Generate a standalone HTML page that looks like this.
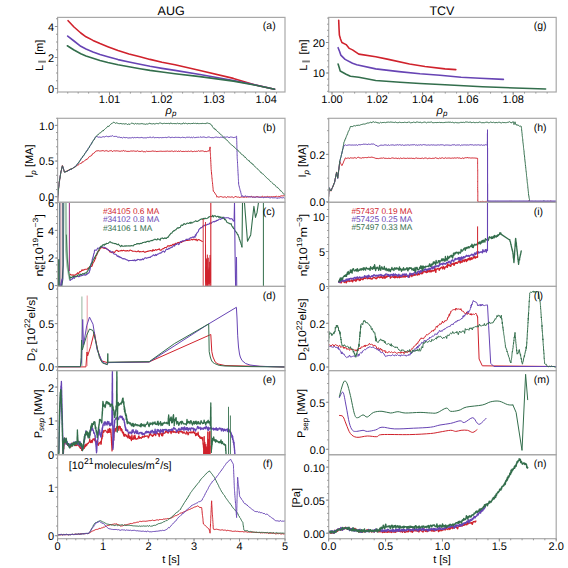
<!DOCTYPE html><html><head><meta charset="utf-8"><style>html,body{margin:0;padding:0;background:#fff;width:568px;height:568px;overflow:hidden}svg{display:block}</style></head><body><svg width="568" height="568" viewBox="0 0 568 568" text-rendering="geometricPrecision" font-family='"Liberation Sans", sans-serif'>
<rect width="568" height="568" fill="#fff"/>
<text x="171.10" y="14.80" font-size="12.50" text-anchor="middle" fill="#000" >AUG</text>
<text x="441.90" y="14.80" font-size="12.50" text-anchor="middle" fill="#000" >TCV</text>
<clipPath id="cl0"><rect x="57.60" y="17.40" width="227.40" height="74.60"/></clipPath>
<clipPath id="cr0"><rect x="328.70" y="17.40" width="227.50" height="74.60"/></clipPath>
<clipPath id="cl1"><rect x="57.60" y="118.30" width="227.40" height="84.00"/></clipPath>
<clipPath id="cr1"><rect x="328.70" y="118.30" width="227.50" height="84.00"/></clipPath>
<clipPath id="cl2"><rect x="57.60" y="202.30" width="227.40" height="84.10"/></clipPath>
<clipPath id="cr2"><rect x="328.70" y="202.30" width="227.50" height="84.10"/></clipPath>
<clipPath id="cl3"><rect x="57.60" y="286.40" width="227.40" height="84.20"/></clipPath>
<clipPath id="cr3"><rect x="328.70" y="286.40" width="227.50" height="84.20"/></clipPath>
<clipPath id="cl4"><rect x="57.60" y="370.60" width="227.40" height="84.10"/></clipPath>
<clipPath id="cr4"><rect x="328.70" y="370.60" width="227.50" height="84.10"/></clipPath>
<clipPath id="cl5"><rect x="57.60" y="454.70" width="227.40" height="84.00"/></clipPath>
<clipPath id="cr5"><rect x="328.70" y="454.70" width="227.50" height="84.00"/></clipPath>
<g clip-path="url(#cl0)">
<polyline points="68.1,20.7 74.0,27.0 80.8,33.0 86.0,36.8 93.0,40.4 100.0,43.6 107.8,46.7 118.0,50.5 129.0,54.0 140.0,56.8 150.0,59.4 162.0,62.2 175.0,64.7 200.0,70.5 233.4,78.4 254.5,84.7 274.6,89.2" fill="none" stroke="#d0222c" stroke-width="1.60" stroke-linejoin="round" stroke-linecap="round" opacity="1.00" />
<polyline points="67.7,36.1 74.0,41.0 80.8,46.3 86.0,49.0 93.0,52.0 100.0,54.6 107.8,56.8 118.0,59.6 129.0,62.0 140.0,64.3 150.0,66.3 162.0,68.4 175.0,70.4 200.0,74.5 233.4,80.5 254.5,84.8 274.6,89.2" fill="none" stroke="#6744b4" stroke-width="1.60" stroke-linejoin="round" stroke-linecap="round" opacity="1.00" />
<polyline points="67.3,45.8 74.0,50.0 80.8,53.7 86.0,56.0 93.0,58.3 100.0,60.5 107.8,62.5 118.0,64.8 129.0,66.8 140.0,68.7 150.0,70.4 162.0,72.0 175.0,73.7 200.0,76.6 233.4,81.1 254.5,85.0 274.6,89.2" fill="none" stroke="#336e4c" stroke-width="1.60" stroke-linejoin="round" stroke-linecap="round" opacity="1.00" />
</g>
<g clip-path="url(#cr0)">
<polyline points="338.7,20.3 339.0,28.0 339.4,35.1 340.5,39.0 341.9,42.5 346.1,44.6 349.3,48.4 352.5,49.9 358.8,54.1 375.7,56.8 388.4,59.4 409.5,64.0 425.0,66.5 445.0,68.9 455.8,69.6" fill="none" stroke="#d0222c" stroke-width="1.60" stroke-linejoin="round" stroke-linecap="round" opacity="1.00" />
<polyline points="338.1,47.7 339.6,51.5 340.8,55.1 345.1,59.4 352.5,63.2 356.7,64.7 375.7,68.9 399.0,71.6 420.0,73.8 440.0,75.2 461.1,77.3 480.0,78.2 503.4,79.4" fill="none" stroke="#6744b4" stroke-width="1.60" stroke-linejoin="round" stroke-linecap="round" opacity="1.00" />
<polyline points="338.1,64.0 339.2,67.5 340.2,71.0 346.1,74.2 350.4,76.3 358.8,77.3 375.7,80.5 400.0,82.2 420.0,83.5 445.0,84.7 482.3,86.8 515.0,88.0 545.6,89.0" fill="none" stroke="#336e4c" stroke-width="1.60" stroke-linejoin="round" stroke-linecap="round" opacity="1.00" />
</g>
<g clip-path="url(#cl1)">
<polyline points="57.6,202.0 57.6,201.5 57.7,200.7 57.7,199.4 57.7,198.7 57.7,197.8 57.8,197.3 57.8,196.3 57.9,195.7 58.0,194.2 58.0,194.3 58.1,193.1 58.2,192.4 58.3,191.4 58.4,190.6 58.5,190.0 58.5,189.3 58.6,188.2 58.7,187.4 58.8,186.8 58.9,185.6 59.0,184.6 59.0,184.3 59.1,183.2 59.2,182.1 59.3,181.6 59.5,180.9 59.6,179.9 59.7,179.0 59.9,178.5 60.0,177.9 60.1,176.8 60.2,175.9 60.4,175.4 60.5,174.6 60.6,173.6 60.8,173.0 60.9,172.3 61.1,171.2 61.3,170.2 61.5,169.7 61.6,168.9 61.8,168.3 62.0,167.0 62.2,166.3 62.4,165.5 62.7,166.1 62.9,167.3 63.2,168.2 63.5,168.7 63.7,170.0 64.0,170.6 64.2,171.4 64.5,172.1 65.3,171.9 66.2,171.0 67.0,171.2 67.9,170.7 68.9,169.6 69.8,169.6 70.9,169.1 72.0,169.0 72.7,168.2 73.4,167.9 74.0,167.5 74.7,166.8 75.4,166.7 76.1,166.1 76.8,165.8 77.5,165.1 78.2,165.0 78.9,164.5 79.6,163.8 80.3,163.6 81.0,163.3 81.8,163.0 82.5,161.7 83.2,161.9 83.9,161.3 84.6,160.7 85.3,160.0 86.0,160.2 86.7,159.1 87.3,159.0 88.0,158.6 88.6,157.3 89.2,157.1 89.9,156.2 90.5,156.1 91.1,155.8 91.8,155.4 92.4,153.9 93.0,153.6 93.7,153.3 94.3,153.0 94.9,152.1 95.6,151.3 96.2,151.0 97.0,150.9 97.9,150.8 98.7,150.7 99.5,151.0 100.4,151.0 101.2,150.9 102.0,150.8 102.9,150.6 103.7,150.8 104.5,151.2 105.3,150.9 106.2,150.5 107.0,151.2 107.8,151.0 108.7,151.4 109.5,150.9 110.3,150.8 111.2,150.5 112.0,151.2 112.8,151.6 113.6,150.7 114.4,150.8 115.2,151.1 116.0,150.7 116.8,150.9 117.6,150.9 118.4,151.0 119.2,151.3 120.0,151.0 120.8,151.3 121.6,150.9 122.4,151.1 123.2,150.5 124.0,150.7 124.8,151.3 125.6,150.9 126.4,151.3 127.2,151.3 128.0,151.5 128.8,151.3 129.6,151.4 130.4,151.1 131.2,151.0 132.0,151.0 132.8,151.1 133.6,150.9 134.4,151.1 135.2,151.2 136.0,151.3 136.8,151.2 137.6,150.8 138.4,151.3 139.2,151.3 140.0,151.6 140.8,151.4 141.6,151.1 142.4,151.1 143.2,151.8 144.1,151.5 144.9,151.8 145.7,151.8 146.5,151.1 147.3,151.4 148.1,151.4 148.9,151.4 149.7,151.4 150.5,151.4 151.4,151.3 152.2,150.9 153.0,151.3 153.8,151.1 154.6,151.3 155.4,151.2 156.2,151.5 157.0,151.5 157.8,151.4 158.6,151.4 159.5,151.3 160.3,151.2 161.1,151.3 161.9,151.2 162.7,151.4 163.5,151.3 164.3,151.4 165.1,151.0 165.9,151.5 166.8,151.1 167.6,151.1 168.4,151.3 169.2,151.2 170.0,151.4 170.8,151.2 171.6,151.0 172.4,151.1 173.3,151.6 174.1,151.3 174.9,151.0 175.7,151.3 176.5,150.9 177.3,151.7 178.1,150.9 179.0,151.4 179.8,151.4 180.6,150.9 181.4,151.4 182.2,151.5 183.0,151.4 183.8,151.4 184.7,151.5 185.5,151.3 186.3,151.4 187.1,151.3 187.9,151.5 188.7,151.1 189.6,151.5 190.4,151.2 191.2,151.0 192.0,151.4 192.8,151.7 193.6,151.5 194.4,151.2 195.3,151.5 196.1,151.2 196.9,151.3 197.7,151.3 198.5,150.7 199.3,151.3 200.1,151.0 201.0,151.1 201.8,150.9 202.6,150.9 203.4,151.1 204.2,151.5 205.0,151.7 205.8,151.3 206.7,151.6 207.5,151.2 208.3,150.8 209.1,151.3 209.3,150.6 209.5,149.5 209.7,148.9 209.9,148.1 210.1,146.9 210.1,147.5 210.2,148.7 210.2,149.5 210.3,150.3 210.3,151.4 210.3,152.4 210.4,152.7 210.4,153.8 210.5,154.7 210.5,155.4 210.5,156.3 210.6,156.8 210.6,157.9 210.6,159.0 210.7,159.5 210.7,160.0 210.8,161.1 210.8,162.1 210.8,162.7 210.9,163.2 210.9,164.6 211.0,164.7 211.0,166.0 211.0,166.6 211.1,167.2 211.1,168.6 211.2,169.2 211.2,169.6 211.3,170.9 211.4,171.4 211.4,171.9 211.5,173.0 211.6,174.0 211.7,174.9 211.8,175.6 211.8,176.4 211.9,177.3 212.0,178.0 212.1,179.1 212.2,179.7 212.2,180.5 212.3,181.4 212.4,181.8 212.5,182.7 212.6,184.1 212.7,184.6 212.7,185.2 212.8,186.2 212.9,186.8 213.0,187.8 213.1,188.4 213.1,189.4 213.2,189.8 213.3,191.3 213.8,191.5 214.2,191.9 214.7,192.9 215.2,193.6 215.6,194.4 216.1,194.7 216.6,195.8 217.0,197.2 217.5,196.7 218.3,197.1 219.1,196.9 219.9,197.0 220.7,196.5 221.5,196.7 222.3,197.1 223.1,197.0 223.9,197.4 224.7,196.8 225.5,197.0 226.3,197.7 227.1,196.8 227.9,196.8 228.8,197.0 229.6,197.0 230.4,197.2 231.2,197.0 232.0,196.8 232.8,197.1 233.6,197.7 234.4,197.3 235.2,196.3 236.0,197.0 236.8,196.8 237.6,197.2 238.4,197.0 239.2,197.5 240.0,197.2 240.8,197.2 241.6,197.0 242.4,197.0 243.2,197.1 244.1,197.3 244.9,197.1 245.7,196.9 246.5,197.3 247.3,197.0 248.1,196.9 248.9,196.7 249.7,196.8 250.5,196.8 251.4,196.2 252.2,197.2 253.0,197.1 253.8,196.9 254.6,197.2 255.4,197.0 256.2,197.0 257.0,196.3 257.8,196.8 258.6,197.0 259.5,197.3 260.3,197.3 261.1,197.2 261.9,196.6 262.7,196.3 263.5,197.0 264.3,196.8 265.1,197.1 265.9,196.8 266.8,196.9 267.6,196.4 268.4,196.9 269.2,196.7 270.0,196.9 270.8,196.9 271.7,196.7 272.5,196.8 273.3,196.6 274.2,196.8 275.0,196.7 275.8,196.4 276.7,196.3 277.5,196.9 278.3,196.4 279.2,196.6 280.0,196.4 280.8,196.0 281.7,195.8 282.5,195.9 283.3,195.8 284.2,195.8 285.0,195.2" fill="none" stroke="#d0222c" stroke-width="1.00" stroke-linejoin="round" stroke-linecap="round" opacity="1.00" />
<polyline points="57.6,202.0 57.6,201.4 57.7,200.6 57.7,199.7 57.7,199.1 57.7,197.6 57.8,197.0 57.8,196.0 57.9,195.5 58.0,194.9 58.0,193.9 58.1,193.2 58.2,191.8 58.3,191.5 58.4,190.4 58.5,190.3 58.5,189.3 58.6,188.5 58.7,187.4 58.8,186.8 58.9,186.0 59.0,184.9 59.0,184.1 59.1,183.4 59.2,182.4 59.3,181.6 59.5,180.9 59.6,180.0 59.7,179.5 59.9,178.1 60.0,177.9 60.1,176.7 60.2,175.9 60.4,174.9 60.5,174.4 60.6,173.6 60.8,172.9 60.9,171.9 61.1,171.2 61.3,170.9 61.5,169.7 61.6,168.7 61.8,168.3 62.0,167.2 62.2,166.6 62.4,165.9 62.7,166.4 62.9,166.8 63.2,168.0 63.5,169.0 63.7,169.5 64.0,170.5 64.2,171.5 64.5,171.9 65.3,172.0 66.2,171.7 67.0,171.3 67.9,170.8 68.9,170.3 69.8,170.1 70.9,169.2 72.0,168.8 72.7,168.5 73.4,167.7 74.0,167.1 74.7,166.8 75.4,166.6 76.1,166.2 76.6,165.0 77.1,164.3 77.5,164.0 78.0,163.3 78.5,162.7 79.0,162.2 79.5,161.6 80.0,160.7 80.4,160.1 80.9,159.0 81.4,158.3 81.9,158.0 82.4,157.4 82.8,156.7 83.3,156.0 83.8,155.4 84.3,154.7 84.8,153.4 85.3,153.0 85.7,152.6 86.2,151.9 86.7,150.7 87.1,150.7 87.6,149.6 88.0,149.0 88.4,148.4 88.9,147.9 89.3,146.7 89.7,146.6 90.2,145.7 90.6,144.8 91.0,144.2 91.5,143.1 91.9,142.8 92.3,142.3 92.7,141.4 93.2,140.8 93.6,140.2 94.0,139.5 94.5,139.1 94.9,138.1 95.3,137.4 95.8,136.9 96.2,136.6 97.2,136.6 98.3,137.3 99.1,136.7 99.9,137.4 100.8,137.2 101.6,137.3 102.4,136.9 103.2,136.6 104.1,137.0 104.9,136.9 105.7,136.4 106.5,136.2 107.3,136.6 108.2,136.4 109.0,137.1 109.8,136.2 110.6,136.2 111.5,136.2 112.3,135.7 113.1,135.9 113.9,136.7 114.7,136.4 115.5,136.4 116.3,136.3 117.1,137.0 117.8,137.1 118.6,137.2 119.4,137.1 120.2,137.5 121.0,137.6 121.8,137.5 122.6,138.0 123.4,137.3 124.2,137.5 125.0,137.7 125.8,137.7 126.6,137.5 127.4,137.8 128.2,138.0 129.0,137.9 129.9,137.8 130.7,137.9 131.5,137.8 132.3,137.4 133.1,137.7 133.9,138.0 134.7,137.4 135.5,137.7 136.3,137.6 137.1,137.5 137.9,137.4 138.7,137.7 139.5,137.7 140.3,137.7 141.1,137.3 141.9,137.6 142.8,137.7 143.6,137.9 144.4,137.8 145.2,137.8 146.0,137.9 146.8,137.8 147.6,137.4 148.4,137.6 149.2,137.4 150.0,137.0 150.8,137.2 151.6,138.1 152.4,137.3 153.2,137.0 154.0,137.4 154.8,137.9 155.7,137.5 156.5,137.6 157.3,137.5 158.1,137.5 158.9,137.8 159.7,137.7 160.5,137.5 161.3,137.7 162.1,137.8 162.9,137.4 163.7,137.6 164.5,137.5 165.3,137.3 166.1,137.8 166.9,137.4 167.7,137.3 168.6,137.0 169.4,137.1 170.2,137.8 171.0,137.1 171.8,137.5 172.6,137.3 173.4,137.5 174.2,137.6 175.0,137.2 175.8,137.3 176.6,137.4 177.4,137.4 178.2,137.4 179.0,137.3 179.8,137.5 180.6,137.7 181.5,137.5 182.3,137.2 183.1,137.5 183.9,137.4 184.7,137.5 185.5,137.8 186.3,137.3 187.1,137.4 187.9,137.1 188.7,137.3 189.5,137.2 190.3,137.7 191.1,137.4 191.9,137.2 192.7,137.8 193.6,137.0 194.4,137.6 195.2,137.6 196.0,137.5 196.8,137.3 197.6,137.3 198.4,137.2 199.2,137.5 200.0,136.7 200.8,137.2 201.6,137.3 202.4,137.2 203.2,136.9 204.0,137.2 204.8,137.1 205.7,137.5 206.5,137.6 207.3,137.3 208.1,136.8 208.9,137.2 209.7,137.1 210.5,137.5 211.3,137.7 212.1,137.4 212.9,137.8 213.7,137.7 214.5,137.4 215.3,137.1 216.1,137.3 216.9,136.9 217.8,137.5 218.6,137.3 219.4,137.6 220.2,137.4 221.0,136.8 221.8,137.4 222.6,137.5 223.4,137.7 224.2,137.0 225.0,137.0 225.8,137.3 226.6,137.0 227.4,136.9 228.2,137.0 229.0,137.9 229.9,137.1 230.7,137.0 231.5,137.1 232.3,137.2 233.1,137.6 233.9,137.5 234.7,137.4 235.5,137.2 236.6,136.2 236.6,136.8 236.6,137.4 236.7,139.1 236.7,139.3 236.7,140.5 236.7,140.9 236.8,141.8 236.8,142.6 236.8,143.1 236.8,144.3 236.9,145.2 236.9,146.1 236.9,146.8 236.9,147.8 236.9,148.4 237.0,149.2 237.0,149.5 237.0,150.7 237.0,152.0 237.1,152.5 237.1,153.4 237.1,154.0 237.1,154.7 237.2,156.2 237.2,156.6 237.2,157.7 237.2,158.3 237.3,158.9 237.3,159.2 237.4,160.6 237.4,161.0 237.5,161.6 237.5,163.3 237.6,163.9 237.6,164.7 237.6,165.4 237.7,166.2 237.7,167.1 237.8,167.8 237.8,168.6 237.9,169.6 237.9,169.6 237.9,171.2 238.0,171.7 238.0,172.8 238.1,173.7 238.1,174.0 238.2,175.2 238.2,176.0 238.3,176.5 238.3,177.3 238.3,178.3 238.4,178.5 238.4,179.8 238.5,180.7 238.5,181.4 238.6,181.9 238.6,183.0 238.7,184.3 238.7,185.0 238.9,185.4 239.1,186.0 239.3,187.0 239.5,187.8 239.7,188.4 239.9,189.3 240.1,190.3 240.4,191.1 240.6,191.1 240.8,192.7 241.0,193.2 241.2,194.3 241.4,194.7 241.6,195.6 241.8,196.7 242.6,195.6 243.5,196.8 244.3,196.5 245.1,196.0 245.9,195.9 246.8,196.7 247.6,196.4 248.4,196.9 249.2,196.8 250.1,196.7 250.9,197.0 251.7,196.9 252.6,197.1 253.4,197.1 254.2,197.1 255.0,197.2 255.9,197.3 256.7,196.8 257.5,197.1 258.3,197.2 259.2,197.2 260.0,196.9 260.8,197.2 261.6,197.4 262.4,197.4 263.2,197.8 264.0,197.3 264.9,197.3 265.7,197.3 266.5,197.4 267.3,197.4 268.1,197.1 268.9,197.6 269.7,197.8 270.5,197.9 271.3,197.3 272.1,197.6 273.0,198.1 273.8,197.7 274.6,197.8 275.4,197.7 276.2,198.0 277.0,198.0 277.8,198.4 278.6,197.9 279.4,198.0 280.2,197.6 281.1,197.8 281.9,197.7 282.7,197.9 283.5,197.6 284.3,198.3 285.1,197.7" fill="none" stroke="#6744b4" stroke-width="1.00" stroke-linejoin="round" stroke-linecap="round" opacity="1.00" />
<polyline points="57.6,202.5 57.6,200.4 57.7,200.6 57.7,199.6 57.7,199.1 57.7,198.0 57.8,197.6 57.8,196.3 57.9,195.4 58.0,194.8 58.0,194.0 58.1,193.0 58.2,192.2 58.3,191.6 58.4,190.8 58.5,189.7 58.5,189.0 58.6,187.8 58.7,187.9 58.8,186.6 58.9,186.2 59.0,185.1 59.0,184.7 59.1,183.8 59.2,182.7 59.3,182.2 59.5,180.7 59.6,180.5 59.7,179.0 59.9,178.6 60.0,178.0 60.1,176.9 60.2,176.0 60.4,175.1 60.5,174.4 60.6,173.9 60.8,173.0 60.9,171.9 61.1,170.9 61.3,170.6 61.5,169.3 61.6,168.7 61.8,167.9 62.0,167.5 62.2,166.5 62.4,165.8 62.7,166.6 62.9,167.1 63.2,168.2 63.5,169.2 63.7,169.6 64.0,170.6 64.2,171.2 64.5,172.3 65.3,171.8 66.2,171.6 67.0,171.1 67.9,170.9 68.9,169.9 69.8,169.4 70.9,169.0 72.0,169.0 72.7,168.2 73.4,167.7 74.0,167.6 74.7,167.3 75.4,166.7 76.1,165.4 76.6,165.2 77.1,164.5 77.5,163.8 78.0,163.3 78.5,163.1 79.0,161.9 79.5,161.1 80.0,160.8 80.4,160.0 80.9,159.3 81.4,158.4 81.9,157.9 82.4,157.3 82.8,156.1 83.3,155.5 83.8,155.5 84.3,154.7 84.8,153.7 85.3,152.9 85.7,152.4 86.2,151.5 86.7,151.0 87.1,150.8 87.6,149.8 88.0,149.3 88.4,148.3 88.9,147.8 89.3,147.4 89.7,146.0 90.2,145.6 90.6,144.9 91.0,144.4 91.5,144.0 91.9,143.1 92.3,141.9 92.7,141.5 93.2,140.6 93.6,140.0 94.0,140.0 94.5,138.6 94.9,138.2 95.3,137.3 95.8,137.0 96.2,136.2 96.8,135.6 97.5,135.1 98.1,134.9 98.7,133.8 99.3,133.4 100.0,132.8 100.6,132.9 101.2,132.0 101.8,131.3 102.5,130.9 103.1,131.1 103.7,130.0 104.3,129.7 105.0,129.1 105.6,128.5 106.2,127.8 106.8,127.4 107.5,126.9 108.1,125.9 108.7,126.6 109.3,125.7 110.0,125.0 110.6,124.4 111.2,123.7 111.8,123.7 112.5,122.9 113.1,122.5 113.9,122.2 114.7,122.7 115.5,123.3 116.3,122.8 117.1,123.2 117.8,123.2 118.6,123.6 119.4,123.7 120.2,123.5 121.0,123.5 121.8,123.8 122.6,123.9 123.4,123.7 124.2,124.0 125.0,124.0 125.8,123.7 126.6,123.8 127.4,124.6 128.2,124.1 129.0,123.9 129.9,124.5 130.7,123.7 131.5,123.2 132.3,123.3 133.1,123.4 133.9,123.9 134.7,124.1 135.5,123.3 136.3,124.1 137.1,123.5 137.9,123.8 138.7,123.9 139.5,123.9 140.3,123.8 141.1,123.8 141.9,123.5 142.8,123.8 143.6,124.0 144.4,124.0 145.2,124.4 146.0,124.0 146.8,123.9 147.6,124.1 148.4,123.8 149.2,123.4 150.0,123.1 150.8,124.0 151.6,123.8 152.4,123.9 153.2,123.6 154.0,123.7 154.8,124.1 155.7,123.7 156.5,123.4 157.3,123.5 158.1,124.0 158.9,123.4 159.7,123.0 160.5,123.0 161.3,123.3 162.1,123.8 162.9,123.6 163.7,123.4 164.5,123.3 165.3,123.5 166.1,123.5 166.9,123.4 167.7,123.5 168.6,123.4 169.4,124.0 170.2,122.9 171.0,123.6 171.8,123.3 172.6,123.7 173.4,123.5 174.2,123.6 175.0,123.6 175.8,123.6 176.6,123.7 177.4,123.2 178.3,123.7 179.1,123.4 179.9,123.6 180.7,123.9 181.5,123.8 182.3,124.0 183.2,122.9 184.0,123.3 184.8,123.7 185.6,123.2 186.4,123.5 187.2,123.9 188.1,123.7 188.9,123.3 189.7,123.6 190.5,123.7 191.3,123.5 192.1,123.5 193.0,123.5 193.8,123.1 194.6,123.5 195.4,123.3 196.2,123.6 197.0,123.6 197.9,123.3 198.7,123.7 199.5,123.6 200.3,123.5 201.1,123.7 201.9,123.4 202.8,123.4 203.6,123.5 204.4,123.5 205.2,123.8 206.0,122.9 206.8,123.4 207.7,123.0 208.5,123.4 209.3,123.6 210.1,123.5 210.7,124.5 211.2,125.1 211.8,125.1 212.3,126.3 212.9,127.5 213.5,128.1 214.1,128.3 214.7,128.4 215.2,129.9 215.8,129.4 216.4,130.5 217.0,131.0 217.6,131.6 218.2,131.8 218.8,132.5 219.4,133.5 219.9,133.6 220.5,134.0 221.1,134.8 221.7,135.4 222.3,135.9 222.9,136.3 223.5,137.2 224.1,137.6 224.6,137.9 225.2,138.8 225.8,139.3 226.4,139.8 227.0,139.9 227.6,140.7 228.2,141.6 228.8,142.2 229.3,142.7 229.9,143.2 230.5,143.9 231.1,144.5 231.7,145.2 232.3,145.4 232.9,145.7 233.5,146.6 234.0,146.5 234.6,147.6 235.2,148.0 235.8,148.6 236.4,149.3 237.0,149.8 237.6,149.9 238.2,150.8 238.8,151.2 239.3,152.0 239.9,152.6 240.5,152.8 241.1,153.8 241.7,154.5 242.3,154.6 242.9,155.4 243.5,155.4 244.0,156.2 244.6,157.2 245.2,157.0 245.8,157.9 246.4,158.4 247.0,159.4 247.6,160.0 248.2,160.1 248.7,160.8 249.3,160.7 249.9,162.1 250.5,162.5 251.1,163.3 251.7,162.9 252.3,164.2 252.9,164.6 253.4,164.5 254.0,165.6 254.6,166.3 255.2,167.0 255.8,167.4 256.4,167.8 257.0,168.6 257.6,169.0 258.2,169.4 258.7,169.9 259.3,170.7 259.9,171.3 260.5,172.3 261.1,172.2 261.7,173.3 262.3,173.5 262.9,174.3 263.4,174.3 264.0,174.9 264.6,175.6 265.2,176.4 265.8,176.8 266.4,177.5 267.0,178.0 267.6,178.7 268.1,179.0 268.7,179.4 269.3,180.2 269.9,180.7 270.5,181.6 271.1,181.7 271.7,182.3 272.3,182.8 272.8,183.7 273.4,184.2 274.0,184.6 274.6,184.7 275.2,185.2 275.8,186.2 276.4,186.9 277.0,187.6 277.5,187.3 278.1,188.3 278.7,188.5 279.3,189.2 279.9,189.9 280.5,190.9 281.2,191.1 281.9,191.7 282.5,192.4 283.1,193.4 283.8,194.3 284.5,193.9 285.1,194.8" fill="none" stroke="#336e4c" stroke-width="1.00" stroke-linejoin="round" stroke-linecap="round" opacity="1.00" />
</g>
<g clip-path="url(#cr1)">
<polyline points="328.2,201.7 328.3,201.2 328.3,199.5 328.4,199.6 328.4,198.4 328.5,197.4 328.6,196.6 328.6,195.7 328.7,195.1 328.7,194.6 328.8,193.7 328.8,192.9 328.9,191.5 329.0,190.7 329.0,190.7 329.1,189.8 329.1,189.3 329.2,188.2 329.6,188.4 330.0,189.8 330.5,190.5 330.9,191.2 331.2,190.1 331.6,189.6 331.9,188.7 332.2,188.2 332.5,187.3 332.9,186.9 333.2,185.5 333.5,185.0 333.8,184.3 334.2,183.2 334.5,182.3 334.7,182.0 334.8,181.1 335.0,180.1 335.1,179.4 335.3,178.4 335.5,177.8 335.6,176.7 335.8,176.1 336.0,175.5 336.1,174.4 336.3,173.8 336.4,172.6 336.6,171.9 336.7,172.5 336.9,173.6 337.0,174.4 337.1,175.2 337.3,175.9 337.4,177.1 337.6,178.0 337.7,178.1 337.8,177.9 337.9,176.4 338.0,175.8 338.1,175.1 338.2,174.4 338.3,173.3 338.4,172.6 338.5,172.0 338.6,171.0 338.7,170.2 338.8,169.7 338.9,169.0 339.0,167.9 339.1,167.1 339.2,166.3 339.3,165.4 339.4,164.6 339.5,163.7 339.6,163.3 339.7,162.3 339.8,161.5 340.2,162.4 340.6,163.3 341.1,164.4 341.5,164.8 341.9,165.6 342.2,165.0 342.5,164.0 342.9,163.8 343.2,163.0 343.5,162.2 343.8,161.2 344.1,160.7 344.5,160.0 344.8,159.2 345.1,158.2 345.9,157.9 346.7,158.5 347.5,158.1 348.4,158.0 349.2,158.4 350.0,158.2 350.8,157.7 351.6,158.0 352.4,158.0 353.2,158.3 354.1,157.5 354.9,157.9 355.7,157.9 356.5,158.3 357.3,157.6 358.1,157.1 358.9,157.5 359.8,157.9 360.6,158.0 361.4,158.2 362.2,157.8 363.0,157.5 363.8,157.9 364.6,157.6 365.5,157.5 366.3,157.6 367.1,157.8 367.9,157.3 368.7,157.2 369.5,157.4 370.3,157.4 371.2,157.2 372.0,157.1 372.8,157.4 373.6,157.6 374.4,157.8 375.3,158.2 376.1,158.6 377.0,158.2 377.8,158.6 378.6,158.6 379.4,158.4 380.2,158.2 381.0,158.3 381.8,158.0 382.6,158.2 383.4,157.8 384.2,158.1 385.0,158.6 385.8,158.2 386.6,158.4 387.4,158.5 388.2,158.2 389.0,158.4 389.8,158.4 390.6,158.5 391.4,158.1 392.2,157.9 393.0,158.0 393.8,158.2 394.6,158.4 395.4,158.2 396.2,158.2 397.0,158.3 397.8,158.6 398.6,158.2 399.4,158.7 400.2,158.0 401.0,158.2 401.8,158.5 402.6,158.4 403.4,158.1 404.2,158.3 405.0,158.1 405.8,158.5 406.6,158.4 407.4,158.1 408.2,158.4 409.0,158.2 409.8,158.3 410.6,158.3 411.4,158.2 412.2,158.4 413.0,158.4 413.8,158.4 414.6,158.6 415.4,158.2 416.2,157.9 417.0,158.2 417.8,158.4 418.6,158.3 419.4,158.4 420.2,158.5 421.0,158.3 421.8,158.3 422.6,158.1 423.4,158.6 424.2,158.2 425.0,158.0 425.8,158.0 426.6,158.2 427.4,158.7 428.2,158.5 429.0,157.9 429.8,158.3 430.6,158.4 431.4,158.5 432.2,158.4 433.0,158.1 433.8,158.4 434.6,158.2 435.4,157.7 436.2,158.1 437.0,158.1 437.8,158.5 438.6,158.6 439.4,158.0 440.2,158.3 441.0,158.3 441.8,157.9 442.6,157.8 443.4,158.3 444.2,158.3 445.0,158.2 445.8,157.6 446.6,158.3 447.5,158.1 448.3,158.0 449.1,158.2 449.9,157.9 450.7,158.3 451.6,158.2 452.4,158.0 453.2,158.2 454.0,158.1 454.8,157.8 455.7,158.1 456.5,158.0 457.3,157.7 458.1,157.9 458.9,158.2 459.8,157.9 460.6,158.4 461.4,158.5 462.2,157.9 463.0,158.1 463.9,158.5 464.7,157.9 465.5,157.7 466.3,157.8 467.1,157.6 468.0,157.6 468.8,158.0 469.6,157.8 470.4,158.0 471.2,158.1 472.0,157.8 472.8,158.0 473.6,158.0 474.4,158.0 475.2,158.0 476.0,158.3 476.8,158.2 477.6,158.4 477.6,159.4 477.6,160.2 477.6,160.4 477.6,161.3 477.6,162.2 477.6,163.1 477.6,164.1 477.6,164.5 477.6,165.4 477.6,166.4 477.6,167.4 477.6,168.3 477.6,168.5 477.7,169.5 477.7,170.1 477.7,171.3 477.7,172.0 477.7,172.6 477.7,173.4 477.7,174.4 477.7,175.4 477.7,175.7 477.7,176.7 477.7,177.6 477.7,178.4 477.7,179.2 477.7,179.7 477.7,180.6 477.7,181.0 477.7,182.4 477.7,183.4 477.7,183.4 477.7,184.6 477.7,185.8 477.7,186.3 477.7,186.7 477.7,188.3 477.7,188.4 477.7,189.9 477.7,190.2 477.8,191.0 477.8,192.0 477.8,192.8 477.8,193.7 477.8,194.5 477.8,195.1 477.8,196.3 477.8,197.0 477.8,197.7 477.8,198.4 477.8,199.2 477.8,200.0 477.8,201.0 477.8,201.7 478.6,201.6 479.4,201.9 480.2,201.5 481.0,201.7 481.8,201.8 482.6,201.3 483.4,201.5 484.2,202.0 485.1,201.4 485.9,201.9 486.7,201.3 487.5,201.7 488.3,201.3 489.1,201.4 489.9,201.5 490.7,201.5 491.5,201.9 492.3,201.8 493.1,201.8 493.9,201.6 494.7,202.0 495.5,201.9 496.3,201.7 497.1,201.3 498.0,201.8 498.8,201.8 499.6,201.6 500.4,201.8 501.2,201.8 502.0,201.5 502.8,201.7 503.6,201.7 504.4,201.7 505.2,201.5 506.0,201.5 506.8,201.6 507.6,202.0 508.4,202.2 509.2,201.5 510.0,201.3 510.9,201.5 511.7,201.4 512.5,201.5 513.3,201.7 514.1,201.4 514.9,201.8 515.7,201.8 516.5,202.0 517.3,202.1 518.1,201.8 518.9,202.2 519.7,201.5 520.5,201.7 521.3,201.6 522.1,201.7 522.9,201.9 523.8,201.5 524.6,202.0 525.4,201.9 526.2,201.7 527.0,201.7 527.8,201.4 528.6,201.0 529.4,201.6 530.2,201.7 531.0,201.7 531.8,201.3 532.6,201.5 533.4,202.0 534.2,201.8 535.0,201.8 535.8,201.5 536.7,201.8 537.5,201.9 538.3,201.8 539.1,201.5 539.9,201.7 540.7,201.4 541.5,201.5 542.3,201.8 543.1,201.5 543.9,201.5 544.7,202.0 545.5,201.6 546.3,201.8 547.1,201.5 547.9,201.3 548.7,201.6 549.6,201.5 550.4,201.1 551.2,201.3 552.0,201.5 552.8,202.0 553.6,201.5 554.4,201.6 555.2,201.8 556.0,201.7" fill="none" stroke="#d0222c" stroke-width="1.00" stroke-linejoin="round" stroke-linecap="round" opacity="1.00" />
<polyline points="328.2,201.3 328.3,200.5 328.3,199.7 328.4,199.0 328.4,198.7 328.5,197.2 328.6,197.0 328.6,196.3 328.7,195.1 328.7,194.2 328.8,193.7 328.8,193.0 328.9,192.5 329.0,191.3 329.0,190.7 329.1,189.4 329.1,188.5 329.2,187.5 329.6,188.4 330.0,189.4 330.5,190.3 330.9,190.8 331.2,190.5 331.6,189.5 331.9,188.6 332.2,187.8 332.5,187.7 332.9,186.5 333.2,185.5 333.5,184.7 333.8,184.6 334.2,183.2 334.5,182.9 334.7,182.1 334.8,180.4 335.0,180.5 335.1,179.3 335.3,178.3 335.5,177.6 335.6,177.0 335.8,176.2 336.0,175.4 336.1,174.3 336.3,174.0 336.4,173.2 336.6,172.5 336.7,173.1 336.9,174.1 337.0,174.9 337.1,175.4 337.3,176.2 337.4,176.9 337.6,177.7 337.7,178.6 337.8,177.2 337.9,176.7 338.0,176.1 338.1,174.7 338.2,174.0 338.3,174.0 338.4,172.5 338.5,171.8 338.6,171.3 338.7,170.2 338.8,169.3 338.9,168.6 339.0,167.8 339.1,167.0 339.2,166.4 339.3,165.9 339.4,164.8 339.5,164.3 339.6,163.3 339.7,162.5 339.8,161.6 340.0,160.6 340.2,159.9 340.4,159.0 340.6,157.8 340.9,157.4 341.1,156.5 341.3,155.6 341.5,154.6 341.7,153.2 341.9,153.4 342.1,152.2 342.3,150.9 342.5,150.8 342.7,149.7 342.9,149.3 343.2,148.3 343.4,147.8 343.6,146.8 343.8,146.0 344.0,145.2 344.8,145.5 345.6,144.8 346.4,145.4 347.2,145.3 348.0,144.9 348.8,145.0 349.6,144.9 350.4,145.0 351.2,145.2 352.0,144.8 352.8,145.1 353.6,145.1 354.4,145.0 355.2,145.2 356.0,144.8 356.8,144.9 357.6,145.4 358.4,144.7 359.2,144.7 360.0,144.7 360.8,144.8 361.6,144.5 362.4,144.5 363.2,144.1 364.0,144.3 364.8,144.2 365.6,144.2 366.4,144.3 367.2,144.6 368.0,144.3 368.8,144.0 369.6,144.4 370.4,144.4 371.2,143.9 372.0,144.3 372.8,144.0 373.6,144.0 374.4,144.4 375.3,145.2 376.1,145.3 377.0,145.8 377.8,146.3 378.6,146.2 379.4,145.9 380.2,145.1 381.0,145.3 381.8,145.1 382.6,145.3 383.4,145.3 384.2,144.9 385.0,145.0 385.8,144.9 386.6,145.1 387.4,145.4 388.2,145.0 389.0,144.8 389.8,145.6 390.6,144.8 391.4,145.0 392.2,145.0 393.0,144.7 393.8,145.2 394.6,145.3 395.4,145.0 396.2,145.0 397.0,145.0 397.8,144.6 398.6,145.1 399.4,144.7 400.2,144.8 401.0,145.1 401.8,145.2 402.6,144.8 403.4,145.3 404.2,145.4 405.0,145.0 405.8,145.0 406.6,145.1 407.4,144.9 408.2,144.8 409.0,145.2 409.8,145.2 410.6,144.9 411.4,144.9 412.2,144.8 413.0,144.8 413.8,144.8 414.6,144.6 415.4,145.2 416.2,144.9 417.0,145.0 417.8,145.4 418.6,144.9 419.4,145.1 420.2,144.7 421.0,144.8 421.8,145.2 422.6,144.9 423.4,144.6 424.2,144.6 425.0,145.1 425.8,144.8 426.6,145.2 427.4,145.1 428.2,144.9 429.0,145.0 429.8,145.2 430.6,145.0 431.4,144.8 432.2,145.1 433.0,144.9 433.8,144.9 434.6,145.1 435.4,145.1 436.2,145.2 437.0,145.0 437.8,144.9 438.6,144.9 439.4,145.1 440.2,144.8 441.0,144.9 441.8,144.8 442.6,144.8 443.4,145.0 444.2,145.6 445.0,144.9 445.8,145.1 446.6,145.0 447.4,145.0 448.3,145.0 449.1,145.5 449.9,144.9 450.7,145.4 451.5,145.2 452.3,144.8 453.1,144.8 453.9,144.9 454.8,144.7 455.6,145.3 456.4,145.1 457.2,145.1 458.0,144.7 458.8,145.1 459.6,144.9 460.5,145.6 461.3,145.0 462.1,145.1 462.9,145.1 463.7,144.9 464.5,144.9 465.3,144.9 466.1,145.2 467.0,144.8 467.8,145.0 468.6,145.1 469.4,144.9 470.2,144.7 471.0,144.7 471.8,144.9 472.7,144.8 473.5,145.2 474.3,145.0 475.1,145.0 475.9,144.8 476.7,145.1 477.5,144.9 478.4,144.8 479.2,144.8 480.0,145.6 480.8,144.9 481.6,144.8 482.4,145.3 483.2,145.2 484.0,144.9 484.9,145.3 485.7,144.6 486.5,144.9 487.3,144.6 487.3,144.5 487.3,143.4 487.3,143.2 487.3,141.9 487.4,141.1 487.4,139.9 487.4,139.1 487.4,138.5 487.4,138.0 487.4,136.7 487.4,135.6 487.4,135.6 487.4,134.8 487.4,133.6 487.5,133.1 487.5,132.5 487.5,131.7 487.5,130.2 487.5,129.8 487.5,130.4 487.5,131.6 487.5,132.2 487.5,132.7 487.5,133.8 487.5,134.7 487.5,135.0 487.5,135.8 487.5,136.8 487.5,137.7 487.5,138.4 487.5,138.9 487.5,139.8 487.5,141.0 487.5,141.9 487.5,142.4 487.5,143.4 487.5,144.6 487.5,144.9 487.5,145.7 487.5,146.4 487.5,147.5 487.6,148.2 487.6,149.0 487.6,149.7 487.6,150.7 487.6,151.5 487.6,152.1 487.6,153.3 487.6,153.4 487.6,154.8 487.6,155.4 487.6,156.4 487.6,157.5 487.6,157.8 487.6,158.5 487.6,159.4 487.6,160.5 487.6,161.4 487.6,161.8 487.6,162.8 487.6,163.8 487.6,164.3 487.6,164.6 487.6,165.6 487.6,166.5 487.6,167.5 487.6,168.1 487.6,169.3 487.6,169.7 487.6,171.0 487.6,171.2 487.6,172.5 487.6,173.0 487.6,174.2 487.6,175.1 487.6,175.8 487.6,176.5 487.6,176.8 487.6,177.6 487.6,177.8 487.6,179.8 487.6,180.5 487.6,181.3 487.6,181.5 487.6,183.3 487.6,183.2 487.7,184.4 487.7,184.6 487.7,185.7 487.7,186.9 487.7,187.7 487.7,187.9 487.7,189.0 487.7,190.1 487.7,190.2 487.7,191.6 487.7,191.8 487.7,193.2 487.7,193.7 487.7,194.9 487.7,195.3 487.7,196.1 487.7,196.9 487.7,197.6 487.7,198.5 487.7,199.2 487.7,200.1 487.7,201.2 487.7,201.7 488.5,202.1 489.3,202.0 490.1,202.0 490.9,201.5 491.7,201.9 492.5,202.2 493.3,202.0 494.1,202.1 494.9,202.2 495.7,201.4 496.5,201.9 497.3,201.9 498.1,201.8 498.9,201.5 499.8,201.8 500.6,201.8 501.4,202.3 502.2,202.1 503.0,201.7 503.8,201.5 504.6,201.6 505.4,201.8 506.2,201.6 507.0,202.3 507.8,201.5 508.6,201.8 509.4,201.8 510.2,201.9 511.0,201.6 511.8,201.7 512.6,201.8 513.4,201.9 514.2,201.7 515.0,201.7 515.8,201.9 516.6,202.3 517.4,201.5 518.2,202.0 519.0,202.2 519.8,201.5 520.6,202.2 521.4,202.2 522.3,201.8 523.1,202.1 523.9,202.2 524.7,201.8 525.5,201.9 526.3,201.6 527.1,201.6 527.9,201.8 528.7,201.8 529.5,202.2 530.3,201.8 531.1,201.5 531.9,202.0 532.7,202.0 533.5,201.9 534.3,201.8 535.1,201.6 535.9,201.7 536.7,202.2 537.5,202.0 538.3,201.8 539.1,201.9 539.9,201.7 540.7,201.6 541.5,201.7 542.3,201.8 543.1,201.4 543.9,201.5 544.8,201.4 545.6,201.7 546.4,202.0 547.2,201.5 548.0,201.5 548.8,201.4 549.6,201.7 550.4,201.5 551.2,201.6 552.0,201.5 552.8,202.4 553.6,201.8 554.4,201.6 555.2,201.7 556.0,202.0" fill="none" stroke="#6744b4" stroke-width="1.00" stroke-linejoin="round" stroke-linecap="round" opacity="1.00" />
<polyline points="328.2,201.7 328.3,200.8 328.3,200.0 328.4,198.6 328.4,198.5 328.5,197.0 328.6,197.0 328.6,196.1 328.7,195.4 328.7,194.6 328.8,193.6 328.8,192.6 328.9,191.9 329.0,191.5 329.0,190.2 329.1,189.5 329.1,188.5 329.2,187.8 329.6,188.6 330.0,189.6 330.5,190.2 330.9,191.0 331.2,190.2 331.6,189.6 331.9,188.4 332.2,188.0 332.5,187.6 332.9,186.3 333.2,185.7 333.5,185.6 333.8,183.9 334.2,183.0 334.5,182.5 334.7,182.2 334.8,181.5 335.0,179.8 335.1,179.5 335.3,178.5 335.5,177.6 335.6,176.4 335.8,176.3 336.0,175.0 336.1,174.5 336.3,173.7 336.4,173.3 336.6,172.3 336.7,172.5 336.9,173.5 337.0,174.7 337.1,174.9 337.3,175.9 337.4,176.9 337.6,177.2 337.7,178.1 337.8,177.2 337.9,176.9 338.0,175.8 338.1,175.4 338.2,174.4 338.3,173.7 338.4,172.7 338.5,172.1 338.6,171.1 338.7,170.1 338.8,169.8 338.9,169.0 339.0,168.5 339.1,167.1 339.2,166.2 339.3,165.2 339.4,163.8 339.5,163.6 339.6,163.2 339.7,162.1 339.8,160.9 340.0,160.8 340.2,159.7 340.4,158.9 340.6,158.0 340.9,157.2 341.1,156.5 341.3,155.1 341.5,154.6 341.7,153.7 341.9,153.3 342.1,151.9 342.2,151.8 342.4,150.7 342.5,150.2 342.7,148.8 342.9,148.4 343.0,147.4 343.2,146.2 343.4,145.7 343.5,144.8 343.7,143.9 343.8,143.1 344.0,142.1 344.3,141.6 344.6,141.1 344.9,140.0 345.2,139.1 345.5,139.0 345.8,137.9 346.1,137.2 346.4,136.4 346.7,135.6 347.0,135.1 347.4,134.0 347.7,133.4 348.0,132.3 348.3,131.5 348.6,131.0 348.9,130.9 349.2,129.7 349.5,129.4 349.8,128.2 350.1,127.5 350.4,126.5 351.2,126.4 352.1,126.7 352.9,126.4 353.8,125.8 354.6,125.7 355.4,126.0 356.3,125.4 357.1,125.6 358.0,125.0 358.8,125.3 359.6,125.3 360.4,124.9 361.3,124.6 362.1,124.4 362.9,124.2 363.7,124.0 364.6,124.1 365.4,123.9 366.2,123.6 367.0,123.0 367.8,123.0 368.7,123.0 369.5,122.7 370.3,122.2 371.1,122.5 372.0,122.8 372.8,121.7 373.6,121.8 374.5,122.4 375.4,122.1 376.2,122.3 377.1,122.6 378.0,122.9 378.9,122.9 379.7,123.1 380.5,122.3 381.4,122.8 382.2,122.6 383.0,122.4 383.8,122.5 384.6,122.4 385.4,122.7 386.2,122.3 387.0,122.4 387.8,122.1 388.6,122.1 389.4,122.3 390.2,122.0 391.1,122.2 391.9,122.1 392.7,122.3 393.5,122.4 394.3,122.6 395.1,121.9 395.9,122.3 396.7,122.6 397.5,122.7 398.3,122.8 399.1,122.0 399.9,122.3 400.7,122.5 401.5,122.6 402.3,122.5 403.1,122.5 403.9,122.5 404.7,122.2 405.5,122.4 406.4,122.6 407.2,122.3 408.0,122.7 408.8,121.7 409.6,122.3 410.4,122.8 411.2,122.6 412.0,122.8 412.8,122.4 413.6,122.1 414.4,122.3 415.2,122.8 416.0,121.9 416.8,122.2 417.6,122.0 418.4,122.3 419.2,122.3 420.0,122.5 420.8,122.2 421.6,122.8 422.5,122.6 423.3,122.3 424.1,122.2 424.9,122.0 425.7,122.4 426.5,122.9 427.3,122.4 428.1,122.1 428.9,122.4 429.7,122.3 430.5,122.2 431.3,121.9 432.1,122.4 432.9,122.8 433.7,122.7 434.5,122.6 435.3,122.5 436.1,122.5 436.9,122.7 437.8,122.4 438.6,122.5 439.4,122.3 440.2,122.7 441.0,122.2 441.8,122.6 442.6,122.6 443.4,122.6 444.2,122.6 445.0,122.3 445.8,122.3 446.6,122.3 447.4,122.3 448.2,122.1 449.0,122.3 449.9,122.2 450.7,122.2 451.5,122.5 452.3,122.2 453.1,122.5 453.9,122.8 454.7,122.8 455.5,122.4 456.3,122.7 457.1,122.5 457.9,123.0 458.7,122.8 459.6,122.7 460.4,122.4 461.2,122.3 462.0,122.5 462.8,122.4 463.6,122.3 464.4,122.6 465.2,122.1 466.0,121.9 466.8,122.1 467.6,122.1 468.5,122.4 469.3,122.2 470.1,122.4 470.9,121.9 471.7,122.8 472.5,122.5 473.3,122.2 474.1,122.5 474.9,122.7 475.7,122.6 476.5,122.4 477.4,122.6 478.2,122.6 479.0,122.1 479.8,122.0 480.6,122.3 481.4,122.7 482.2,122.8 483.0,122.4 483.8,122.8 484.6,122.7 485.4,122.4 486.2,122.2 487.1,122.2 487.9,122.4 488.7,122.8 489.5,122.6 490.3,122.1 491.1,122.1 491.9,122.6 492.7,122.5 493.5,122.2 494.3,122.6 495.1,122.7 496.0,122.6 496.8,122.4 497.6,122.7 498.4,122.3 499.2,122.3 500.0,122.2 500.8,122.9 501.6,122.9 502.4,122.4 503.2,122.6 504.0,122.5 504.8,122.6 505.7,122.7 506.5,122.6 507.3,122.4 508.1,122.3 508.9,122.1 509.7,121.7 510.9,122.7 512.0,122.8 512.5,122.3 513.0,121.5 513.3,122.2 513.7,123.4 514.0,124.6 514.3,123.7 514.7,122.6 515.0,121.8 515.3,123.1 515.7,123.9 516.0,124.9 517.0,124.9 518.0,125.2 518.8,125.4 519.6,126.4 520.5,126.1 521.3,126.4 521.4,127.8 521.5,128.2 521.6,128.8 521.6,129.9 521.7,130.0 521.8,131.5 521.9,132.2 522.0,133.1 522.1,133.6 522.2,134.9 522.2,135.5 522.3,136.2 522.4,137.1 522.5,137.6 522.6,138.6 522.7,139.0 522.8,139.9 522.8,141.1 522.9,141.8 523.0,142.8 523.1,143.2 523.2,144.1 523.3,144.8 523.4,145.8 523.5,146.8 523.5,147.6 523.6,148.3 523.7,148.8 523.8,149.8 523.9,150.3 524.0,150.9 524.1,152.2 524.1,153.0 524.2,153.9 524.3,154.8 524.4,155.0 524.5,155.9 524.6,157.0 524.7,157.8 524.7,158.7 524.8,159.0 524.9,160.1 525.0,161.1 525.1,162.2 525.2,162.2 525.3,163.7 525.3,164.1 525.4,164.6 525.5,166.1 525.6,166.3 525.7,167.0 525.8,168.3 525.9,169.2 525.9,169.7 526.0,170.4 526.1,171.0 526.2,172.2 526.3,172.3 526.4,173.4 526.5,174.8 526.5,175.5 526.6,176.4 526.7,177.0 526.8,177.4 526.9,178.6 527.0,178.9 527.1,180.3 527.2,181.3 527.2,181.5 527.3,182.8 527.4,183.3 527.5,184.1 527.6,184.4 527.7,185.7 527.8,186.7 527.8,186.9 527.9,188.0 528.0,188.7 528.1,189.3 528.2,190.8 528.3,191.3 528.4,192.1 528.4,193.1 528.5,193.5 528.6,195.3 528.7,195.2 528.9,195.9 529.0,197.2 529.2,198.1 529.3,198.7 529.5,199.6 529.6,200.9 529.8,201.7 530.6,201.7 531.4,201.8 532.3,201.4 533.1,201.9 533.9,201.6 534.7,201.8 535.5,201.4 536.3,201.8 537.2,201.7 538.0,202.2 538.8,201.6 539.6,202.0 540.4,201.8 541.3,202.0 542.1,201.7 542.9,201.7 543.7,201.0 544.5,201.3 545.4,201.9 546.2,201.7 547.0,201.8 547.8,201.5 548.6,201.8 549.5,201.5 550.3,201.6 551.1,201.9 551.9,201.9 552.7,201.5 553.5,201.6 554.4,201.7 555.2,201.6 556.0,201.6" fill="none" stroke="#336e4c" stroke-width="1.00" stroke-linejoin="round" stroke-linecap="round" opacity="1.00" />
<line x1="487.5" y1="129.8" x2="487.5" y2="201.8" stroke="#6744b4" stroke-width="1.0"/>
<line x1="487.5" y1="201.3" x2="556" y2="201.3" stroke="#6744b4" stroke-width="1.8"/>
</g>
<g clip-path="url(#cl2)">
<rect x="57.6" y="259.2" width="2.0" height="27.2" fill="#336e4c"/>
<line x1="59.9" y1="202" x2="59.9" y2="286.4" stroke="#34506a" stroke-width="1.2"/>
<line x1="61.0" y1="202" x2="61.0" y2="286.4" stroke="#e3aab4" stroke-width="1.0"/>
<polyline points="63.0,202.0 63.1,265.0 62.6,279.0 61.6,286.4" fill="none" stroke="#3e5a6a" stroke-width="1.60" stroke-linejoin="round" stroke-linecap="round" opacity="1.00" />
<polyline points="60.4,286.4 61.2,283.0 62.2,279.0" fill="none" stroke="#6744b4" stroke-width="1.20" stroke-linejoin="round" stroke-linecap="round" opacity="1.00" />
<polyline points="65.6,202.0 66.3,250.0 67.6,266.0 69.0,274.0 70.0,279.0" fill="none" stroke="#a9c9b4" stroke-width="2.60" stroke-linejoin="round" stroke-linecap="round" opacity="1.00" />
<polyline points="66.4,235.0 67.2,258.0 68.5,271.0 70.0,279.6" fill="none" stroke="#3f7a55" stroke-width="1.00" stroke-linejoin="round" stroke-linecap="round" opacity="1.00" />
<line x1="69.4" y1="202" x2="69.4" y2="271" stroke="#a03c8c" stroke-width="1.1"/>
<polyline points="70.1,274.3 71.1,274.8 72.0,275.2 73.0,274.7 74.0,275.6 74.7,275.0 75.5,274.8 76.2,274.1 76.9,274.1 77.6,272.7 78.4,273.5 79.1,272.8 79.8,271.5 80.5,271.7 81.3,271.1 82.0,269.7 82.8,270.5 83.6,269.8 84.4,269.7 85.1,269.3 85.9,269.2 86.7,269.2 87.5,268.9 88.3,267.7 89.1,267.9 89.9,266.9 90.7,266.5 91.5,266.4 91.9,266.2 92.3,265.3 92.7,263.9 93.0,263.1 93.4,262.2 93.8,261.9 94.2,261.4 94.6,260.2 94.9,259.7 95.2,258.8 95.6,258.5 95.9,256.1 96.2,255.3 96.5,255.4 96.8,255.0 97.2,253.7 97.5,253.3 97.8,251.8 98.3,251.0 98.7,250.6 99.2,250.6 99.6,249.9 100.1,248.6 100.5,248.3 101.0,247.2 101.8,247.7 102.6,247.4 103.4,248.1 104.2,248.0 104.9,248.5 105.7,248.4 106.5,248.5 107.3,249.2 107.9,249.6 108.6,250.4 109.2,250.8 109.9,251.9 110.5,251.9 111.3,252.5 112.1,252.6 112.9,251.7 113.7,252.4 114.5,252.4 115.2,251.5 116.0,250.6 116.8,250.3 117.6,250.8 118.4,251.5 119.2,251.0 120.1,251.0 120.9,250.6 121.7,250.4 122.5,250.9 123.4,250.2 124.2,250.6 125.0,250.9 125.9,250.7 126.7,250.9 127.5,250.5 128.3,251.0 129.2,250.9 130.0,250.0 130.8,250.3 131.7,250.5 132.5,251.3 133.4,251.2 134.2,251.3 135.1,251.3 135.9,251.6 136.8,251.8 137.6,251.2 138.5,250.9 139.3,252.0 140.2,251.6 141.0,251.8 141.9,251.8 142.7,251.5 143.5,251.2 144.3,252.2 145.1,252.1 145.9,251.9 146.7,251.5 147.4,251.4 148.2,251.0 149.0,251.1 149.8,250.7 150.6,250.5 151.4,250.8 152.2,251.3 153.0,249.6 153.8,250.6 154.6,250.5 155.4,249.5 156.2,250.1 156.9,249.9 157.7,249.5 158.5,249.4 159.3,248.8 160.1,250.1 160.9,250.3 161.7,249.8 162.5,248.7 163.2,248.6 164.0,248.4 164.7,247.5 165.5,247.5 166.2,247.5 167.0,246.8 167.7,245.9 168.5,245.8 169.2,246.2 170.0,245.6 170.7,245.4 171.5,245.8 172.2,244.9 173.0,244.3 173.7,244.3 174.5,245.0 175.2,243.2 176.0,244.2 176.7,243.7 177.5,242.7 178.3,242.4 179.1,243.0 179.9,242.3 180.7,241.7 181.5,242.5 182.3,241.6 183.1,241.4 183.8,241.1 184.6,240.7 185.4,240.7 186.2,240.2 187.0,240.4 187.8,240.4 188.6,240.2 189.4,240.1 190.2,240.0 191.1,239.7 191.9,239.2 192.8,240.0 193.7,239.0 194.5,239.5 195.4,240.0 196.2,239.2 197.1,240.8 198.0,239.7 198.8,239.6 199.7,240.1 200.6,240.4 201.5,241.1 202.4,241.4" fill="none" stroke="#d0222c" stroke-width="1.10" stroke-linejoin="round" stroke-linecap="round" opacity="1.00" />
<polyline points="70.0,280.4 70.7,280.0 71.4,279.2 72.1,279.1 72.8,278.2 73.5,277.2 74.2,278.4 74.9,277.5 75.6,276.0 76.4,276.3 77.2,276.3 78.0,276.5 78.8,276.8 79.6,276.2 80.4,275.7 81.2,275.9 81.9,275.4 82.7,275.4 83.5,274.9 84.3,274.5 85.1,275.4 85.9,274.5 86.7,274.6 87.5,273.7 88.2,273.2 89.0,272.7 89.2,272.4 89.4,271.9 89.6,270.8 89.8,269.5 90.0,270.2 90.2,268.5 90.4,267.8 90.6,266.3 90.8,265.7 91.0,265.2 91.2,263.4 91.4,263.0 91.6,262.8 91.8,262.9 92.0,261.2 92.2,259.7 92.4,258.9 92.6,259.1 92.8,257.5 93.0,256.9 93.2,257.1 93.4,255.5 93.6,254.5 93.8,253.5 94.0,253.7 94.2,252.9 94.4,251.2 94.6,250.1 95.4,250.1 96.2,250.3 97.0,249.3 97.8,248.1 98.6,248.3 99.4,248.0 100.2,247.2 101.0,246.8 101.8,247.0 102.6,247.1 103.4,247.3 104.2,247.3 104.9,247.7 105.7,247.7 106.5,249.0 107.3,249.3 108.0,249.6 108.6,250.2 109.3,250.5 109.9,250.6 110.6,251.5 111.2,251.7 111.9,252.3 112.6,251.9 113.2,253.0 113.9,253.9 114.5,254.1 115.2,254.3 115.9,254.3 116.6,255.1 117.4,256.4 118.1,255.8 118.8,256.9 119.5,256.6 120.2,257.6 120.9,257.3 121.7,258.0 122.4,258.5 123.1,258.9 123.9,258.5 124.7,259.0 125.5,259.1 126.3,259.7 127.1,259.9 127.9,260.3 128.7,261.0 129.5,260.5 130.3,260.5 131.1,260.5 131.9,260.5 132.8,260.2 133.6,260.6 134.4,259.8 135.2,261.0 136.0,260.1 136.8,260.4 137.7,259.3 138.5,259.5 139.3,259.6 140.1,260.2 140.9,259.4 141.7,259.9 142.5,258.8 143.4,259.7 144.2,258.5 145.0,257.9 145.8,257.7 146.6,258.4 147.3,257.9 148.1,257.8 148.8,257.4 149.6,257.3 150.3,257.5 151.1,256.4 151.9,256.3 152.6,255.7 153.4,254.8 154.1,255.2 154.9,255.7 155.6,254.4 156.4,255.5 157.2,254.4 157.9,254.0 158.7,253.9 159.4,253.2 160.2,252.9 160.9,253.2 161.7,252.0 162.4,251.9 163.1,251.0 163.8,251.2 164.5,252.2 165.3,251.0 166.0,249.6 166.7,248.9 167.4,249.5 168.1,249.2 168.8,248.2 169.5,248.7 170.2,247.9 170.9,247.7 171.6,247.3 172.4,247.1 173.1,246.0 173.8,245.5 174.5,246.1 175.2,245.0 175.9,244.1 176.6,244.5 177.3,243.7 178.0,243.7 178.7,244.6 179.5,243.6 180.2,242.2 180.9,241.5 181.6,241.6 182.3,240.8 183.1,241.1 183.9,240.8 184.7,240.7 185.5,240.1 186.3,239.2 187.1,239.4 187.9,239.2 188.7,239.0 189.4,239.1 190.2,237.8 191.0,237.9 191.8,237.5 192.6,237.0 193.4,237.4 194.2,236.6 195.0,237.4 195.4,234.7 195.9,235.8 196.3,234.2 196.7,233.1 197.1,233.0 197.6,232.2 198.0,231.9 198.4,231.3 198.8,229.6 199.3,229.3 199.7,228.7 200.4,228.2 201.1,227.5 201.8,227.8 202.4,226.9 203.1,225.7 203.8,226.0 204.5,225.3 205.2,225.0 206.0,225.2 206.7,224.8 207.5,224.4 208.2,224.2 209.0,224.1 209.7,223.1 210.5,223.1 211.2,223.4 212.0,222.2 212.7,222.0 213.5,221.6 214.3,222.0 215.1,221.0 215.9,221.4 216.7,220.4 217.5,220.4 218.2,220.1 219.0,219.4 219.8,218.9 220.6,219.4 221.4,218.5 222.2,218.6 223.0,218.3 223.8,217.1 224.7,218.3 225.6,217.9 226.5,217.8 227.4,217.8 228.3,217.8 229.2,218.3 230.1,219.1 230.9,218.6 231.7,218.7 232.5,219.5 233.3,221.1 234.1,220.7" fill="none" stroke="#6744b4" stroke-width="1.10" stroke-linejoin="round" stroke-linecap="round" opacity="1.00" />
<polyline points="70.0,277.9 70.8,277.2 71.6,277.5 72.4,277.0 73.2,276.1 74.0,277.0 74.8,276.3 75.6,276.4 76.4,276.7 77.2,275.8 78.0,274.9 78.7,274.9 79.5,275.4 80.3,274.1 81.1,274.6 81.9,274.4 82.7,273.5 83.5,273.9 84.3,273.8 85.1,273.0 85.9,272.9 86.7,273.1 87.1,271.6 87.4,271.0 87.8,271.1 88.2,270.0 88.5,268.6 88.9,268.5 89.3,268.7 89.7,266.4 90.0,266.7 90.4,265.9 90.8,264.8 91.1,264.4 91.5,263.1 91.9,263.4 92.3,262.7 92.7,260.8 93.1,260.4 93.5,259.8 93.9,258.8 94.3,258.5 94.7,257.1 95.1,257.1 95.5,256.0 95.9,255.4 96.2,254.9 96.6,254.4 97.0,252.8 97.4,252.9 97.8,252.2 98.2,251.0 98.6,251.0 99.0,249.3 99.4,248.7 99.8,248.3 100.2,247.1 100.6,247.4 101.0,246.1 101.8,246.4 102.6,244.9 103.4,244.6 104.2,245.3 105.0,243.9 105.8,244.5 106.5,243.3 107.3,243.5 108.1,243.5 108.9,242.6 109.7,241.8 110.5,241.8 111.3,242.8 112.1,242.7 112.9,243.2 113.7,243.2 114.5,243.6 115.3,243.6 116.0,243.5 116.8,244.5 117.6,244.7 118.4,244.0 119.2,245.1 120.0,245.9 120.8,246.6 121.6,245.4 122.4,246.1 123.3,246.3 124.1,246.3 125.0,245.7 125.8,246.2 126.6,245.8 127.5,246.0 128.3,245.8 129.2,246.1 130.0,245.8 130.8,245.9 131.6,245.6 132.4,245.8 133.2,246.0 133.9,245.0 134.7,244.5 135.5,244.5 136.3,244.2 137.1,243.5 137.9,244.0 138.7,243.6 139.5,244.0 140.3,243.3 141.1,243.6 141.9,243.3 142.6,242.6 143.4,242.5 144.2,242.2 145.0,242.0 145.8,242.4 146.6,241.6 147.4,241.5 148.2,241.1 149.0,241.9 149.8,241.0 150.6,240.9 151.4,240.4 152.1,240.7 152.9,240.1 153.7,240.0 154.5,239.2 155.3,239.2 156.1,239.8 156.9,239.9 157.7,238.7 158.5,239.3 159.3,239.2 160.1,240.3 160.9,238.3 161.7,238.3 162.4,237.9 163.2,238.6 164.0,238.5 164.8,237.8 165.6,238.4 166.4,238.5 167.2,237.2 168.0,237.4 168.5,236.5 169.1,235.6 169.6,235.0 170.1,234.5 170.7,233.4 171.2,233.3 171.9,233.1 172.6,231.7 173.3,231.3 173.9,230.6 174.6,230.6 175.3,229.8 176.0,229.7 176.7,228.7 177.5,227.8 178.2,228.3 178.9,227.5 179.7,227.7 180.4,227.1 181.1,225.2 181.8,225.0 182.6,225.5 183.3,224.7 184.0,223.6 184.8,224.0 185.5,224.4 186.3,223.9 187.1,223.0 187.9,223.3 188.7,223.5 189.4,222.7 190.2,223.4 191.0,222.1 191.8,223.1 192.6,222.7 193.4,222.0 194.2,221.7 194.9,221.4 195.7,220.8 196.5,221.4 197.3,221.4 198.1,221.0 198.9,220.5 199.6,220.1 200.4,219.4 201.2,219.3 201.9,218.7 202.7,219.3 203.5,218.4 204.2,219.0 205.0,218.0 205.8,218.7 206.6,218.5 207.3,218.3 208.1,217.8 208.9,216.9 209.6,216.7 210.4,216.2 211.2,216.5 211.9,216.8 212.7,215.3 213.5,217.0 214.3,215.8 215.1,215.7 215.9,216.5 216.7,216.9 217.4,216.4 218.2,216.3 219.0,217.7 219.8,216.5 220.6,217.6 221.4,217.3 222.2,217.2 222.8,218.0 223.5,218.0 224.1,218.5 224.7,219.7 225.4,219.6 226.0,220.3 226.6,221.8 227.3,222.5 227.9,222.7 228.5,223.1 229.2,223.2 229.8,223.8 230.4,224.0 231.1,223.6 231.7,225.5 232.1,226.2 232.6,227.2 233.0,226.9 233.5,228.6 233.9,228.5 234.4,228.9 234.8,230.0 235.3,231.2 235.8,231.5 236.2,232.4 236.7,232.5 237.1,233.8 237.6,234.7 238.0,234.5 238.3,235.9 238.5,235.9 238.8,237.4 239.1,237.4 239.3,239.0 239.6,239.7 239.9,239.9 240.1,241.4 240.4,241.6 240.7,242.9 240.9,243.2 241.2,244.7 241.5,245.0 241.7,246.6 242.0,247.0" fill="none" stroke="#336e4c" stroke-width="1.10" stroke-linejoin="round" stroke-linecap="round" opacity="1.00" />
<line x1="203.2" y1="219" x2="203.2" y2="286.4" stroke="#d0222c" stroke-width="0.9"/>
<line x1="205.5" y1="222" x2="205.5" y2="286.4" stroke="#d0222c" stroke-width="0.9"/>
<line x1="210.8" y1="202" x2="210.8" y2="286.4" stroke="#d0222c" stroke-width="1.1"/>
<polyline points="205.5,245.0 205.8,281.6 206.0,266.9 206.2,283.3 206.5,258.6 206.7,286.1 206.9,260.1 207.1,283.9 207.4,254.7 207.6,286.1 207.8,270.0 208.0,282.5 208.3,257.8 208.5,283.8 208.7,269.6 208.9,281.0 209.2,267.5 209.4,284.0 209.6,261.9 209.8,282.3 210.1,255.0 210.3,283.1 210.5,258.3" fill="none" stroke="#d0222c" stroke-width="0.70" stroke-linejoin="round" stroke-linecap="round" opacity="1.00" />
<rect x="206.0" y="272" width="4.5" height="14.4" fill="#d0222c" opacity="0.75"/>
<polyline points="242.0,246.8 242.5,202.0 244.4,202.0 247.5,241.2 250.7,234.9 253.9,206.3 255.5,217.4 257.0,212.7 258.6,202.0" fill="none" stroke="#336e4c" stroke-width="1.10" stroke-linejoin="round" stroke-linecap="round" opacity="1.00" />
<line x1="263.4" y1="202" x2="263.4" y2="286.4" stroke="#336e4c" stroke-width="1"/>
<polyline points="234.1,220.6 234.5,203.0 235.0,250.0 235.6,286.4" fill="none" stroke="#6744b4" stroke-width="1.10" stroke-linejoin="round" stroke-linecap="round" opacity="1.00" />
<polyline points="236.0,286.4 236.5,257.0 236.8,286.4" fill="none" stroke="#6744b4" stroke-width="0.90" stroke-linejoin="round" stroke-linecap="round" opacity="1.00" />
</g>
<g clip-path="url(#cr2)">
<polyline points="338.7,281.4 339.2,282.5 339.7,282.2 340.2,282.6 340.7,281.0 341.2,282.9 341.7,282.0 342.2,280.9 342.7,280.7 343.2,280.7 343.7,281.1 344.2,282.5 344.7,282.2 345.2,281.0 345.7,280.9 346.2,282.8 346.7,281.9 347.2,280.5 347.7,281.0 348.2,280.7 348.7,281.0 349.2,281.6 349.7,280.6 350.2,281.0 350.7,281.1 351.2,281.2 351.7,280.0 352.2,280.2 352.7,281.9 353.3,280.1 353.8,280.2 354.3,280.5 354.8,279.6 355.3,279.7 355.8,281.2 356.3,280.9 356.8,278.9 357.3,279.7 357.8,278.6 358.3,278.3 358.8,279.5 359.3,280.6 359.8,279.2 360.3,280.4 360.8,278.3 361.3,279.2 361.8,279.1 362.3,279.0 362.8,279.7 363.3,279.2 363.8,278.3 364.3,277.6 364.8,278.1 365.3,278.5 365.8,278.0 366.3,277.1 366.8,276.9 367.3,278.8 367.8,278.4 368.3,277.7 368.8,278.5 369.3,278.5 369.8,277.9 370.3,277.7 370.8,278.9 371.3,278.7 371.8,279.1 372.3,278.8 372.8,278.1 373.3,277.5 373.8,277.6 374.3,277.4 374.8,277.9 375.3,278.0 375.8,278.7 376.3,278.8 376.8,277.7 377.3,278.0 377.9,276.7 378.4,277.1 378.9,276.8 379.4,277.7 379.9,277.1 380.4,276.9 380.9,277.5 381.4,276.0 381.9,277.4 382.4,277.8 382.9,278.4 383.4,276.5 383.9,277.0 384.4,275.7 384.9,278.4 385.4,277.1 385.9,277.4 386.4,276.0 386.9,277.0 387.4,276.7 387.9,276.2 388.4,276.2 388.9,276.3 389.4,276.4 389.9,275.6 390.4,278.1 390.9,277.0 391.4,277.0 391.9,277.0 392.4,276.7 392.9,276.8 393.4,277.2 393.9,276.6 394.4,277.8 394.9,276.5 395.4,277.6 395.9,275.9 396.4,276.9 396.9,277.2 397.4,277.6 397.9,277.6 398.4,275.8 398.9,276.0 399.5,277.7 400.0,276.2 400.5,275.3 401.0,277.3 401.5,276.9 402.0,275.4 402.5,275.9 403.0,277.3 403.5,276.0 404.0,275.8 404.5,275.9 405.0,277.3 405.5,274.9 406.0,276.4 406.5,276.2 407.0,276.4 407.5,276.6 408.0,276.0 408.5,276.4 409.0,276.3 409.5,277.1 410.0,274.1 410.5,275.6 411.0,275.7 411.4,274.4 411.9,276.5 412.4,275.7 412.9,273.8 413.4,274.8 413.9,275.5 414.4,274.9 414.8,274.1 415.3,275.1 415.8,274.7 416.3,273.6 416.8,274.1 417.3,275.1 417.8,274.9 418.3,273.1 418.7,273.3 419.2,274.7 419.7,274.0 420.2,273.4 420.7,273.0 421.2,273.3 421.7,273.8 422.1,271.1 422.6,273.5 423.1,272.0 423.6,271.5 424.1,271.9 424.6,271.5 425.1,271.4 425.5,272.1 426.0,271.6 426.5,272.6 427.0,270.5 427.5,272.2 428.0,270.5 428.5,271.5 429.0,271.0 429.4,271.8 429.9,270.0 430.4,270.9 430.9,272.0 431.4,271.6 431.9,270.3 432.4,271.0 432.8,271.1 433.3,270.6 433.8,271.0 434.3,270.7 434.8,268.0 435.3,270.2 435.8,272.4 436.2,269.1 436.7,269.1 437.2,269.2 437.7,268.4 438.2,268.7 438.7,268.8 439.2,270.3 439.7,268.4 440.1,268.9 440.6,268.2 441.1,267.5 441.6,267.6 442.1,267.1 442.6,268.9 443.1,267.5 443.5,266.5 444.0,267.5 444.5,269.0 445.0,267.4 445.5,267.0 445.9,267.1 446.4,266.4 446.9,265.7 447.4,267.4 447.8,263.6 448.3,265.6 448.8,265.1 449.3,265.5 449.7,264.9 450.2,266.2 450.7,266.4 451.2,265.1 451.6,263.8 452.1,264.0 452.6,264.2 453.1,263.6 453.5,263.1 454.0,265.3 454.5,264.5 454.9,262.8 455.4,262.7 455.9,263.3 456.4,262.5 456.8,263.3 457.3,263.3 457.8,262.6 458.3,261.6 458.7,261.9 459.2,260.7 459.7,261.5 460.2,263.1 460.6,261.0 461.1,261.9 461.6,262.1 462.1,262.3 462.6,259.9 463.0,260.6 463.5,260.2 464.0,261.6 464.5,261.3 465.0,259.5 465.5,259.7 466.0,260.3 466.4,261.6 466.9,259.5 467.4,260.6 467.9,258.9 468.4,258.4 468.9,259.9 469.4,258.5 469.8,257.8 470.3,259.9 470.8,259.3 471.3,257.6 471.8,259.2 472.3,258.7 472.7,258.7 473.2,257.3 473.7,257.7 474.2,256.2 474.7,256.1 475.2,258.3 475.7,257.1 476.1,257.5 476.6,257.1 477.1,256.7 477.6,256.6" fill="none" stroke="#d0222c" stroke-width="1.35" stroke-linejoin="round" stroke-linecap="round" opacity="1.00" />
<polyline points="338.7,282.2 339.2,281.0 339.7,282.3 340.2,282.3 340.7,279.9 341.2,280.3 341.7,281.3 342.1,280.8 342.6,280.9 343.1,280.1 343.6,281.3 344.1,281.1 344.6,280.4 345.1,281.1 345.6,280.5 346.1,279.3 346.6,280.1 347.1,278.9 347.6,280.3 348.1,279.4 348.6,279.1 349.1,278.6 349.5,280.0 350.0,278.8 350.5,278.4 351.0,278.3 351.5,278.9 352.0,278.6 352.5,278.5 353.0,278.5 353.5,279.8 354.0,277.7 354.5,277.6 355.0,277.3 355.5,278.4 356.0,278.7 356.5,277.7 357.1,277.0 357.6,277.0 358.1,278.1 358.6,278.1 359.1,277.9 359.6,276.9 360.1,277.5 360.6,277.4 361.1,277.4 361.6,277.9 362.1,277.3 362.6,277.6 363.1,277.1 363.6,277.2 364.1,277.4 364.6,275.7 365.1,276.5 365.7,276.4 366.2,276.2 366.7,276.4 367.2,277.8 367.7,275.8 368.2,277.2 368.7,275.1 369.2,276.1 369.7,276.4 370.2,276.7 370.7,276.8 371.2,276.8 371.7,275.8 372.2,275.6 372.7,276.6 373.2,275.8 373.8,274.8 374.3,274.9 374.8,275.0 375.3,276.1 375.8,275.7 376.3,276.1 376.8,275.2 377.3,275.6 377.8,275.9 378.3,275.1 378.8,275.8 379.3,274.9 379.8,275.1 380.3,275.1 380.8,274.4 381.3,275.7 381.8,275.0 382.3,275.4 382.8,275.7 383.3,275.7 383.8,275.9 384.3,275.2 384.8,275.0 385.3,275.2 385.9,273.9 386.4,274.1 386.9,274.2 387.4,274.5 387.9,275.6 388.4,274.5 388.9,275.0 389.4,276.3 389.9,275.0 390.4,275.8 390.9,274.5 391.4,275.1 391.9,274.5 392.4,274.9 392.9,275.9 393.4,273.8 393.9,275.5 394.4,275.4 394.9,274.7 395.4,274.0 395.9,275.2 396.4,274.7 396.9,275.3 397.4,275.2 397.9,276.4 398.4,274.9 398.9,274.3 399.4,275.3 399.9,275.3 400.4,276.2 400.9,275.8 401.4,275.4 402.0,276.3 402.5,274.1 403.0,274.6 403.5,274.3 404.0,274.8 404.5,274.0 405.0,275.6 405.5,274.9 406.0,273.9 406.5,274.2 407.0,275.3 407.5,275.7 408.0,276.6 408.5,277.3 409.0,275.3 409.5,274.2 410.0,273.1 410.5,274.9 410.9,273.9 411.4,274.0 411.9,273.7 412.4,273.9 412.9,274.8 413.3,273.9 413.8,273.5 414.3,272.6 414.8,271.9 415.3,272.7 415.7,272.9 416.2,274.2 416.7,272.8 417.2,273.3 417.7,271.9 418.1,271.2 418.6,271.2 419.1,271.3 419.6,273.4 420.1,270.9 420.5,272.1 421.0,270.5 421.5,271.8 422.0,271.2 422.5,270.6 422.9,270.6 423.4,269.9 423.9,270.7 424.4,269.8 424.9,269.0 425.3,268.8 425.8,269.8 426.3,270.8 426.8,269.5 427.2,269.1 427.7,269.3 428.2,269.9 428.7,268.9 429.2,268.2 429.6,269.3 430.1,268.6 430.6,269.3 431.1,268.1 431.6,266.8 432.0,266.5 432.5,268.8 433.0,268.7 433.5,267.0 434.0,266.7 434.4,268.0 434.9,265.8 435.4,265.8 435.9,266.9 436.4,265.9 436.8,266.1 437.3,265.8 437.8,266.0 438.3,266.7 438.8,265.5 439.2,265.8 439.7,263.5 440.2,264.9 440.7,264.1 441.2,263.7 441.6,263.8 442.1,264.1 442.6,264.9 443.1,263.0 443.6,263.9 444.0,263.3 444.5,263.3 445.0,264.2 445.5,263.7 446.0,264.1 446.5,262.8 447.0,262.2 447.4,262.4 447.9,262.6 448.4,262.4 448.9,261.2 449.4,262.0 449.9,262.0 450.4,263.6 450.9,263.0 451.3,260.6 451.8,260.9 452.3,259.8 452.8,260.4 453.3,260.9 453.8,261.5 454.3,259.8 454.8,259.7 455.2,258.3 455.7,259.7 456.2,258.9 456.7,259.1 457.2,258.7 457.7,259.1 458.2,257.7 458.7,257.7 459.1,260.4 459.6,257.6 460.1,257.5 460.6,259.7 461.1,260.4 461.6,257.0 462.1,257.5 462.5,257.9 463.0,258.9 463.5,256.6 464.0,257.0 464.5,257.7 465.0,257.2 465.4,256.4 465.9,256.5 466.4,255.3 466.9,256.1 467.4,255.9 467.9,256.2 468.3,255.4 468.8,256.1 469.3,256.3 469.8,255.5 470.3,255.5 470.8,255.1 471.2,254.9 471.7,254.2 472.2,254.9 472.7,254.4 473.2,256.0 473.7,255.4 474.1,254.3 474.6,253.2 475.1,252.8 475.6,254.5 476.1,253.6 476.6,253.6 477.0,251.7 477.5,253.7 478.0,253.2 478.5,251.8 479.0,252.2 479.5,252.7 480.0,252.4 480.5,252.0 481.0,252.0 481.5,251.8 482.0,252.0 482.4,252.9 482.9,249.6 483.4,251.3 483.9,251.5 484.4,251.5 484.9,250.9 485.4,249.6 485.9,251.2 486.4,252.2 486.9,249.5" fill="none" stroke="#6744b4" stroke-width="1.35" stroke-linejoin="round" stroke-linecap="round" opacity="1.00" />
<polyline points="338.7,281.6 339.1,281.7 339.5,280.0 339.9,279.3 340.3,277.8 340.6,280.7 341.0,279.3 341.4,279.2 341.8,277.8 342.2,279.7 342.6,279.0 343.0,277.5 343.4,276.7 343.8,276.6 344.2,275.8 344.5,276.4 344.9,275.3 345.3,276.3 345.7,274.9 346.1,274.6 346.5,276.4 347.0,273.6 347.4,272.4 347.8,274.3 348.2,271.3 348.7,273.6 349.1,274.1 349.5,272.8 349.9,272.5 350.4,269.9 350.8,272.5 351.2,272.1 351.6,270.1 352.1,273.2 352.5,269.5 353.0,268.9 353.5,268.7 354.0,270.6 354.5,270.9 355.0,270.9 355.5,270.0 356.0,269.4 356.5,271.1 357.0,269.1 357.5,268.7 358.0,271.5 358.5,270.1 359.0,270.3 359.5,270.4 360.0,269.0 360.5,269.0 361.0,270.2 361.5,268.7 362.0,269.7 362.5,269.2 363.1,267.9 363.6,270.2 364.1,267.6 364.6,269.2 365.1,269.0 365.6,270.2 366.1,267.5 366.6,268.1 367.1,268.5 367.6,268.7 368.1,269.4 368.6,268.7 369.1,268.3 369.6,269.3 370.1,270.4 370.6,266.6 371.1,268.0 371.6,268.7 372.1,267.9 372.6,269.3 373.1,267.3 373.6,266.5 374.1,268.6 374.6,264.7 375.1,267.3 375.6,270.5 376.2,268.0 376.7,268.4 377.2,267.1 377.7,268.2 378.2,268.1 378.7,270.4 379.2,267.3 379.7,265.4 380.2,269.0 380.7,270.3 381.3,267.9 381.8,266.8 382.3,267.7 382.8,269.4 383.3,268.4 383.8,269.1 384.3,266.5 384.8,268.6 385.3,270.1 385.8,269.0 386.4,268.3 386.9,270.6 387.4,270.6 387.9,269.1 388.4,268.9 388.9,271.1 389.4,269.1 389.9,269.5 390.4,271.6 390.9,269.8 391.4,269.1 391.9,267.4 392.4,269.6 392.9,269.5 393.4,268.9 393.9,270.5 394.4,268.1 394.9,267.8 395.4,268.6 395.9,269.4 396.5,267.8 397.0,268.1 397.5,268.4 398.0,269.3 398.5,268.5 399.0,270.4 399.5,266.8 400.0,269.7 400.5,268.6 401.0,269.7 401.5,271.4 402.0,269.1 402.5,269.4 403.0,270.1 403.5,267.7 404.0,269.8 404.5,270.0 405.0,268.9 405.5,269.8 406.0,269.2 406.5,268.2 407.0,267.6 407.5,270.1 408.0,270.9 408.5,268.1 409.0,269.4 409.5,267.6 410.0,268.4 410.5,268.4 411.0,267.6 411.5,268.8 412.0,270.0 412.6,269.5 413.1,268.3 413.6,270.4 414.1,269.0 414.6,270.8 415.1,267.3 415.6,272.1 416.1,268.5 416.6,267.4 417.1,267.5 417.6,269.7 418.1,269.7 418.6,269.6 419.1,269.3 419.6,267.4 420.1,268.5 420.6,265.9 421.0,267.3 421.5,268.8 422.0,265.8 422.4,270.3 422.9,268.9 423.4,266.1 423.9,268.0 424.3,267.6 424.8,266.7 425.3,267.3 425.7,266.2 426.2,266.3 426.7,266.7 427.1,266.5 427.6,266.2 428.1,266.0 428.6,266.5 429.0,266.1 429.5,263.8 430.0,264.1 430.4,266.3 430.9,266.3 431.4,265.0 431.8,263.9 432.3,264.9 432.8,264.6 433.3,262.0 433.7,263.6 434.2,261.8 434.7,262.6 435.1,263.0 435.6,264.7 436.1,260.3 436.5,262.0 437.0,263.0 437.5,262.8 438.0,262.8 438.4,260.6 438.9,261.4 439.4,260.8 439.8,262.6 440.3,260.8 440.8,260.8 441.2,260.8 441.7,259.0 442.2,260.8 442.7,258.9 443.1,260.1 443.6,258.9 444.1,260.9 444.5,259.4 445.0,261.3 445.4,256.5 445.9,260.2 446.3,259.4 446.8,258.6 447.2,260.4 447.7,256.2 448.1,257.8 448.6,258.7 449.0,257.7 449.5,256.4 449.9,257.3 450.4,255.9 450.8,255.8 451.3,255.2 451.7,256.8 452.2,255.8 452.6,258.0 453.1,255.9 453.5,253.1 453.9,255.4 454.4,253.0 454.8,253.7 455.3,253.9 455.7,252.3 456.2,252.7 456.6,252.3 457.1,253.0 457.5,252.5 458.0,252.2 458.4,254.0 458.9,252.5 459.3,252.1 459.8,252.6 460.2,253.2 460.7,252.5 461.1,249.5 461.6,251.1 462.0,251.1 462.5,251.1 463.0,249.7 463.4,249.8 463.9,248.5 464.4,248.9 464.9,247.8 465.3,250.3 465.8,248.1 466.3,247.4 466.7,248.6 467.2,248.1 467.7,247.1 468.1,248.0 468.6,246.7 469.1,247.8 469.6,247.0 470.0,247.0 470.5,246.2 471.0,245.6 471.4,246.5 471.9,244.2 472.4,247.3 472.8,245.1 473.3,247.6 473.8,245.9 474.2,244.8 474.7,244.1 475.2,245.1 475.7,244.8 476.1,244.6 476.6,244.8 477.1,243.8 477.5,244.8 478.0,242.5 478.5,242.9 478.9,243.6 479.4,241.9 479.9,242.6 480.3,244.0 480.8,242.2 481.2,241.4 481.7,243.0 482.2,240.3 482.6,241.0 483.1,242.3 483.6,240.1 484.0,241.0 484.5,240.5 484.9,242.1 485.4,238.6 485.9,239.4 486.3,239.4 486.8,240.0 487.2,240.0 487.7,239.6 488.2,240.5 488.6,239.5 489.1,237.2 489.6,236.8 490.0,237.6 490.5,237.4 490.9,237.3 491.4,238.7 491.9,236.7 492.3,238.4 492.8,238.3 493.3,236.9 493.7,236.1 494.2,237.9 494.7,235.4 495.2,236.6 495.6,236.2 496.1,237.2 496.6,236.0 497.1,235.4 497.5,236.4 498.0,234.6 498.5,235.5 498.9,234.8 499.4,234.5 499.9,232.7 500.4,234.2 500.8,232.9 501.3,234.4 509.7,240.0 509.8,239.7 509.9,240.3 510.0,241.2 510.2,241.6 510.3,241.9 510.4,241.8 510.5,241.9 510.6,243.2 510.7,243.2 510.8,244.5 511.0,244.6 511.1,244.5 511.2,245.6 511.3,246.4 511.4,246.5 511.5,246.5 511.6,247.6 511.8,248.1 511.9,248.9 512.0,249.3 512.1,248.8 512.2,249.6 512.3,250.7 512.4,249.8 512.6,251.8 512.7,251.3 512.8,252.1 512.9,253.7 513.0,253.3 513.0,253.6 513.1,254.5 513.1,254.7 513.2,254.9 513.2,255.9 513.3,257.6 513.4,257.4 513.4,257.6 513.5,258.0 513.5,258.8 513.6,259.2 513.7,258.8 513.7,260.1 513.8,260.3 513.8,261.8 513.9,261.2 513.9,262.6 514.0,261.6 514.0,262.0 514.1,260.9 514.1,260.3 514.1,260.7 514.2,259.2 514.2,259.2 514.2,258.3 514.3,258.5 514.3,257.9 514.3,255.9 514.4,257.2 514.4,255.9 514.4,256.9 514.5,255.7 514.5,255.3 514.5,252.8 514.6,254.7 514.6,253.2 514.6,251.9 514.7,252.4 514.7,252.4 514.7,250.2 514.8,251.3 514.8,250.0 514.8,249.3 514.9,248.9 514.9,248.2 514.9,248.3 515.0,247.8 515.0,247.7 515.0,247.4 515.1,245.9 515.1,246.2 515.1,244.4 515.2,245.0 515.2,243.4 515.2,243.3 515.3,243.4 515.3,242.1 515.3,242.3 515.4,240.7 515.4,240.6 515.4,240.9 515.5,240.9 515.5,238.9 515.5,239.9 515.6,238.7 515.6,239.3 515.7,238.3 515.7,238.7 515.8,239.7 515.8,239.4 515.9,240.6 516.0,241.0 516.0,242.3 516.1,242.2 516.1,241.8 516.2,242.2 516.2,242.9 516.3,242.8 516.4,243.2 516.4,246.2 516.5,245.0 516.5,246.7 516.6,246.0 516.7,246.7 516.7,246.5 516.8,248.7 516.8,248.2 516.9,249.9 517.0,249.0 517.0,250.7 517.1,251.3 517.1,250.1 517.2,251.7 517.2,251.3 517.3,251.8 517.4,253.0 517.4,253.9 517.5,254.7 517.5,254.2 517.6,255.5 517.7,255.8 517.7,255.9 517.8,255.9 517.8,257.0 517.9,259.5 518.0,257.4 518.0,258.3 518.1,258.4 518.1,260.2 518.2,261.0 518.2,261.2 518.3,262.1 518.4,261.4 518.4,262.9 518.5,261.9 518.5,263.8 518.6,264.3 518.7,262.5 518.8,262.9 518.9,261.2 519.0,260.5 519.1,260.0 519.2,259.7 519.4,259.2 519.5,259.3 519.6,259.9 519.7,258.2 519.8,257.3 519.9,257.7 520.0,256.6 520.1,256.3 520.2,256.0 520.3,255.5 520.4,254.3 520.5,254.1 520.7,254.3 520.8,253.0 520.9,252.6 521.0,252.4 521.1,252.0 521.2,251.0 521.3,251.0" fill="none" stroke="#336e4c" stroke-width="1.30" stroke-linejoin="round" stroke-linecap="round" opacity="1.00" />
<line x1="477.6" y1="226.4" x2="477.6" y2="258" stroke="#d0222c" stroke-width="1"/>
<line x1="487.5" y1="202" x2="487.5" y2="251" stroke="#6744b4" stroke-width="1.1"/>
</g>
<g clip-path="url(#cl3)">
<line x1="81.9" y1="296.5" x2="81.9" y2="366" stroke="#9dbba6" stroke-width="1.1"/>
<line x1="87.2" y1="295.4" x2="87.2" y2="366" stroke="#eba4aa" stroke-width="1.1"/>
<polyline points="57.6,366.9 85.9,366.9 87.0,352.0 87.6,356.0 90.7,346.4 94.3,332.1 97.5,349.6 101.0,360.7 107.0,362.5 149.2,361.9 210.8,334.5 211.8,351.7 213.0,357.0 215.3,362.2 218.0,364.0 225.0,365.5 285.2,367.0" fill="none" stroke="#d0222c" stroke-width="1.00" stroke-linejoin="round" stroke-linecap="round" opacity="1.00" />
<polyline points="57.6,366.7 80.4,366.7 81.5,362.0 82.7,319.5 83.5,345.0 86.7,325.8 89.5,317.1 93.0,324.2 97.0,349.6 102.5,362.2 107.3,364.6 108.1,362.6 149.2,362.0 208.7,323.9 236.4,307.3 237.0,318.0 237.7,335.8 238.5,347.0 239.5,354.0 240.3,357.0 242.0,360.5 245.6,363.5 250.0,365.0 260.0,366.3 285.2,367.0" fill="none" stroke="#6744b4" stroke-width="1.00" stroke-linejoin="round" stroke-linecap="round" opacity="1.00" />
<polyline points="57.6,366.7 80.4,366.7 81.1,357.5 81.6,340.0 82.3,350.0 86.7,335.3 89.5,329.0 93.0,330.5 96.2,343.2 99.4,357.5 102.5,363.0 107.3,364.6 107.8,353.5 108.1,362.2 149.2,361.7 174.3,343.7 208.7,323.9 209.2,351.7 210.3,357.0 211.3,360.0 212.6,362.2 214.5,363.5 219.2,365.4 225.0,366.0 250.0,366.6 285.2,367.0" fill="none" stroke="#336e4c" stroke-width="1.00" stroke-linejoin="round" stroke-linecap="round" opacity="1.00" />
</g>
<g clip-path="url(#cr3)">
<polyline points="328.8,345.0 329.5,344.9 330.3,345.3 331.0,346.1 331.8,345.1 332.5,344.6 333.2,344.8 334.0,346.4 334.7,345.1 335.5,344.6 336.2,345.1 337.0,345.5 337.7,345.5 338.4,346.7 339.1,345.7 339.8,345.2 340.5,347.3 341.2,346.8 341.9,347.1 342.6,346.8 343.3,346.8 344.0,348.6 344.7,347.1 345.4,347.9 346.1,347.8 346.8,349.5 347.5,349.0 348.2,348.5 348.9,349.5 349.6,350.4 350.3,348.8 351.0,348.9 351.8,349.9 352.5,349.9 353.2,349.2 353.9,349.7 354.6,350.2 355.3,350.8 356.0,349.6 356.7,351.0 357.3,350.5 358.0,351.0 358.6,347.9 359.2,348.7 359.9,348.3 360.5,349.0 361.1,347.0 361.7,346.9 362.4,347.0 363.0,346.8 363.7,346.5 364.4,345.2 365.1,346.9 365.8,345.0 366.6,345.5 367.3,345.6 368.0,344.6 368.7,344.9 369.4,343.4 370.1,344.5 370.8,344.4 371.5,344.1 372.2,344.8 372.9,344.8 373.6,346.3 374.3,345.4 375.0,345.2 375.7,346.3 376.3,346.6 376.9,348.8 377.5,348.7 378.1,348.0 378.7,347.8 379.3,350.1 379.9,349.2 380.6,348.3 381.2,350.1 381.8,349.1 382.4,351.3 383.0,351.2 383.6,350.6 384.2,351.3 384.9,350.3 385.6,352.9 386.3,351.9 387.0,352.4 387.7,352.9 388.4,351.8 389.1,351.8 389.8,351.9 390.5,352.5 391.2,351.8 391.9,352.2 392.6,352.7 393.3,352.6 394.0,352.2 394.7,352.0 395.4,352.3 396.1,353.0 396.8,353.4 397.5,353.2 398.2,352.3 398.9,352.8 399.6,352.6 400.3,353.3 401.0,351.7 401.7,353.0 402.5,352.4 403.2,352.0 403.9,353.7 404.6,353.2 405.3,351.0 406.0,352.0 406.7,352.4 407.4,352.6 408.1,351.0 408.8,352.0 409.5,351.8 410.0,350.7 410.5,351.2 410.9,349.8 411.4,349.5 411.9,348.4 412.4,348.8 412.9,348.3 413.4,347.2 413.8,346.4 414.3,346.4 414.8,346.0 415.3,345.4 415.8,344.6 416.2,344.9 416.7,343.5 417.2,343.2 417.7,343.7 418.2,341.6 418.7,341.6 419.1,341.3 419.6,340.0 420.1,339.1 420.7,339.0 421.3,337.8 421.9,338.8 422.4,338.3 423.0,338.4 423.6,338.8 424.2,337.3 424.8,336.9 425.4,336.7 425.9,335.6 426.5,334.5 427.1,334.6 427.7,334.8 428.3,334.3 428.9,333.9 429.4,333.1 430.0,333.1 430.6,332.5 431.1,332.1 431.6,330.9 432.2,330.7 432.7,330.8 433.2,331.3 433.7,329.9 434.3,329.8 434.8,330.1 435.3,328.6 435.8,327.8 436.3,326.2 436.9,326.8 437.4,327.3 437.9,325.4 438.4,325.4 439.0,325.0 439.5,324.8 440.0,323.5 440.6,324.4 441.3,323.9 441.9,322.6 442.5,321.0 443.1,323.0 443.8,322.4 444.4,322.0 445.0,320.4 445.7,320.8 446.3,320.8 446.6,320.5 447.0,319.6 447.3,319.6 447.6,317.6 448.0,316.9 448.3,317.0 448.6,317.2 449.0,314.9 449.3,314.1 449.6,315.5 449.9,313.3 450.3,313.2 450.6,313.4 450.9,311.1 451.3,311.2 451.6,310.8 452.3,310.2 453.1,309.9 453.8,309.5 454.6,309.5 455.3,310.3 456.0,308.0 456.8,309.6 457.5,309.1 458.3,309.0 459.0,308.8 459.6,309.1 460.3,309.9 460.9,308.6 461.6,310.8 462.2,311.1 462.8,311.1 463.5,311.4 464.1,312.4 464.8,313.5 465.4,313.6 466.1,313.7 466.8,311.9 467.5,314.4 468.2,313.6 468.9,313.4 469.6,314.2 470.3,315.0 471.0,313.4 471.7,315.2 472.4,314.2 473.1,314.4 473.8,314.0 474.5,314.5 475.2,313.8 475.9,313.1 476.2,313.7 476.6,314.5 476.9,315.9 477.3,315.7 477.6,317.3 477.6,316.8 479.1,359.0 482.3,365.8 556.0,366.5" fill="none" stroke="#d0222c" stroke-width="1.00" stroke-linejoin="round" stroke-linecap="round" opacity="1.00" />
<polyline points="328.8,345.9 329.5,346.6 330.3,346.5 331.0,346.6 331.8,346.9 332.5,347.2 333.2,347.0 334.0,347.1 334.7,346.4 335.5,347.5 336.2,347.0 337.0,347.9 337.7,348.2 338.2,347.0 338.6,349.4 339.1,348.8 339.6,349.1 340.0,350.2 340.5,351.1 341.0,352.1 341.4,353.8 341.9,351.8 342.4,353.0 342.9,354.0 343.5,354.0 344.0,353.8 344.5,355.3 345.1,355.9 345.6,356.7 346.1,356.8 346.8,357.7 347.5,357.0 348.2,357.3 348.9,356.1 349.6,355.1 350.3,357.0 351.0,356.7 351.8,356.8 352.5,356.4 353.2,356.1 353.9,356.1 354.6,356.7 355.3,355.6 356.0,355.8 356.7,355.9 357.3,355.7 357.9,356.4 358.4,354.3 359.0,355.7 359.6,353.8 360.2,353.3 360.7,352.6 361.3,353.0 361.9,353.0 362.5,351.1 363.0,351.1 363.6,350.6 364.2,350.0 364.8,349.3 365.4,349.7 365.9,349.5 366.5,348.8 367.1,347.8 367.7,347.9 368.2,347.9 368.8,347.1 369.4,347.0 370.1,346.5 370.8,347.4 371.5,347.5 372.2,347.0 372.9,347.5 373.6,347.4 374.3,348.1 375.0,348.2 375.7,348.6 376.3,348.9 376.9,349.0 377.5,350.1 378.1,349.5 378.6,350.6 379.2,349.6 379.8,350.8 380.4,352.2 381.0,352.1 381.6,352.8 382.2,352.5 382.8,352.5 383.4,353.2 383.9,354.3 384.5,354.4 385.1,356.1 385.7,356.6 386.3,356.4 387.0,355.4 387.7,355.9 388.4,355.5 389.1,355.4 389.8,355.5 390.5,355.7 391.2,355.5 391.9,355.6 392.6,354.5 393.3,355.2 394.0,355.9 394.7,355.8 395.4,354.7 396.1,355.6 396.8,355.4 397.5,354.6 398.3,355.4 399.0,355.6 399.7,355.2 400.4,356.3 401.1,354.8 401.8,355.3 402.5,355.4 403.2,355.4 403.9,354.8 404.6,355.3 405.3,355.2 406.0,356.3 406.7,355.7 407.4,354.9 408.1,355.7 408.8,354.3 409.5,355.0 410.0,355.3 410.5,352.7 411.0,353.9 411.5,353.1 412.0,351.9 412.5,352.3 413.0,350.6 413.5,351.3 414.0,350.3 414.5,350.4 415.1,348.6 415.6,349.1 416.1,348.8 416.6,347.2 417.1,348.3 417.6,346.1 418.1,347.6 418.6,347.0 419.1,344.8 419.6,345.8 420.1,344.5 420.7,344.1 421.3,343.7 421.9,342.1 422.5,342.7 423.1,342.2 423.7,342.3 424.3,340.3 424.9,341.2 425.5,341.4 426.1,340.0 426.7,340.4 427.3,340.0 427.9,339.1 428.5,339.1 429.1,339.0 429.7,337.2 430.4,338.1 431.0,337.2 431.6,337.0 432.2,336.3 432.8,335.9 433.4,336.3 434.0,335.7 434.6,334.9 435.2,333.7 435.8,334.5 436.4,334.2 437.0,334.7 437.6,332.7 438.2,332.9 438.8,332.2 439.4,330.4 440.0,331.2 440.6,331.5 441.2,330.5 441.9,331.5 442.5,330.4 443.1,329.5 443.7,330.0 444.4,328.8 445.0,329.3 445.6,328.4 446.2,328.2 446.9,327.2 447.5,327.2 448.1,327.0 448.7,326.5 449.4,326.4 450.0,326.7 450.6,325.2 451.2,324.5 451.8,325.0 452.5,323.9 453.1,324.7 453.7,323.2 454.3,322.6 454.9,322.9 455.5,321.6 456.2,321.7 456.8,322.0 457.4,320.1 458.0,320.9 458.6,320.1 459.2,320.0 459.9,320.2 460.5,319.5 461.1,319.3 461.6,318.1 462.1,318.7 462.6,317.7 463.1,315.8 463.6,317.2 464.1,315.2 464.6,316.2 465.1,314.4 465.6,314.7 466.1,314.6 466.6,313.3 467.1,313.2 467.6,312.8 468.1,310.9 468.6,312.6 469.1,310.9 469.6,310.8 469.9,309.9 470.1,309.7 470.4,308.5 470.6,307.1 470.9,307.6 471.1,305.1 471.4,306.3 471.6,304.0 471.9,305.0 472.1,304.1 472.4,303.1 472.6,302.1 472.9,301.7 473.1,300.5 473.4,300.7 473.9,301.1 474.4,302.0 474.9,301.4 475.4,302.1 476.0,302.7 476.5,302.4 477.0,303.3 477.5,304.9 478.0,306.0 478.7,304.9 479.5,304.7 480.2,306.1 480.9,304.1 481.7,305.8 482.4,304.2 483.1,305.5 483.8,305.2 484.6,305.6 485.3,305.3 486.0,305.0 486.8,305.1 487.5,304.9 487.5,305.2 488.6,325.3 490.7,363.3 493.9,366.5 556.0,366.5" fill="none" stroke="#6744b4" stroke-width="1.00" stroke-linejoin="round" stroke-linecap="round" opacity="1.00" />
<polyline points="328.2,354.9 328.2,353.4 328.2,354.2 328.3,351.9 328.3,351.0 328.3,351.7 328.3,351.8 328.3,351.0 328.4,350.4 328.4,348.8 328.4,347.5 328.4,347.6 328.4,346.9 328.5,345.7 328.5,344.3 328.5,344.1 328.5,343.8 328.5,341.8 328.6,341.8 328.6,340.3 328.6,342.3 328.6,340.7 328.6,339.2 328.7,339.5 328.7,338.1 328.7,336.7 328.7,336.5 328.7,335.7 328.8,338.4 328.8,333.5 328.8,331.2 329.6,334.6 330.4,332.9 331.1,333.0 331.9,335.7 332.7,333.8 333.5,333.6 333.7,334.1 333.9,332.3 334.2,333.4 334.4,331.4 334.6,331.5 334.8,332.1 335.1,331.9 335.3,327.3 335.5,328.2 335.7,327.6 335.9,328.1 336.2,326.3 336.4,325.1 336.6,326.7 337.0,327.2 337.3,326.7 337.6,325.3 338.0,327.8 338.4,327.3 338.7,331.1 339.0,330.3 339.4,330.8 339.5,332.0 339.6,332.5 339.8,331.5 339.9,333.8 340.0,334.3 340.1,332.3 340.3,336.4 340.4,336.4 340.5,336.6 340.6,337.9 340.8,337.3 340.9,339.8 341.0,339.1 341.1,339.0 341.3,342.8 341.4,342.3 341.5,342.3 341.6,343.2 341.8,344.1 341.9,345.7 342.6,345.3 343.3,346.3 344.0,344.8 344.7,345.0 345.4,346.3 346.1,346.8 346.8,346.6 347.5,346.1 348.2,346.8 348.9,348.2 349.7,348.3 350.4,346.7 351.1,348.8 351.8,348.7 352.5,348.9 352.8,350.1 353.0,350.2 353.3,352.3 353.5,350.9 353.8,351.2 354.1,353.0 354.3,353.9 354.6,353.2 354.8,355.4 355.1,355.9 355.3,355.3 355.6,356.7 355.8,357.3 356.0,356.5 356.2,353.9 356.5,354.9 356.7,353.5 356.9,354.7 357.1,351.9 357.3,351.9 357.5,349.2 357.7,351.0 357.9,349.2 358.2,348.0 358.4,347.4 358.6,347.0 358.8,345.9 358.9,346.3 358.9,344.6 359.0,344.0 359.1,346.3 359.1,342.8 359.2,342.6 359.3,341.8 359.4,340.7 359.4,340.2 359.5,338.2 359.6,339.3 359.6,338.2 359.7,337.4 359.8,335.5 359.9,336.7 359.9,333.9 360.0,334.4 360.1,333.1 360.1,331.7 360.2,333.7 360.3,332.9 360.3,332.1 360.4,330.2 360.5,328.7 360.5,329.0 360.6,328.0 360.7,325.8 360.8,327.8 360.8,326.8 360.9,324.7 361.4,323.7 361.8,324.0 362.3,323.6 362.7,324.8 363.2,322.6 363.6,320.7 364.1,321.6 364.7,320.4 365.2,321.0 365.8,322.9 366.4,322.7 367.0,322.1 367.5,323.3 368.1,323.9 368.7,323.9 369.3,324.9 369.8,325.9 370.4,326.1 370.8,326.1 371.1,328.2 371.5,329.6 371.8,329.6 372.2,328.4 372.5,329.3 372.9,330.7 373.3,331.4 373.6,331.0 374.0,332.9 374.3,333.1 374.7,332.6 374.9,332.8 375.1,335.1 375.2,335.2 375.4,338.3 375.6,336.4 375.8,337.4 375.9,341.2 376.1,338.3 376.3,341.0 376.4,341.0 376.6,341.2 376.8,341.2 377.4,341.9 378.0,342.7 378.6,341.6 379.2,340.4 379.8,340.8 380.4,339.1 381.0,339.2 381.6,340.5 382.1,339.9 382.7,341.0 383.3,340.8 383.8,340.1 384.4,342.7 385.0,341.2 385.6,343.5 386.1,343.7 386.7,344.4 387.3,344.2 387.8,343.8 388.4,343.5 389.1,344.1 389.8,344.3 390.5,346.0 391.2,343.7 391.9,346.4 392.6,345.5 393.3,346.3 394.0,347.0 394.7,347.0 395.3,347.8 395.9,346.7 396.5,347.4 397.2,347.0 397.8,348.5 398.4,349.0 399.0,350.0 399.7,350.3 400.4,351.0 401.1,351.2 401.8,349.6 402.5,350.1 403.2,350.1 403.9,350.3 404.6,351.7 405.3,352.3 406.0,351.7 406.7,351.7 407.4,350.5 408.1,351.0 408.8,351.5 409.5,349.6 410.2,352.0 410.9,351.4 411.6,353.2 412.3,351.3 413.0,349.8 413.7,351.4 414.4,351.1 415.2,351.4 415.9,350.0 416.6,351.0 417.3,349.3 418.0,351.2 418.7,350.6 419.4,348.6 420.1,351.3 420.4,350.9 420.7,350.4 421.1,349.3 421.4,347.5 421.7,346.7 422.0,347.2 422.4,347.1 422.7,348.0 423.0,345.1 423.3,342.6 423.7,343.2 424.0,343.6 424.3,342.8 425.0,343.0 425.7,341.2 426.4,341.5 427.1,342.4 427.8,342.0 428.5,341.8 429.2,340.8 429.9,340.8 430.6,341.6 431.3,341.6 431.9,339.3 432.6,340.3 433.2,340.3 433.9,339.8 434.5,339.5 435.2,338.8 435.8,337.9 436.5,339.2 437.1,336.7 437.8,337.8 438.4,336.2 439.1,336.3 439.8,336.9 440.6,336.2 441.3,337.3 442.1,338.2 442.8,338.6 443.5,337.2 444.3,338.0 445.0,337.4 445.6,336.5 446.1,336.5 446.7,338.5 447.2,335.3 447.8,335.2 448.4,335.0 448.9,335.8 449.5,334.6 450.0,333.6 450.6,333.1 451.3,333.7 452.0,333.6 452.7,331.6 453.4,333.2 454.1,333.1 454.8,333.2 455.5,332.4 456.2,333.0 456.9,331.4 457.6,332.5 458.3,334.7 459.0,332.4 459.7,331.0 460.4,332.3 461.1,332.5 461.8,332.1 462.5,330.9 463.2,331.1 463.9,331.0 464.6,333.4 465.3,328.6 466.0,329.8 466.8,329.6 467.5,329.4 468.2,329.5 468.9,330.3 469.6,327.9 470.3,328.7 471.0,327.7 471.7,329.0 472.4,329.9 473.1,327.1 473.8,327.6 474.5,327.2 475.2,326.5 475.9,326.8 476.6,326.9 477.4,325.6 478.1,327.2 478.8,325.5 479.5,324.2 480.2,326.0 480.9,325.5 481.6,326.1 482.3,325.3 483.0,325.4 483.7,325.4 484.4,323.5 485.1,325.8 485.8,325.1 486.5,325.1 487.2,323.1 487.9,323.7 488.6,323.6 489.3,321.9 490.0,323.5 490.7,323.2 491.4,323.0 492.1,322.5 492.8,323.1 493.3,322.0 493.7,321.2 494.2,321.1 494.7,319.6 495.1,318.8 495.6,319.3 496.1,317.9 496.5,317.7 497.0,315.5 497.7,316.8 498.4,314.9 499.1,315.7 499.9,315.9 500.6,318.1 501.3,315.5 501.3,315.2 501.4,316.3 501.5,317.7 501.6,318.7 501.7,318.2 501.8,319.8 501.9,319.6 502.0,320.6 502.1,321.8 502.2,321.8 502.3,323.9 502.4,322.1 502.4,323.9 502.5,324.4 502.6,325.4 502.7,326.2 502.8,326.1 502.9,328.1 503.0,327.6 503.1,329.2 503.2,330.1 503.3,329.8 503.4,331.6 503.5,331.9 503.6,332.3 503.7,333.6 503.8,334.6 503.9,335.2 504.0,335.4 504.1,335.8 504.2,336.3 504.3,337.7 504.4,338.1 504.4,338.5 504.5,339.1 504.6,339.6 504.7,340.4 504.8,341.7 504.9,341.8 505.0,342.3 505.1,343.2 505.2,343.8 505.3,344.5 505.4,346.1 505.5,347.3 505.7,347.1 505.9,347.9 506.1,348.3 506.3,349.4 506.6,349.2 506.8,350.5 507.0,351.9 507.2,351.3 507.4,352.3 507.6,353.0 507.8,353.4 508.0,354.9 508.3,355.0 508.5,356.6 508.7,356.5 508.9,356.9 509.1,357.5 509.3,358.0 509.5,359.6 509.7,359.8 510.0,361.4 510.2,361.3 510.4,362.2 510.6,362.9 510.8,362.6 510.9,363.0 511.0,362.0 511.1,360.8 511.2,360.4 511.3,360.0 511.4,359.3 511.5,358.7 511.6,358.0 511.7,357.7 511.8,356.3 511.9,355.5 511.9,354.8 512.0,354.4 512.1,353.3 512.2,352.2 512.3,351.6 512.4,352.1 512.5,350.9 512.6,350.7 512.7,349.6 512.8,348.7 512.9,348.8 513.0,347.9 513.1,347.7 513.2,345.3 513.3,344.9 513.4,344.7 513.5,342.8 513.6,343.3 513.7,341.9 513.8,341.4 513.9,340.4 514.0,340.8 514.0,339.8 514.1,338.2 514.2,337.3 514.3,338.0 514.4,337.3 514.5,336.0 514.6,336.4 514.7,334.9 514.8,334.1 514.9,333.7 515.0,332.4 515.1,332.9 515.1,334.6 515.2,334.7 515.3,335.4 515.3,336.8 515.4,337.1 515.5,337.1 515.5,338.7 515.6,339.0 515.7,339.8 515.7,340.4 515.8,341.9 515.9,342.0 515.9,343.6 516.0,343.8 516.1,344.1 516.2,345.6 516.2,346.3 516.3,346.3 516.4,346.7 516.4,347.9 516.5,348.4 516.6,348.5 516.6,351.1 516.7,350.0 516.8,351.8 516.8,352.1 516.9,352.7 517.0,353.4 517.0,354.1 517.1,354.0 517.4,353.4 517.6,354.1 517.9,352.8 518.2,353.0 518.4,351.7 518.7,350.8 518.9,350.2 519.2,349.5 519.4,349.7 519.5,351.0 519.7,352.1 519.8,352.8 520.0,352.8 520.1,354.3 520.3,354.6 520.4,355.3 520.6,354.4 520.7,356.3 520.9,357.1 521.0,357.6 521.2,359.1 521.3,358.4 521.5,360.1 521.6,360.8 521.8,362.1 521.9,361.8 522.1,362.9 522.2,363.2 522.4,364.2 522.6,363.7 522.7,362.7 522.9,362.2 523.0,361.6 523.2,361.5 523.4,359.5 523.5,359.8 523.7,358.1 523.9,357.7 524.0,356.9 524.2,357.1 524.3,355.6 524.5,356.4 524.7,354.7 524.8,354.4 525.0,353.1 525.1,353.1 525.3,351.3 525.5,351.4 525.6,350.5 525.8,350.9 526.0,348.6 526.1,346.8 526.3,348.6 526.4,347.0 526.6,346.0 526.6,346.0 526.7,345.1 526.7,343.9 526.8,342.7 526.8,343.2 526.8,341.9 526.9,340.6 526.9,340.4 527.0,340.0 527.0,338.9 527.1,338.4 527.1,338.7 527.1,337.2 527.2,337.2 527.2,336.2 527.3,334.4 527.3,334.6 527.3,333.7 527.4,332.0 527.4,332.0 527.5,331.1 527.5,332.0 527.6,329.7 527.6,329.8 527.6,329.2 527.7,328.0 527.7,327.4 527.8,326.3 527.8,326.2 527.8,326.4 527.9,325.0 527.9,324.5 528.0,322.6 528.0,323.0 528.1,321.6 528.1,321.0 528.1,320.4 528.2,320.7 528.2,318.2 528.3,319.4 528.3,317.0 528.3,317.0 528.4,315.2 528.4,314.6 528.5,315.7 528.5,314.0 528.6,313.1 528.6,313.9 528.6,311.6 528.7,311.4 528.7,311.2 528.8,310.2 528.8,309.5 528.8,308.6 528.9,307.9 528.9,306.7 529.0,307.2 529.0,305.7 529.1,305.2 529.1,304.8 529.1,303.6 529.2,302.2 529.2,301.2 529.3,301.8 529.3,301.3 529.3,300.0 529.4,299.4 529.4,298.6 529.5,298.3 529.5,298.2 529.6,296.7 529.6,296.7 529.6,295.2 529.7,294.7 529.7,293.3 529.8,293.0 529.8,292.8 530.5,292.2 531.2,292.3 531.9,292.5 532.6,291.4 533.3,291.1 534.0,292.6 534.7,291.3 535.4,292.4 536.1,291.1 536.8,291.9 537.5,291.2 538.2,292.0 538.3,292.5 538.4,292.9 538.6,293.6 538.7,293.9 538.8,294.8 538.9,295.2 539.1,296.3 539.2,297.2 539.3,297.4 539.4,298.4 539.5,299.1 539.7,299.9 539.8,300.3 539.9,301.4 540.0,301.5 540.2,302.3 540.3,303.3 540.4,304.5 540.4,305.3 540.5,305.5 540.5,305.9 540.6,307.0 540.6,307.7 540.7,309.4 540.8,309.4 540.8,310.4 540.9,310.5 540.9,311.2 540.9,311.8 541.0,313.0 541.0,313.3 541.1,313.9 541.1,315.0 541.2,315.6 541.2,316.3 541.3,318.0 541.4,316.9 541.4,318.3 541.5,318.6 541.5,319.9 541.5,320.4 541.6,320.5 541.6,321.5 541.7,322.3 541.8,322.5 541.8,323.6 541.9,323.9 541.9,324.3 542.0,326.6 542.0,325.4 542.0,328.3 542.1,328.0 542.1,328.3 542.2,329.9 542.2,331.1 542.3,330.8 542.4,331.8 542.4,332.1 542.5,333.5 542.5,333.6 542.5,334.1 542.6,334.9 542.6,335.9 542.7,335.8 542.8,337.1 542.8,338.5 542.9,339.9 542.9,338.7 543.0,340.0 543.0,340.6 543.0,340.5 543.1,342.1 543.1,342.5 543.2,343.6 543.2,343.9 543.3,345.7 543.4,345.8 543.4,345.8 543.5,346.9 543.5,347.9 543.5,348.8 543.6,350.2 543.6,349.7 543.7,349.9 543.8,351.9 543.8,352.5 543.9,353.3 543.9,352.9 544.0,354.2 544.0,355.1 544.1,355.5 544.1,356.0 544.1,357.7 544.2,358.3 544.2,357.9 544.3,359.4 544.4,360.4 544.4,360.3 544.5,360.7 544.5,361.7 544.6,362.9 544.6,363.5 545.1,363.7 545.7,364.5 546.2,364.2 546.7,365.5 547.3,366.4 547.8,366.3 548.5,366.7 549.3,366.3 550.0,366.1 550.8,366.7 551.5,366.0 552.3,366.4 553.0,367.0 553.8,366.1 554.5,367.1 555.3,367.4 556.0,366.8" fill="none" stroke="#336e4c" stroke-width="1.00" stroke-linejoin="round" stroke-linecap="round" opacity="1.00" />
</g>
<g clip-path="url(#cl4)">
<polyline points="62.9,453.3 63.0,452.2 63.0,454.3 63.1,451.1 63.1,449.8 63.2,452.3 63.3,452.0 63.3,449.3 63.4,449.3 63.5,452.8 63.5,447.7 63.6,447.9 63.6,449.4 63.7,448.3 63.8,448.9 63.8,447.4 63.9,445.4 63.9,445.6 64.0,444.3 64.1,445.4 64.1,444.5 64.2,441.9 64.3,443.5 64.3,441.4 64.4,442.0 64.4,440.9 64.5,441.2 64.8,438.1 65.2,442.2 65.5,440.3 65.9,443.8 66.2,441.3 66.6,442.5 66.9,442.6 67.2,444.1 67.6,445.4 67.9,444.8 68.3,444.9 68.6,445.5 69.0,445.5 69.3,446.1 69.8,444.9 70.2,445.4 70.7,447.2 71.2,446.5 71.7,443.0 72.1,444.5 72.6,444.8 73.1,443.8 73.5,443.4 74.0,444.0 74.5,445.4 75.0,445.6 75.5,444.5 76.0,445.6 76.5,444.7 77.0,445.4 77.4,444.8 77.9,443.4 78.4,444.6 78.9,446.0 79.4,447.1 79.9,446.3 80.4,448.5 80.7,447.6 81.1,447.0 81.4,446.8 81.7,450.5 82.0,447.9 82.4,447.3 82.7,449.5 83.0,447.9 83.4,448.9 83.7,445.9 84.0,448.5 84.4,448.1 84.7,446.1 85.0,444.9 85.4,445.8 85.7,446.7 86.0,444.1 86.4,444.2 86.7,445.4 87.1,444.5 87.6,443.3 88.0,443.6 88.5,443.1 88.9,442.1 89.3,442.2 89.8,438.9 90.2,441.9 90.7,442.6 91.1,442.0 91.5,440.4 92.0,442.7 92.4,442.0 92.8,439.1 93.3,439.8 93.7,439.0 94.2,438.3 94.6,440.3 94.9,440.7 95.2,439.1 95.4,440.1 95.7,441.2 96.0,440.8 96.3,442.8 96.6,442.5 96.9,442.9 97.2,441.1 97.4,444.8 97.7,441.1 98.0,444.1 98.5,445.3 99.0,443.9 99.5,442.7 100.0,442.9 100.5,441.7 101.0,444.5 101.1,443.0 101.2,440.9 101.3,443.7 101.4,440.4 101.5,441.0 101.6,437.8 101.6,439.4 101.7,439.8 101.8,438.7 101.9,437.1 102.0,438.8 102.1,435.8 102.2,438.2 102.3,435.8 102.4,435.5 102.5,435.5 102.6,435.1 102.7,436.5 102.7,433.8 102.8,431.2 102.9,433.0 103.0,430.9 103.1,431.0 103.2,430.6 103.3,430.7 103.8,432.3 104.2,431.1 104.7,430.6 105.2,430.3 105.7,430.6 106.1,431.2 106.6,432.2 107.1,432.2 107.6,432.8 108.0,429.1 108.5,432.4 109.0,432.1 109.5,428.4 110.0,432.3 110.4,430.8 110.9,428.9 110.9,431.5 111.0,430.1 111.0,431.9 111.0,433.3 111.0,434.4 111.1,434.8 111.1,433.9 111.1,432.0 111.2,434.3 111.2,436.0 111.2,437.1 111.2,436.8 111.3,435.9 111.3,437.2 111.3,436.8 111.4,438.6 111.4,437.0 111.4,439.6 111.4,441.1 111.5,439.3 111.5,442.6 111.5,438.7 111.5,443.0 111.6,441.2 111.6,442.8 111.6,444.1 111.7,445.0 111.7,442.6 111.7,445.5 111.7,443.6 111.8,446.4 111.8,446.4 111.8,447.6 111.9,446.5 111.9,447.8 111.9,447.3 111.9,449.3 112.0,450.7 112.0,450.9 112.1,449.5 112.1,450.6 112.2,449.4 112.3,449.7 112.3,448.2 112.4,446.9 112.5,447.3 112.5,447.6 112.6,445.5 112.6,445.6 112.7,443.8 112.8,445.5 112.8,442.9 112.9,440.9 113.0,443.7 113.0,440.5 113.1,443.3 113.2,440.4 113.2,439.1 113.3,438.9 113.3,440.4 113.4,438.5 113.5,439.4 113.5,436.8 113.6,438.7 113.7,437.3 113.7,436.7 113.8,440.1 113.9,434.0 113.9,436.1 114.0,432.7 114.1,433.6 114.1,432.2 114.2,432.3 114.2,432.6 114.3,430.5 114.4,432.2 114.4,429.9 114.5,431.5 114.6,429.2 114.6,429.3 114.7,429.0 115.1,428.4 115.6,429.6 116.0,431.7 116.4,427.7 116.8,426.7 117.3,427.2 117.7,427.3 118.3,426.4 118.8,430.3 119.4,426.1 120.0,428.0 120.3,426.5 120.7,429.5 121.0,430.8 121.3,428.7 121.6,430.0 122.0,429.4 122.3,432.5 122.5,431.9 122.6,431.7 122.8,431.9 123.0,433.7 123.1,432.5 123.3,433.8 123.5,432.3 123.6,434.6 123.8,435.8 124.3,434.0 124.8,436.5 125.3,434.4 125.8,434.7 126.3,435.1 126.8,436.7 127.3,436.2 127.9,438.0 128.4,433.1 128.9,436.2 129.4,438.5 129.9,436.1 130.4,438.9 130.9,437.0 131.4,440.7 131.9,434.9 132.4,439.1 132.9,439.4 133.4,439.1 133.9,435.8 134.4,439.0 134.9,435.0 135.4,438.0 136.0,439.4 136.5,439.1 137.0,438.6 137.5,438.8 138.0,438.9 138.5,436.4 139.0,435.9 139.5,438.3 140.0,438.1 140.5,437.5 141.0,437.7 141.4,438.3 141.9,437.3 142.4,436.2 142.9,437.4 143.4,436.9 143.9,436.3 144.4,437.0 144.8,435.4 145.3,436.5 145.8,436.5 146.3,436.3 146.8,435.8 147.3,435.9 147.8,436.4 148.3,438.0 148.8,437.1 149.3,434.7 149.8,435.5 150.3,432.3 150.8,434.6 151.3,434.9 151.8,435.8 152.2,435.3 152.7,436.5 153.2,435.0 153.7,435.4 154.2,433.2 154.7,434.3 155.2,433.7 155.7,435.6 156.2,432.9 156.7,432.5 157.2,432.8 157.7,434.0 158.2,433.4 158.7,434.7 159.2,436.6 159.7,433.5 160.2,432.3 160.7,433.7 161.2,434.4 161.7,435.7 162.2,432.8 162.7,435.9 163.2,433.6 163.7,432.8 164.1,433.4 164.6,433.1 165.1,433.0 165.6,431.1 166.1,432.0 166.6,430.7 167.1,432.4 167.6,431.8 168.1,433.3 168.6,432.2 169.1,431.0 169.6,431.4 170.1,431.9 170.6,431.5 171.1,433.7 171.7,431.0 172.2,430.9 172.7,432.1 173.2,430.8 173.7,432.4 174.2,431.7 174.7,432.2 175.2,431.9 175.8,432.6 176.3,431.6 176.8,432.6 177.3,431.3 177.8,431.0 178.3,432.4 178.8,433.4 179.3,431.3 179.9,431.3 180.4,431.1 180.9,432.1 181.4,431.1 181.9,432.2 182.4,431.7 182.9,433.4 183.4,432.8 184.0,431.7 184.5,432.6 185.0,433.3 185.5,433.8 186.0,434.1 186.5,431.5 187.0,433.0 187.5,432.6 188.0,434.9 188.5,434.4 189.0,432.1 189.5,432.5 190.0,432.5 190.5,431.9 191.0,433.2 191.5,432.3 192.1,431.8 192.6,432.8 193.1,432.8 193.6,431.1 194.1,432.2 194.6,433.4 195.1,432.7 195.6,435.6 196.1,435.4 196.6,433.3 197.1,435.2 197.6,434.5 198.1,432.0 198.4,434.3 198.7,436.5 199.1,435.7 199.4,435.9 199.7,437.7 200.0,437.9 200.3,438.3 200.7,436.8 201.0,438.2 201.3,438.4 201.6,438.4 201.9,437.4 202.3,439.2 202.6,440.4 202.9,437.6 203.0,443.9 203.0,442.8 203.1,443.7 203.2,444.9 203.2,443.8 203.3,443.0 203.4,447.0 203.4,444.4 203.5,448.0" fill="none" stroke="#d0222c" stroke-width="1.20" stroke-linejoin="round" stroke-linecap="round" opacity="1.00" />
<polyline points="57.6,453.4 58.0,452.4 58.4,453.2 58.8,452.8 58.8,451.7 58.8,451.9 58.8,451.5 58.8,448.8 58.9,449.3 58.9,450.0 58.9,448.5 58.9,448.8 58.9,450.4 58.9,447.0 58.9,447.7 58.9,447.8 58.9,446.3 58.9,446.1 59.0,446.3 59.0,444.3 59.0,448.4 59.0,444.6 59.0,444.6 59.0,443.7 59.0,440.9 59.0,442.9 59.0,441.1 59.1,442.3 59.1,441.3 59.1,440.8 59.1,438.7 59.1,438.5 59.1,438.3 59.1,438.4 59.1,437.9 59.1,438.7 59.1,436.3 59.2,436.6 59.2,437.5 59.2,434.8 59.2,437.2 59.2,434.0 59.2,434.3 59.2,432.5 59.2,433.5 59.2,433.2 59.3,432.2 59.3,429.0 59.3,430.8 59.3,429.2 59.3,429.2 59.3,426.6 59.3,427.8 59.3,428.7 59.3,427.6 59.4,427.4 59.4,428.1 59.4,427.9 59.4,426.6 59.4,426.3 59.4,425.9 59.4,422.6 59.4,420.9 59.4,421.8 59.4,423.4 59.5,423.3 59.5,419.7 59.5,422.4 59.5,422.5 59.5,419.0 59.5,419.0 59.5,418.7 59.6,419.2 59.6,417.8 59.6,417.1 59.6,415.9 59.6,414.4 59.7,416.7 59.7,414.8 59.7,414.1 59.7,413.6 59.7,412.7 59.8,413.6 59.8,412.4 59.8,411.3 59.8,413.2 59.8,412.7 59.9,412.0 59.9,409.7 59.9,410.1 59.9,411.3 59.9,409.1 60.0,408.8 60.0,409.0 60.0,408.9 60.0,405.8 60.0,407.1 60.1,405.6 60.1,406.4 60.1,405.4 60.1,404.8 60.1,403.8 60.2,403.5 60.2,403.1 60.2,402.7 60.2,401.4 60.2,401.9 60.3,402.8 60.3,399.5 60.3,399.9 60.3,398.7 60.3,400.3 60.4,399.2 60.4,398.5 60.4,397.0 60.4,397.1 60.4,397.2 60.5,394.6 60.5,394.0 60.5,395.6 60.5,394.1 60.6,394.2 60.6,393.3 60.6,392.1 60.7,391.3 60.7,392.9 60.7,391.6 60.8,391.0 60.8,391.1 60.8,390.6 60.9,390.3 60.9,388.0 60.9,386.2 61.0,389.2 61.0,386.4 61.0,387.4 61.1,386.3 61.1,386.1 61.1,388.0 61.2,384.9 61.2,386.3 61.2,385.2 61.3,385.3 61.3,384.4 61.3,383.3 61.4,382.2 61.4,381.4 61.4,382.5 61.4,382.4 61.4,385.3 61.4,382.0 61.5,384.1 61.5,385.1 61.5,383.9 61.5,386.2 61.5,386.5 61.5,385.1 61.5,385.3 61.5,388.2 61.6,388.0 61.6,387.1 61.6,387.7 61.6,388.7 61.6,391.0 61.6,389.5 61.6,391.3 61.6,392.4 61.7,390.5 61.7,393.9 61.7,395.3 61.7,392.8 61.7,392.2 61.7,395.4 61.7,396.1 61.7,395.7 61.8,396.0 61.8,397.2 61.8,394.9 61.8,397.5 61.8,397.0 61.8,399.6 61.8,397.8 61.8,399.0 61.9,400.1 61.9,398.2 61.9,400.1 61.9,401.8 61.9,404.1 61.9,403.8 61.9,404.4 61.9,405.2 62.0,405.2 62.0,404.6 62.0,403.9 62.0,403.9 62.0,407.4 62.0,405.0 62.0,405.6 62.0,408.2 62.0,407.5 62.1,409.1 62.1,408.3 62.1,409.8 62.1,409.0 62.1,411.2 62.1,410.8 62.1,412.9 62.1,411.7 62.2,411.1 62.2,412.2 62.2,414.6 62.2,414.3 62.2,414.6 62.2,415.2 62.2,416.3 62.2,415.1 62.3,417.0 62.3,418.9 62.3,415.2 62.3,417.5 62.3,417.3 62.3,419.3 62.3,419.9 62.3,420.0 62.4,420.5 62.4,419.7 62.4,421.5 62.4,424.0 62.4,423.4 62.4,424.5 62.4,423.1 62.4,425.0 62.5,422.9 62.5,425.0 62.5,425.9 62.5,424.3 62.5,427.6 62.5,426.0 62.5,430.3 62.5,428.8 62.6,428.3 62.6,428.9 62.6,429.7 62.6,429.1 62.6,432.0 62.6,430.3 62.6,429.8 62.6,431.1 62.7,432.9 62.7,432.0 62.7,432.0 62.7,433.9 62.7,434.8 62.7,434.6 62.8,435.8 62.8,437.1 62.8,437.5 62.8,438.4 62.8,437.1 62.8,439.3 62.8,438.9 62.9,437.2 62.9,439.7 62.9,442.4 62.9,441.2 62.9,439.6 62.9,439.6 63.0,441.9 63.0,445.0 63.0,443.4 63.0,445.9 63.0,443.8 63.0,443.9 63.1,443.9 63.1,443.3 63.1,446.0 63.1,445.7 63.1,448.0 63.1,448.7 63.1,447.0 63.2,447.6 63.2,448.0 63.2,449.7 63.2,450.5 63.2,448.7 63.2,451.5 63.3,449.6 63.3,451.6 63.3,452.6 63.3,453.9 63.3,451.8 63.4,452.6 63.4,450.8 63.4,450.7 63.5,447.5 63.5,448.5 63.5,450.5 63.5,449.0 63.6,449.2 63.6,448.2 63.6,447.8 63.7,444.5 63.7,447.1 63.7,445.6 63.8,443.5 63.8,444.6 63.8,446.1 63.9,444.1 63.9,442.6 63.9,444.5 63.9,439.6 64.0,442.0 64.0,440.3 64.0,441.7 64.1,440.5 64.1,438.9 64.4,441.5 64.8,439.8 65.1,441.1 65.5,441.6 65.8,438.6 66.2,444.1 66.5,443.9 66.9,441.8 67.2,441.7 67.6,443.5 67.9,445.0 68.3,444.4 68.6,443.7 69.0,446.3 69.3,444.6 69.8,446.5 70.2,443.8 70.7,445.7 71.2,443.9 71.7,443.8 72.1,443.7 72.6,444.9 73.1,444.0 73.5,443.3 74.0,441.8 74.5,444.7 75.1,443.5 75.6,441.9 76.1,442.1 76.7,441.7 77.2,442.2 77.7,444.6 78.1,444.2 78.6,442.9 79.0,442.1 79.5,445.6 79.9,441.4 80.4,443.2 80.6,445.2 80.9,444.4 81.1,445.3 81.3,446.8 81.6,446.8 81.8,447.8 82.0,446.2 82.2,448.2 82.5,449.7 82.7,448.8 82.8,448.3 82.9,448.6 83.0,448.4 83.0,446.7 83.1,447.0 83.2,447.6 83.3,444.9 83.4,446.8 83.5,444.7 83.6,446.1 83.6,442.4 83.7,444.8 83.8,441.9 83.9,443.0 84.0,441.9 84.1,439.3 84.2,442.0 84.2,439.5 84.3,438.8 84.4,441.3 84.5,438.5 84.6,437.3 84.7,436.0 84.8,439.1 84.8,435.3 84.9,435.8 85.0,434.5 85.1,435.6 85.3,434.5 85.6,433.2 85.8,431.0 86.0,433.0 86.2,431.5 86.5,434.2 86.7,432.3 86.9,432.7 87.1,433.3 87.2,433.3 87.4,434.0 87.6,434.2 87.8,434.2 87.9,435.9 88.1,436.3 88.3,436.1 88.5,436.7 88.6,434.6 88.8,436.8 89.0,436.7 89.1,437.8 89.2,436.8 89.4,434.6 89.5,434.2 89.6,433.9 89.7,435.3 89.8,434.5 90.0,434.9 90.1,435.0 90.2,430.3 90.3,430.2 90.4,430.9 90.5,432.1 90.7,429.9 90.8,428.8 90.9,430.4 91.0,428.6 91.1,429.2 91.3,428.1 91.4,429.3 91.5,426.5 91.7,428.1 91.9,428.7 92.1,430.1 92.3,428.4 92.5,427.9 92.7,428.6 92.9,430.2 93.1,429.9 93.4,430.3 93.6,432.0 93.8,433.0 94.0,432.9 94.2,433.5 94.4,432.8 94.6,433.1 94.8,434.7 95.0,435.4 95.0,436.5 95.1,436.6 95.1,436.4 95.2,436.4 95.2,435.5 95.3,438.7 95.3,438.7 95.4,442.0 95.4,439.6 95.5,439.2 95.5,442.2 95.5,441.7 95.6,440.0 95.6,441.1 95.7,441.7 95.7,441.4 95.8,444.5 95.8,443.5 95.9,443.5 95.9,444.1 96.0,446.4 96.0,443.5 96.0,446.0 96.1,445.7 96.1,445.1 96.2,448.8 96.2,447.8 96.3,447.9 96.3,450.6 96.4,451.0 96.4,449.4 96.5,452.8 96.5,450.1 96.6,451.0 96.6,450.0 96.7,452.0 96.7,450.1 96.8,450.8 96.8,447.8 96.9,448.4 96.9,446.9 97.0,445.9 97.0,445.5 97.1,444.7 97.1,444.0 97.2,444.3 97.2,442.5 97.3,443.2 97.3,443.3 97.4,441.4 97.4,442.7 97.5,444.1 97.5,441.5 97.6,442.0 97.6,440.7 97.7,440.0 97.7,440.4 97.8,439.0 97.8,439.5 97.9,438.6 97.9,435.8 98.0,437.2 98.0,439.2 98.1,435.8 98.1,434.6 98.2,435.7 98.2,434.8 98.3,433.9 98.3,432.8 98.4,432.8 98.4,435.3 98.5,431.2 98.5,433.6 98.6,429.7 98.6,429.5 98.7,430.1 98.7,430.9 98.8,428.0 98.9,429.5 99.1,429.2 99.2,430.3 99.3,429.6 99.5,431.0 99.6,430.1 99.8,433.0 99.9,434.9 100.0,432.3 100.2,434.7 100.3,434.0 100.5,434.7 100.6,435.9 100.7,436.7 100.9,435.8 101.0,435.4 101.1,437.2 101.2,436.9 101.3,434.3 101.3,434.7 101.4,434.0 101.5,434.5 101.6,432.4 101.7,433.1 101.8,431.8 101.9,430.5 101.9,432.1 102.0,431.9 102.1,428.4 102.2,431.1 102.3,430.7 102.4,429.6 102.4,427.3 102.5,428.3 102.6,427.9 102.7,427.2 102.8,425.6 102.9,425.7 103.0,424.5 103.0,425.0 103.1,425.3 103.2,425.7 103.3,424.0 103.8,423.9 104.4,421.8 104.9,425.5 105.5,422.0 106.0,422.9 106.6,424.4 107.1,425.0 107.5,421.3 108.0,422.1 108.4,423.9 108.9,421.6 109.3,424.5 109.8,425.9 110.2,423.4 110.7,425.7 111.3,422.8 111.8,424.9 111.8,422.7 111.8,424.3 111.8,422.2 111.8,421.3 111.8,418.8 111.8,421.3 111.8,419.8 111.8,421.2 111.9,422.3 111.9,419.4 111.9,416.4 111.9,419.1 111.9,418.0 111.9,415.5 111.9,416.6 111.9,419.0 111.9,416.3 111.9,414.2 111.9,413.2 111.9,413.2 111.9,413.4 111.9,413.3 111.9,412.5 111.9,412.2 111.9,412.6 111.9,410.3 112.0,411.4 112.0,410.6 112.0,410.7 112.0,410.8 112.0,406.6 112.0,408.5 112.0,405.4 112.0,406.1 112.0,407.6 112.0,406.5 112.0,406.1 112.0,405.2 112.0,405.3 112.0,404.7 112.0,402.5 112.0,402.4 112.0,400.7 112.0,403.6 112.1,401.1 112.1,402.0 112.1,399.1 112.1,399.2 112.1,401.1 112.1,400.4 112.1,398.7 112.1,396.1 112.1,398.6 112.1,396.9 112.1,398.2 112.1,395.9 112.1,395.0 112.1,391.8 112.1,395.5 112.1,395.8 112.1,391.4 112.2,394.1 112.2,392.7 112.2,390.5 112.2,392.3 112.2,388.9 112.2,390.7 112.2,388.3 112.2,388.7 112.2,390.8 112.2,385.6 112.2,386.7 112.2,387.4 112.2,387.0 112.2,385.7 112.2,386.8 112.2,384.1 112.2,383.0 112.2,384.1 112.3,382.0 112.3,382.5 112.3,382.1 112.3,381.2 112.3,381.9 112.3,382.5 112.3,381.4 112.3,381.4 112.3,379.8 112.3,380.1 112.3,378.7 112.3,380.0 112.3,378.2 112.3,376.5 112.3,376.4 112.3,377.7 112.3,376.2 112.3,373.9 112.4,375.6 112.4,373.2 112.4,372.5 112.4,373.5 112.4,372.5 112.4,372.1 112.4,373.2 112.4,371.8 112.4,371.4 112.4,370.6 112.4,371.9 112.4,370.4 112.4,372.7 112.4,373.9 112.4,372.8 112.4,373.8 112.4,375.3 112.4,375.6 112.4,375.8 112.4,375.0 112.4,377.2 112.4,376.6 112.4,376.1 112.4,377.6 112.5,378.5 112.5,379.5 112.5,380.5 112.5,380.0 112.5,380.7 112.5,380.1 112.5,381.9 112.5,382.6 112.5,382.5 112.5,381.7 112.5,384.7 112.5,384.5 112.5,385.5 112.5,383.5 112.5,386.8 112.5,387.4 112.5,385.7 112.5,385.8 112.5,387.8 112.5,389.0 112.5,389.9 112.5,387.9 112.5,390.1 112.5,389.3 112.5,391.3 112.5,391.4 112.5,392.7 112.5,392.3 112.5,392.8 112.5,391.3 112.5,394.3 112.5,393.3 112.6,397.1 112.6,393.2 112.6,396.5 112.6,397.0 112.6,395.6 112.6,395.8 112.6,398.5 112.6,398.4 112.6,398.2 112.6,398.4 112.6,399.7 112.6,401.2 112.6,398.3 112.6,401.0 112.6,403.3 112.6,402.9 112.6,402.7 112.6,404.3 112.6,402.6 112.6,404.4 112.6,406.5 112.6,406.9 112.6,406.9 112.6,405.7 112.6,406.4 112.6,406.9 112.6,408.3 112.6,409.6 112.6,408.9 112.6,408.3 112.6,409.1 112.7,409.8 112.7,411.2 112.7,409.9 112.7,413.1 112.7,413.4 112.7,414.9 112.7,412.5 112.7,412.7 112.7,413.0 112.7,414.9 112.7,415.9 112.7,414.7 112.7,415.8 112.7,418.1 112.7,417.5 112.7,417.2 112.7,418.8 112.7,418.9 112.7,418.7 112.7,419.4 112.7,422.1 112.7,420.9 112.7,420.8 112.7,420.8 112.7,423.6 112.7,422.6 112.7,425.1 112.7,425.0 112.7,423.4 112.7,426.8 112.7,424.8 112.7,425.9 112.8,425.7 112.8,427.3 112.8,426.9 112.8,426.5 112.8,427.5 112.8,429.1 112.8,427.7 112.8,429.5 112.8,431.0 112.8,430.8 112.8,432.1 112.8,430.3 112.8,431.6 112.8,433.4 112.8,432.9 112.8,436.0 112.8,432.4 112.8,434.4 112.8,435.3 112.8,436.3 112.8,438.8 112.8,435.9 112.8,439.6 112.8,439.1 112.8,435.6 112.8,435.8 112.8,438.9 112.8,438.3 112.8,441.2 112.8,442.8 112.8,441.0 112.8,444.1 112.9,442.0 112.9,445.0 112.9,442.4 112.9,443.6 112.9,443.5 112.9,443.7 112.9,445.8 112.9,444.8 112.9,444.5 112.9,446.1 112.9,447.4 112.9,447.7 112.9,448.0 112.9,448.0 112.9,448.4 112.9,448.8 112.9,446.5 113.0,449.2 113.0,449.3 113.0,448.5 113.1,447.8 113.1,446.1 113.1,443.3 113.1,444.0 113.2,447.4 113.2,444.7 113.2,442.2 113.3,442.9 113.3,445.1 113.3,445.3 113.4,443.4 113.4,442.4 113.4,440.7 113.4,439.9 113.5,440.5 113.5,438.9 113.5,439.1 113.6,439.8 113.6,440.2 113.6,438.9 113.7,440.6 113.7,436.2 113.7,437.0 113.7,435.3 113.8,435.9 113.8,435.9 113.8,433.3 113.9,437.5 113.9,431.7 113.9,433.7 114.0,434.1 114.0,432.1 114.0,431.3 114.0,429.9 114.1,431.8 114.1,429.7 114.1,428.5 114.2,429.5 114.2,429.2 114.2,429.0 114.2,425.8 114.3,425.3 114.3,426.8 114.3,425.6 114.4,427.1 114.4,424.5 114.4,424.2 114.5,423.7 114.5,423.7 114.5,422.4 114.5,421.5 114.6,421.7 114.6,421.8 114.6,420.5 114.7,422.9 114.7,420.0 115.1,419.8 115.5,419.4 115.8,418.2 116.2,419.2 116.6,418.2 117.0,417.1 117.3,417.4 117.7,418.9 118.2,418.1 118.7,419.5 119.2,416.9 119.7,416.5 120.3,415.9 120.8,417.6 121.3,417.7 121.8,416.1 122.3,416.9 122.6,419.6 122.9,418.7 123.2,418.2 123.5,419.7 123.8,419.0 123.9,420.8 124.0,420.0 124.1,419.8 124.3,422.7 124.4,421.6 124.5,422.1 124.6,422.3 124.7,424.3 124.8,426.0 124.9,424.1 125.1,426.1 125.2,427.4 125.3,426.7 125.4,426.8 125.5,428.3 125.6,430.3 125.8,428.4 125.9,427.8 126.0,429.2 126.1,429.7 126.6,430.5 127.1,431.1 127.6,429.9 128.1,431.9 128.6,433.0 129.1,433.4 129.6,432.1 130.1,432.1 130.6,432.2 131.1,433.7 131.6,433.4 132.1,430.1 132.6,432.7 133.1,429.7 133.6,431.6 134.1,431.8 134.6,433.5 135.0,431.8 135.5,432.3 136.0,430.0 136.5,433.4 137.0,433.5 137.5,430.9 138.0,433.2 138.5,433.9 139.0,434.1 139.5,432.6 140.0,432.9 140.5,432.5 141.0,432.4 141.5,434.0 142.0,432.3 142.5,434.4 143.0,434.7 143.5,433.5 144.0,433.8 144.5,434.3 145.0,433.0 145.6,431.8 146.1,433.1 146.6,431.2 147.1,432.1 147.6,432.6 148.1,431.3 148.6,432.7 149.1,432.0 149.6,433.0 150.1,433.1 150.6,431.1 151.1,432.8 151.6,431.1 152.1,430.3 152.6,430.8 153.1,433.1 153.6,431.6 154.1,431.9 154.6,433.2 155.1,429.2 155.6,433.2 156.1,431.6 156.7,433.6 157.2,429.5 157.7,431.1 158.2,431.0 158.7,429.7 159.2,431.4 159.7,430.9 160.2,433.2 160.7,429.4 161.2,430.6 161.7,431.8 162.2,430.6 162.7,429.4 163.2,432.8 163.7,429.7 164.2,430.0 164.8,429.5 165.3,429.3 165.8,430.2 166.3,429.5 166.8,429.9 167.3,431.1 167.8,430.7 168.3,429.7 168.8,431.7 169.3,430.0 169.9,429.6 170.4,429.7 170.9,430.5 171.4,429.6 171.9,429.0 172.4,430.7 172.9,429.5 173.4,428.1 173.9,427.5 174.4,429.1 175.0,428.5 175.5,429.1 176.0,429.5 176.5,431.9 177.0,430.8 177.5,430.2 178.0,430.5 178.5,428.9 179.0,428.3 179.5,430.0 180.0,430.4 180.5,429.9 181.0,428.9 181.5,427.5 182.0,429.7 182.5,428.7 183.0,427.5 183.5,428.9 184.0,430.5 184.5,426.8 185.0,427.8 185.6,429.7 186.1,429.8 186.6,427.7 187.1,429.4 187.6,427.6 188.1,430.9 188.6,429.6 189.1,428.3 189.6,428.2 190.1,429.6 190.6,430.3 191.1,427.9 191.6,427.8 192.1,428.4 192.6,428.5 193.1,427.9 193.6,430.6 194.1,428.7 194.6,429.0 195.1,429.5 195.6,431.2 196.1,429.2 196.6,429.2 197.1,428.2 197.6,426.4 198.1,426.6 198.6,428.5 199.1,428.2 199.6,427.8 200.1,427.3 200.6,429.6 201.1,427.9 201.7,429.0 202.2,428.1 202.7,428.9 203.2,429.3 203.7,427.8 204.2,428.6 204.7,427.3 205.2,427.4 205.7,428.8 206.2,426.1 206.7,427.5 207.2,427.9 207.7,430.0 208.2,427.2 208.7,430.4 209.2,427.8 209.7,428.7 210.2,428.0 210.7,427.1 211.2,429.1 211.7,428.1 212.2,428.9 212.8,429.1 213.3,428.1 213.8,430.1 214.3,428.7 214.8,428.8 215.3,429.8 215.8,428.2 216.3,427.8 216.8,430.1 217.3,428.7 217.8,430.3 218.3,429.2 218.8,428.6 219.4,427.9 219.9,429.2 220.4,428.6 220.9,428.1 221.4,430.9 221.9,429.7 222.4,428.6 222.9,428.8 223.4,431.2 223.9,430.0 224.4,429.1 224.9,430.4 225.5,430.7 226.0,429.3 226.5,429.7 227.0,429.4 227.5,431.7 228.0,428.5 228.5,428.9 228.8,431.2 229.1,431.4 229.4,430.0 229.7,431.6 230.0,432.3 230.2,431.7 230.5,431.6 230.8,433.2 231.1,432.7 231.4,434.2 231.7,434.6 231.8,437.1 232.0,435.7 232.1,435.8 232.2,436.7 232.3,435.4 232.5,438.5 232.6,439.5 232.7,436.4 232.8,438.2 233.0,439.6 233.1,439.3 233.2,440.5 233.3,442.4 233.5,441.6 233.6,440.7 233.7,443.1 233.8,444.9 234.0,442.5 234.1,442.5 234.1,446.3 234.2,447.2 234.2,447.8 234.3,446.4 234.3,447.9 234.3,445.7 234.4,449.2 234.4,448.5 234.4,447.4 234.5,449.0 234.5,450.2 234.6,451.3 234.6,451.5 234.6,450.2 234.7,450.0 234.7,452.1 234.7,453.5 234.8,452.3 234.8,454.7 234.9,452.8 234.9,453.9" fill="none" stroke="#6744b4" stroke-width="1.30" stroke-linejoin="round" stroke-linecap="round" opacity="1.00" />
<polyline points="57.6,455.5 58.0,457.0 58.4,451.7 58.8,453.2 58.8,454.3 58.8,453.6 58.8,453.5 58.8,451.5 58.8,452.2 58.9,453.2 58.9,450.9 58.9,450.9 58.9,448.0 58.9,445.9 58.9,447.4 58.9,447.2 58.9,448.1 58.9,445.8 58.9,445.9 58.9,445.3 58.9,446.7 59.0,444.6 59.0,443.4 59.0,443.4 59.0,443.1 59.0,443.4 59.0,441.0 59.0,443.3 59.0,442.0 59.0,441.1 59.0,440.7 59.0,439.1 59.1,437.1 59.1,437.6 59.1,436.9 59.1,438.4 59.1,435.6 59.1,436.5 59.1,436.3 59.1,433.2 59.1,434.2 59.1,434.3 59.1,435.3 59.1,432.3 59.2,433.5 59.2,432.5 59.2,430.5 59.2,432.2 59.2,431.4 59.2,429.4 59.2,430.1 59.2,429.5 59.2,427.8 59.2,426.4 59.2,427.8 59.2,427.5 59.3,427.4 59.3,427.2 59.3,427.3 59.3,425.9 59.3,424.6 59.3,423.6 59.3,425.6 59.3,422.1 59.3,422.1 59.3,422.7 59.3,420.4 59.4,424.6 59.4,422.0 59.4,419.9 59.4,418.5 59.4,418.4 59.4,418.6 59.4,416.7 59.4,418.5 59.4,418.6 59.4,414.8 59.4,415.6 59.4,416.4 59.5,413.0 59.5,415.4 59.5,413.5 59.5,409.8 59.5,412.4 59.5,410.6 59.5,412.7 59.5,411.2 59.6,409.3 59.6,409.9 59.6,411.7 59.6,408.6 59.6,408.6 59.7,410.1 59.7,409.0 59.7,407.3 59.7,406.9 59.7,405.9 59.8,404.7 59.8,407.3 59.8,405.9 59.8,403.0 59.8,403.2 59.9,401.4 59.9,401.4 59.9,404.9 59.9,402.6 60.0,403.0 60.0,399.3 60.0,400.5 60.0,397.1 60.0,398.5 60.1,399.2 60.1,396.5 60.1,398.6 60.1,396.5 60.1,395.5 60.2,397.4 60.2,395.6 60.2,396.2 60.2,393.7 60.2,392.8 60.3,392.2 60.3,392.4 60.3,393.7 60.4,392.3 60.6,392.6 60.7,389.3 60.9,391.5 61.0,391.6 61.0,390.7 61.0,391.5 61.1,390.7 61.1,390.6 61.1,392.6 61.1,390.3 61.1,394.1 61.1,394.8 61.2,395.0 61.2,396.0 61.2,394.7 61.2,395.0 61.2,395.0 61.2,398.7 61.3,398.5 61.3,397.9 61.3,398.8 61.3,398.9 61.3,400.7 61.3,400.0 61.4,399.6 61.4,400.5 61.4,400.3 61.4,403.5 61.4,403.7 61.4,402.9 61.5,403.7 61.5,405.3 61.5,407.2 61.5,404.8 61.5,406.7 61.5,405.7 61.6,406.6 61.6,408.3 61.6,405.8 61.6,406.9 61.6,408.4 61.7,410.1 61.7,408.2 61.7,411.0 61.7,410.3 61.7,411.1 61.7,409.9 61.8,412.6 61.8,412.3 61.8,413.3 61.8,413.5 61.8,412.0 61.8,413.5 61.9,413.9 61.9,415.5 61.9,417.5 61.9,416.9 61.9,416.6 61.9,418.1 62.0,419.6 62.0,416.3 62.0,418.1 62.0,419.2 62.0,420.8 62.0,419.7 62.1,419.5 62.1,420.6 62.1,421.5 62.1,422.6 62.1,423.5 62.1,424.8 62.2,423.4 62.2,425.3 62.2,424.8 62.2,424.4 62.2,423.4 62.2,425.0 62.2,427.2 62.3,427.7 62.3,426.1 62.3,431.1 62.3,427.5 62.3,428.2 62.3,431.2 62.3,430.6 62.3,432.0 62.4,432.8 62.4,430.2 62.4,432.8 62.4,433.5 62.4,433.4 62.4,433.7 62.4,435.8 62.4,436.0 62.5,435.8 62.5,436.7 62.5,436.3 62.5,437.5 62.5,437.5 62.5,438.4 62.5,439.5 62.5,441.4 62.5,437.3 62.6,441.7 62.6,440.7 62.6,441.9 62.6,442.8 62.6,441.4 62.6,443.0 62.6,442.6 62.6,443.2 62.7,444.5 62.7,443.0 62.7,443.7 62.7,445.2 62.7,443.7 62.7,444.8 62.7,448.2 62.7,446.6 62.8,446.3 62.8,450.7 62.8,450.2 62.8,448.6 62.8,449.6 62.8,449.9 62.8,450.6 62.8,450.1 62.9,448.9 62.9,451.8 62.9,453.4 62.9,454.4 62.9,455.2 62.9,454.1 63.0,453.0 63.0,452.7 63.1,453.2 63.1,452.4 63.2,450.2 63.2,450.6 63.2,450.1 63.3,448.4 63.3,447.8 63.4,449.3 63.4,448.3 63.5,448.0 63.5,445.3 63.5,444.9 63.6,448.5 63.6,443.2 63.7,444.7 63.7,442.8 63.8,443.6 63.8,442.5 63.8,441.9 63.9,442.6 63.9,440.9 64.0,440.8 64.0,442.4 64.1,441.2 64.1,440.9 64.4,437.9 64.8,441.8 65.1,442.4 65.5,441.9 65.8,440.5 66.2,438.2 66.5,440.1 66.9,442.7 67.2,444.3 67.6,443.3 67.9,444.8 68.3,444.4 68.6,443.7 69.0,447.0 69.3,446.3 69.8,448.1 70.2,447.2 70.7,444.6 71.2,446.0 71.7,444.3 72.1,443.5 72.6,446.2 73.1,442.7 73.5,444.6 74.0,444.6 74.5,442.5 75.0,445.0 75.5,442.0 76.0,442.5 76.5,443.9 77.0,441.8 77.0,441.3 77.0,444.2 77.1,441.1 77.1,440.5 77.1,437.8 77.1,438.8 77.1,437.4 77.1,438.9 77.2,437.6 77.2,438.8 77.2,437.7 77.2,435.9 77.2,439.9 77.3,434.9 77.3,433.4 77.3,433.5 77.3,432.5 77.3,434.3 77.3,436.6 77.4,431.9 77.4,430.3 77.4,432.1 77.4,429.9 77.5,433.4 77.5,431.7 77.5,432.5 77.5,432.5 77.6,435.5 77.6,437.2 77.6,435.5 77.7,434.9 77.7,438.3 77.7,436.5 77.7,436.2 77.8,438.3 77.8,437.3 77.8,437.8 77.9,440.1 77.9,439.0 77.9,439.8 77.9,441.9 78.0,441.5 78.0,441.2 78.4,441.0 78.8,441.6 79.2,443.2 79.6,444.4 80.0,444.9 80.4,443.1 80.6,445.2 80.9,445.1 81.1,446.1 81.3,443.5 81.6,446.0 81.8,446.5 82.0,446.7 82.2,446.9 82.5,450.6 82.7,449.5 82.8,447.5 82.9,446.2 83.0,448.5 83.0,444.8 83.1,444.5 83.2,445.2 83.3,446.4 83.4,444.1 83.5,446.6 83.6,444.4 83.6,442.6 83.7,442.2 83.8,440.7 83.9,442.8 84.0,440.2 84.1,442.2 84.2,441.6 84.2,440.2 84.3,436.5 84.4,439.6 84.5,437.7 84.6,439.2 84.7,437.1 84.8,437.6 84.8,436.0 84.9,435.9 85.0,434.6 85.1,434.3 85.3,435.5 85.6,432.9 85.8,432.3 86.0,434.7 86.2,433.0 86.5,431.5 86.7,431.2 86.9,432.6 87.1,431.9 87.2,433.9 87.4,435.7 87.6,432.2 87.8,434.1 87.9,433.1 88.1,437.8 88.3,436.5 88.5,433.2 88.6,435.6 88.8,436.4 89.0,436.5 89.1,435.8 89.2,434.6 89.3,435.2 89.4,436.8 89.5,431.9 89.6,437.5 89.7,433.8 89.8,435.0 89.9,433.6 90.0,431.7 90.1,430.7 90.2,431.3 90.3,429.8 90.4,431.2 90.5,431.6 90.6,429.8 90.7,427.0 90.8,429.5 90.9,428.6 91.0,425.9 91.1,426.7 91.2,426.6 91.3,427.9 91.4,424.9 91.5,427.6 91.9,423.4 92.3,426.7 92.7,424.0 93.0,423.7 93.4,424.4 93.8,421.9 94.2,423.1 94.6,421.6 94.7,423.3 94.8,421.8 94.9,423.1 95.0,425.7 95.0,422.2 95.1,426.0 95.2,424.6 95.3,428.6 95.4,426.4 95.5,428.3 95.6,427.7 95.7,428.5 95.8,428.8 95.9,427.1 95.9,429.3 96.0,429.9 96.1,431.2 96.2,431.9 96.3,432.5 96.4,430.5 96.5,431.0 96.6,432.3 96.7,432.6 96.8,433.7 96.8,434.4 96.9,434.2 97.0,434.6 97.1,435.5 97.2,437.5 97.3,436.7 97.4,437.6 97.4,437.7 97.5,435.6 97.6,435.2 97.7,432.6 97.7,433.0 97.8,432.5 97.9,433.8 98.0,432.6 98.0,432.0 98.1,431.2 98.2,430.9 98.3,429.7 98.3,431.3 98.4,428.1 98.5,429.2 98.5,427.6 98.6,427.0 98.7,426.8 98.8,425.9 98.8,427.6 98.9,424.7 99.0,425.9 99.1,424.6 99.1,424.0 99.2,424.4 99.3,422.6 99.4,422.6 99.4,421.6 99.5,419.7 100.1,419.4 100.7,420.2 101.2,421.6 101.8,423.0 101.8,422.5 101.9,422.3 101.9,420.4 101.9,419.3 101.9,420.2 102.0,416.4 102.0,418.3 102.0,418.2 102.1,414.2 102.1,414.3 102.1,416.8 102.2,414.1 102.2,413.8 102.2,412.3 102.2,415.8 102.3,414.0 102.3,413.9 102.3,411.2 102.4,411.0 102.4,411.2 102.4,413.7 102.5,408.1 102.5,409.9 102.5,409.7 102.5,409.8 102.6,407.8 102.6,410.8 102.6,408.6 102.7,404.2 102.7,404.8 102.7,406.8 102.8,403.1 102.8,404.7 102.8,402.7 102.8,405.9 102.9,401.3 102.9,402.6 103.1,401.8 103.2,404.1 103.4,403.5 103.6,405.0 103.8,405.4 103.9,406.3 104.1,405.9 104.4,405.2 104.8,405.0 105.1,407.6 105.4,406.3 105.8,403.9 106.1,401.8 106.4,403.3 106.8,401.5 107.1,402.2 107.5,402.0 107.9,403.9 108.3,402.3 108.7,403.6 109.0,404.2 109.4,403.0 109.8,404.1 110.2,406.6 110.7,404.5 111.1,404.8 111.5,404.1 112.0,404.1 112.1,406.3 112.2,404.8 112.3,405.1 112.4,406.7 112.5,408.2 112.6,405.9 112.7,406.9 112.8,408.3 112.9,410.0 113.0,406.9 113.1,407.7 113.2,409.4 113.3,409.1 113.5,410.3 113.6,410.0 113.7,410.4 113.8,410.4 113.9,410.2 114.0,414.8 114.1,412.8 114.2,415.1 114.3,413.6 114.4,415.0 114.5,417.5 114.6,417.0 114.7,413.3 114.8,417.4 114.9,416.9 114.9,415.3 115.0,412.9 115.1,413.8 115.2,414.2 115.2,415.4 115.3,414.1 115.4,411.3 115.5,411.9 115.5,411.9 115.6,411.4 115.7,410.1 115.8,410.3 115.8,410.2 115.9,409.4 116.0,409.2 116.0,405.8 116.1,406.5 116.2,408.1 116.3,406.6 116.3,407.3 116.4,407.2 116.5,406.6 116.5,402.7 116.5,403.7 116.5,403.0 116.5,401.4 116.5,401.0 116.5,402.0 116.5,400.6 116.5,401.0 116.6,401.7 116.6,401.4 116.6,398.9 116.6,400.5 116.6,397.5 116.6,397.5 116.6,396.3 116.6,397.9 116.6,398.7 116.6,396.0 116.6,395.4 116.6,392.8 116.6,392.4 116.6,393.2 116.6,390.8 116.6,393.8 116.6,391.8 116.7,390.3 116.7,392.1 116.7,389.0 116.7,392.4 116.7,392.4 116.7,390.3 116.7,388.2 116.7,387.2 116.7,389.7 116.7,385.9 116.7,386.2 116.7,385.7 116.7,384.4 116.7,385.7 116.7,384.0 116.7,381.4 116.7,384.2 116.8,384.5 116.8,382.5 116.8,383.2 116.8,381.2 116.8,381.0 116.8,380.0 116.8,380.0 116.8,381.0 116.8,378.7 116.8,378.9 116.8,378.3 116.8,377.3 116.8,377.1 116.8,375.4 116.8,375.2 116.8,371.3 116.8,374.6 116.9,373.4 116.9,373.6 116.9,372.6 116.9,371.9 116.9,373.4 116.9,370.4 116.9,371.1 116.9,370.5 116.9,371.0 116.9,372.0 116.9,370.1 116.9,370.2 116.9,372.0 116.9,371.5 116.9,374.3 116.9,374.0 116.9,374.6 116.9,375.8 116.9,374.9 116.9,376.7 116.9,376.7 116.9,378.0 116.9,378.2 117.0,376.5 117.0,377.6 117.0,378.0 117.0,380.9 117.0,379.9 117.0,380.5 117.0,382.6 117.0,380.1 117.0,381.7 117.0,382.6 117.0,381.2 117.0,382.4 117.0,385.6 117.0,385.0 117.0,385.6 117.0,385.1 117.0,386.8 117.0,388.1 117.0,388.0 117.0,387.8 117.0,387.7 117.0,389.8 117.0,387.9 117.0,392.2 117.0,392.2 117.0,392.3 117.0,392.1 117.0,391.0 117.0,391.8 117.0,391.7 117.1,395.1 117.1,394.4 117.1,394.5 117.1,394.0 117.1,396.5 117.1,395.9 117.1,396.1 117.1,396.4 117.1,397.5 117.1,397.9 117.1,402.3 117.1,399.2 117.1,400.5 117.1,402.2 117.1,402.0 117.1,399.2 117.1,401.1 117.1,402.0 117.1,401.1 117.1,402.9 117.1,403.9 117.1,402.7 117.1,406.3 117.1,407.8 117.1,403.7 117.1,404.5 117.1,402.1 117.1,406.3 117.1,408.2 117.2,408.9 117.2,406.6 117.2,409.8 117.2,409.3 117.2,409.0 117.2,413.6 117.2,410.5 117.2,411.6 117.2,411.9 117.2,411.7 117.2,411.6 117.2,414.6 117.2,415.3 117.2,416.8 117.2,415.0 117.2,415.0 117.2,415.8 117.2,416.0 117.2,415.1 117.2,415.7 117.2,416.1 117.2,419.1 117.2,419.7 117.2,418.9 117.2,418.8 117.2,420.8 117.2,422.1 117.2,420.9 117.2,422.7 117.2,422.6 117.3,423.1 117.3,425.3 117.3,424.7 117.3,423.7 117.3,424.6 117.3,426.6 117.3,426.3 117.3,427.2 117.3,427.7 117.3,428.1 117.3,428.5 117.3,428.1 117.3,429.2 117.3,431.0 117.3,432.1 117.3,429.9 117.3,426.3 117.3,429.5 117.3,427.2 117.3,426.6 117.3,428.2 117.4,424.9 117.4,424.2 117.4,426.0 117.4,426.8 117.4,425.3 117.4,424.3 117.4,423.7 117.4,423.6 117.4,422.4 117.4,422.8 117.4,422.7 117.4,420.0 117.5,421.1 117.5,419.3 117.5,417.6 117.5,417.8 117.5,415.6 117.5,416.9 117.5,418.5 117.5,415.4 117.5,417.2 117.5,416.7 117.5,416.2 117.5,415.0 117.5,413.0 117.6,413.8 117.6,414.2 117.6,414.1 117.6,414.0 117.6,413.5 117.6,414.2 117.6,412.1 117.6,408.4 117.6,409.1 117.6,410.5 117.6,408.1 117.6,408.6 117.7,408.9 117.7,408.8 117.7,407.0 117.7,404.9 117.7,405.6 117.7,404.0 117.7,403.9 118.2,402.4 118.7,405.7 119.1,405.2 119.6,404.1 120.1,403.5 120.5,403.2 121.0,404.3 121.5,402.8 121.7,402.0 121.9,401.5 122.1,402.5 122.2,399.8 122.4,401.9 122.6,398.3 122.8,399.0 123.0,398.8 123.1,398.2 123.2,400.9 123.2,400.4 123.3,401.6 123.4,401.3 123.5,402.0 123.5,403.7 123.6,402.9 123.7,401.7 123.8,401.8 123.8,404.8 123.9,402.0 124.0,406.8 124.1,405.2 124.2,406.5 124.2,409.6 124.3,406.9 124.4,406.7 124.5,407.6 124.5,411.6 124.6,407.3 124.7,410.2 124.8,412.3 124.8,408.7 124.9,411.0 125.0,410.8 125.1,410.0 125.1,412.9 125.2,411.6 125.3,413.8 125.4,414.4 125.6,415.3 125.7,415.8 125.8,416.0 126.0,413.8 126.1,415.0 126.2,419.4 126.4,415.4 126.5,416.1 126.7,419.3 126.8,421.0 126.9,422.2 127.1,419.0 127.2,420.9 127.3,423.7 127.5,423.6 127.6,423.5 128.1,421.8 128.5,423.0 129.0,422.3 129.4,422.8 129.9,424.1 130.4,422.8 130.8,423.6 131.3,425.5 131.8,424.2 132.2,426.0 132.7,423.3 133.2,423.6 133.6,426.5 134.1,426.0 134.5,424.9 135.0,424.1 135.5,424.0 136.0,425.6 136.5,424.8 137.0,424.7 137.5,424.9 138.0,425.9 138.5,425.2 139.0,425.4 139.5,425.6 140.0,426.4 140.5,424.1 141.0,426.9 141.5,423.6 142.0,425.5 142.5,424.7 143.0,425.7 143.5,426.0 144.0,424.2 144.5,426.1 145.0,426.7 145.5,425.0 146.0,424.5 146.5,424.4 147.0,423.3 147.5,421.9 148.0,423.5 148.5,424.8 149.0,426.7 149.5,425.2 150.0,422.8 150.5,424.3 151.0,423.3 151.5,423.8 152.0,423.2 152.5,424.9 153.0,422.2 153.5,423.2 154.0,423.8 154.5,422.9 155.0,421.9 155.5,424.1 156.0,424.4 156.5,423.9 157.0,424.6 157.5,421.6 158.0,421.1 158.5,425.2 159.0,423.5 159.5,423.9 160.0,423.1 160.5,421.7 161.0,425.7 161.5,423.4 162.0,424.1 162.5,425.2 163.0,422.8 163.5,423.7 164.0,423.0 164.5,422.3 165.0,423.0 165.5,423.1 166.0,423.1 166.5,422.4 167.0,423.7 167.5,422.6 168.0,423.9 168.1,421.5 168.1,421.8 168.2,421.8 168.2,422.4 168.2,421.7 168.3,418.0 168.3,419.3 168.4,419.1 168.4,418.5 168.5,417.1 168.5,416.3 168.6,417.5 168.7,414.9 168.7,416.3 168.8,420.6 168.9,416.7 168.9,418.6 169.0,418.5 169.1,420.7 169.1,421.7 169.2,421.7 169.3,423.6 169.3,425.4 169.4,420.5 169.5,421.4 169.6,420.0 169.8,420.9 169.9,420.2 170.0,418.8 170.1,420.4 170.3,419.7 170.4,420.5 170.5,418.7 170.6,417.7 170.8,417.7 170.9,417.6 171.0,418.0 171.1,418.8 171.1,417.0 171.2,419.8 171.2,417.9 171.3,417.7 171.4,418.9 171.4,419.0 171.5,419.8 171.6,422.8 171.6,422.0 171.7,421.1 171.7,421.6 171.8,422.9 171.9,422.6 172.1,420.7 172.2,421.5 172.4,422.6 172.5,420.4 172.7,419.8 172.8,417.7 172.9,420.0 173.1,417.4 173.2,415.6 173.4,418.0 173.5,414.7 173.6,415.7 173.6,420.8 173.7,418.1 173.8,419.2 173.8,420.1 173.9,419.2 174.0,421.1 174.0,422.1 174.1,421.9 174.2,423.5 174.2,425.7 174.3,422.2 174.5,423.8 174.6,422.1 174.8,419.3 175.0,419.7 175.2,420.7 175.3,419.1 175.5,418.8 175.7,418.9 175.8,417.8 176.0,418.4 176.1,417.6 176.2,418.0 176.2,419.4 176.3,420.4 176.4,420.9 176.5,420.9 176.6,420.9 176.6,421.3 176.7,422.9 176.8,424.2 177.3,421.9 177.8,421.6 178.3,423.2 178.8,425.4 179.3,424.0 179.8,422.4 180.4,421.9 180.9,421.7 181.4,424.0 181.9,421.1 182.4,421.6 182.9,422.8 183.4,423.9 183.9,423.4 184.4,423.8 184.9,424.1 185.4,424.1 185.9,423.6 186.4,425.0 187.0,419.3 187.5,423.2 188.0,423.2 188.5,421.4 189.0,421.4 189.5,422.7 190.0,423.7 190.5,421.0 191.0,420.6 191.5,422.2 192.0,423.8 192.5,425.0 193.0,423.5 193.5,421.3 194.0,423.2 194.5,424.0 195.1,421.4 195.6,423.4 196.1,421.1 196.6,424.2 197.1,422.5 197.6,422.0 198.1,423.9 198.6,421.6 199.1,423.1 199.6,423.3 200.1,424.2 200.6,422.7 201.1,420.7 201.6,421.7 202.1,422.6 202.6,423.6 203.1,423.3 203.6,423.3 204.1,420.1 204.7,422.5 205.2,422.5 205.7,424.9 206.2,422.8 206.7,421.8 207.2,422.9 207.7,421.1 208.2,420.3 208.7,422.9 209.2,421.5 209.6,422.5 210.0,423.9 210.4,425.7 210.4,423.1 210.4,422.4 210.4,423.0 210.4,423.4 210.5,421.0 210.5,419.8 210.5,419.4 210.5,420.2 210.5,418.2 210.5,420.0 210.5,417.5 210.5,419.4 210.5,417.3 210.5,416.7 210.6,418.0 210.6,416.0 210.6,416.3 210.6,415.5 210.6,414.8 210.6,413.2 210.6,416.2 210.6,412.7 210.6,411.3 210.6,409.9 210.7,411.6 210.7,410.0 210.7,413.0 210.7,408.3 210.7,409.6 210.7,408.3 210.7,407.6 210.7,408.3 210.7,406.4 210.7,407.8 210.8,405.6 210.8,405.7 210.8,405.6 210.8,404.4 210.8,404.1 210.8,403.0 210.8,403.6 210.8,405.6 210.8,405.6 210.8,406.6 210.8,407.8 210.8,405.9 210.8,406.9 210.8,407.0 210.8,409.2 210.9,411.8 210.9,407.1 210.9,409.6 210.9,409.0 210.9,412.4 210.9,411.9 210.9,411.9 210.9,412.5 210.9,413.5 210.9,412.7 210.9,413.9 210.9,413.6 210.9,416.8 210.9,416.4 210.9,413.3 210.9,415.7 210.9,415.7 210.9,416.9 211.0,418.3 211.0,416.8 211.0,417.5 211.0,419.5 211.0,419.5 211.0,420.4 211.0,419.9 211.0,419.7 211.0,422.5 211.0,423.4 211.0,422.4 211.0,423.9 211.0,424.7 211.0,423.9 211.0,422.6 211.0,425.5 211.0,427.0 211.0,428.1 211.1,426.1 211.1,426.9 211.1,428.3 211.1,430.1 211.1,429.2 211.1,428.6 211.1,429.8 211.1,431.2 211.1,429.6 211.1,429.4 211.1,432.4 211.1,432.2 211.1,434.0 211.1,434.4 211.1,435.3 211.1,436.8 211.1,434.1 211.1,435.3 211.1,437.1 211.2,437.0 211.2,436.6 211.2,439.0 211.2,436.7 211.2,439.6 211.2,439.7 211.2,439.3 211.2,439.2 211.2,439.3 211.2,442.0 211.2,441.1 211.2,440.3 211.2,442.1 211.2,443.6 211.2,443.5 211.2,444.0 211.2,443.1 211.2,441.2 211.3,445.1 211.3,446.2 211.3,447.2 211.3,445.2 211.3,447.1 211.3,447.5 211.3,448.6 211.3,449.5 211.3,448.0 211.3,452.4 211.4,447.6 211.4,450.1 211.5,447.7 211.6,449.0 211.6,447.8 211.7,447.3 211.8,446.5 211.8,446.2 211.9,446.0 212.0,442.5 212.0,444.9 212.1,442.7 212.2,444.4 212.2,443.6 212.3,440.6 212.4,441.3 212.4,441.9 212.5,440.7 212.6,439.6 212.6,438.3 212.7,441.1 213.2,439.2 213.7,437.0 214.2,440.1 214.6,440.9 215.1,439.7 215.6,442.1 216.1,439.9 216.6,440.4 217.1,441.7 217.5,441.2 218.0,441.4 218.5,442.4 219.0,442.7 219.5,441.6 220.0,442.7 220.5,441.7 221.0,439.8 221.5,443.7 222.0,443.5 222.4,441.6 222.9,443.4 223.4,444.1 223.9,444.6 224.4,444.0 224.9,445.3 225.4,444.8 225.4,445.1 225.5,445.2 225.5,445.4 225.5,445.1 225.6,446.5 225.6,448.6 225.6,444.9 225.7,449.6 225.7,447.5 225.7,450.8 225.8,448.5 225.8,450.1 225.8,450.0 225.9,451.2 225.9,452.5 225.9,450.2 226.0,452.6 226.0,453.5 226.0,453.7 226.1,455.4 226.1,457.2" fill="none" stroke="#336e4c" stroke-width="1.30" stroke-linejoin="round" stroke-linecap="round" opacity="1.00" />
<polyline points="203.5,454.6 203.8,446.7 204.0,454.6 204.2,436.2 204.5,454.6 204.8,441.9 205.0,454.6 205.2,445.0 205.5,454.6 205.8,443.9 206.0,454.6 206.2,447.5 206.5,454.6 206.8,446.5 207.0,454.6 207.2,447.5 207.5,454.6 207.8,431.5 208.0,454.6 208.2,438.9 208.5,454.6 208.8,439.7 209.0,454.6 209.2,432.2 209.5,454.6 209.8,431.1 210.0,454.6 210.2,446.0" fill="none" stroke="#d0222c" stroke-width="0.90" stroke-linejoin="round" stroke-linecap="round" opacity="1.00" />
<line x1="228.5" y1="406.8" x2="228.5" y2="454.6" stroke="#336e4c" stroke-width="0.9"/>
<line x1="230.4" y1="415.5" x2="230.4" y2="454.6" stroke="#336e4c" stroke-width="0.9"/>
</g>
<g clip-path="url(#cr4)">
<path d="M339.40,415.50 C340.00,415.68 341.88,415.18 343.00,416.60 C344.12,418.02 344.87,421.18 346.10,424.00 C347.33,426.82 348.63,431.28 350.40,433.50 C352.17,435.72 353.88,436.88 356.70,437.30 C359.52,437.72 363.95,436.10 367.30,436.00 C370.65,435.90 374.35,436.93 376.80,436.70 C379.25,436.47 376.55,434.95 382.00,434.60 C387.45,434.25 401.40,434.78 409.50,434.60 C417.60,434.42 425.52,433.93 430.60,433.50 C435.68,433.07 436.67,432.53 440.00,432.00 C443.33,431.47 447.97,430.40 450.60,430.30 C453.23,430.20 454.05,431.40 455.80,431.40 C457.55,431.40 459.15,430.48 461.10,430.30 C463.05,430.12 465.57,429.95 467.50,430.30 C469.43,430.65 471.12,432.50 472.70,432.40 C474.28,432.30 476.28,430.15 477.00,429.70" fill="none" stroke="#d0222c" stroke-width="1.00" stroke-linejoin="round" stroke-linecap="round"/>
<path d="M339.40,397.60 C340.00,396.72 341.88,390.90 343.00,392.30 C344.12,393.70 345.05,400.90 346.10,406.00 C347.15,411.10 348.23,418.85 349.30,422.90 C350.37,426.95 351.27,428.88 352.50,430.30 C353.73,431.72 354.95,431.40 356.70,431.40 C358.45,431.40 361.23,430.30 363.00,430.30 C364.77,430.30 365.18,431.47 367.30,431.40 C369.42,431.33 373.25,430.60 375.70,429.90 C378.15,429.20 378.83,427.37 382.00,427.20 C385.17,427.03 389.42,428.73 394.70,428.90 C399.98,429.07 407.72,428.48 413.70,428.20 C419.68,427.92 426.22,427.73 430.60,427.20 C434.98,426.67 436.67,425.63 440.00,425.00 C443.33,424.37 447.25,424.10 450.60,423.40 C453.95,422.70 457.82,420.95 460.10,420.80 C462.38,420.65 462.20,423.02 464.30,422.50 C466.40,421.98 470.58,417.63 472.70,417.70 C474.82,417.77 475.77,421.85 477.00,422.90 C478.23,423.95 478.58,424.77 480.10,424.00 C481.62,423.23 485.10,419.25 486.10,418.30" fill="none" stroke="#6744b4" stroke-width="1.00" stroke-linejoin="round" stroke-linecap="round"/>
<path d="M339.40,396.50 C339.82,394.92 341.07,389.57 341.90,387.00 C342.73,384.43 343.52,381.63 344.40,381.10 C345.28,380.57 346.20,381.40 347.20,383.80 C348.20,386.20 349.17,390.38 350.40,395.50 C351.63,400.62 353.38,410.80 354.60,414.50 C355.82,418.20 356.30,417.63 357.70,417.70 C359.10,417.77 361.40,415.02 363.00,414.90 C364.60,414.78 365.53,417.42 367.30,417.00 C369.07,416.58 371.15,413.35 373.60,412.40 C376.05,411.45 379.18,411.20 382.00,411.30 C384.82,411.40 387.85,412.93 390.50,413.00 C393.15,413.07 395.43,411.70 397.90,411.70 C400.37,411.70 401.60,412.88 405.30,413.00 C409.00,413.12 415.88,412.40 420.10,412.40 C424.32,412.40 427.78,412.93 430.60,413.00 C433.42,413.07 434.38,413.62 437.00,412.80 C439.62,411.98 444.03,408.35 446.30,408.10 C448.57,407.85 448.48,410.93 450.60,411.30 C452.72,411.67 456.37,411.00 459.00,410.30 C461.63,409.60 462.52,407.98 466.40,407.10 C470.28,406.22 478.25,405.88 482.30,405.00 C486.35,404.12 487.88,402.43 490.70,401.80 C493.52,401.17 496.38,400.73 499.20,401.20 C502.02,401.67 505.32,403.97 507.60,404.60 C509.88,405.23 512.02,404.93 512.90,405.00" fill="none" stroke="#336e4c" stroke-width="1.00" stroke-linejoin="round" stroke-linecap="round"/>
<polyline points="512.9,405.0 516.1,412.4 522.0,450.4 525.6,374.3 527.7,399.7" fill="none" stroke="#336e4c" stroke-width="1.00" stroke-linejoin="round" stroke-linecap="round" opacity="1.00" />
</g>
<g clip-path="url(#cl5)">
<polyline points="57.6,534.8 58.4,534.9 59.3,534.8 60.1,534.7 60.9,534.8 61.7,534.8 62.6,534.8 63.4,534.4 64.2,534.6 65.0,534.6 65.9,534.8 66.7,534.7 67.5,534.6 68.3,534.7 69.2,534.7 70.0,534.4 70.8,534.7 71.7,534.4 72.5,534.5 73.3,534.5 74.2,534.2 75.0,534.5 75.8,534.0 76.7,534.4 77.5,534.3 78.3,534.1 79.2,534.3 80.0,533.9 80.8,533.7 81.6,533.9 82.4,533.6 83.2,533.7 84.0,533.7 84.8,533.9 85.6,533.5 86.4,533.5 87.2,533.6 88.0,533.5 88.8,533.3 89.6,533.0 90.3,532.2 91.1,531.9 91.8,531.4 92.6,531.0 93.3,530.8 94.1,530.2 94.9,530.2 95.7,529.5 96.6,529.4 97.4,529.4 98.2,529.0 99.0,528.7 99.9,528.2 100.7,528.5 101.5,527.9 102.3,527.9 103.0,527.3 103.8,527.1 104.6,527.2 105.4,526.4 106.1,526.2 106.9,526.0 107.7,525.4 108.5,525.5 109.2,525.2 110.0,524.8 110.9,524.6 111.8,524.6 112.7,524.3 113.6,524.2 114.5,523.9 115.4,524.1 116.3,523.7 117.1,524.4 118.0,524.5 118.8,525.1 119.7,525.4 120.5,526.1 121.3,526.0 122.1,525.8 122.9,525.8 123.7,525.4 124.5,524.8 125.2,525.0 126.0,524.9 126.8,524.7 127.6,524.4 128.4,524.2 129.2,524.1 130.0,523.5 130.8,523.5 131.6,523.6 132.4,523.5 133.2,523.0 134.0,522.8 134.8,522.8 135.5,522.7 136.3,522.4 137.1,522.1 137.9,522.2 138.7,522.1 139.5,521.4 140.3,521.3 141.1,521.6 141.9,521.5 142.7,521.2 143.6,521.2 144.4,521.2 145.2,521.3 146.0,521.2 146.8,521.1 147.6,521.0 148.4,520.8 149.2,520.7 150.1,520.6 150.9,520.7 151.7,520.4 152.5,520.1 153.3,520.5 154.1,520.4 154.9,520.6 155.7,520.2 156.5,519.9 157.4,519.8 158.2,520.2 159.0,519.9 159.8,519.4 160.6,519.5 161.5,519.5 162.3,519.6 163.2,519.2 164.0,518.8 164.9,519.3 165.7,518.8 166.6,518.9 167.4,518.5 168.3,518.7 169.1,518.7 170.0,518.2 170.8,518.0 171.5,517.9 172.3,517.4 173.0,517.2 173.8,516.6 174.5,516.1 175.3,515.7 176.1,515.7 176.8,515.4 177.6,514.8 178.3,514.6 179.1,514.2 179.8,513.4 180.6,513.1 181.3,513.0 182.1,512.7 182.8,512.4 183.5,512.0 184.3,511.6 185.0,511.4 185.7,511.1 186.5,510.7 187.2,510.5 187.9,510.0 188.7,509.7 189.4,509.5 190.2,509.0 190.9,509.1 191.6,508.3 192.4,508.2 193.1,507.6 193.8,507.5 194.6,507.0 195.3,506.8 196.0,506.9 196.8,506.1 197.5,505.9 198.3,506.2 199.2,507.1 200.0,507.7 200.9,507.4 201.7,507.7 201.8,508.7 201.9,509.9 202.0,510.5 202.1,510.9 202.1,511.9 202.2,513.0 202.3,513.8 202.4,514.9 202.5,515.5 202.6,516.2 202.7,517.0 202.8,517.8 202.9,518.6 203.0,519.6 203.0,520.6 203.1,521.2 203.2,522.1 203.3,523.0 203.4,524.0 204.0,524.4 204.7,525.0 205.3,525.7 205.9,526.2 206.6,526.8 207.2,527.3 207.8,528.2 208.5,528.6 209.1,529.0 209.3,530.0 209.5,530.8 209.7,531.3 209.9,532.5 210.1,533.2 210.1,532.4 210.2,531.8 210.2,531.0 210.2,530.2 210.3,529.3 210.3,528.6 210.4,527.4 210.4,527.1 210.4,526.1 210.5,525.0 210.5,524.0 210.5,523.5 210.6,522.7 210.6,521.7 210.7,520.9 210.7,520.3 210.7,519.5 210.8,518.6 210.8,517.9 210.8,516.9 210.9,515.9 210.9,515.1 211.0,514.5 211.0,513.6 211.0,512.9 211.1,512.2 211.1,511.0 211.2,510.1 211.2,509.7 211.2,508.8 211.3,508.0 211.3,507.2 211.3,507.0 211.4,505.5 211.4,504.7 211.4,503.8 211.5,502.9 211.5,502.1 211.6,501.6 211.6,500.8 211.6,501.2 211.7,501.8 211.7,503.2 211.8,504.1 211.8,504.6 211.9,505.5 211.9,506.3 212.0,507.0 212.0,507.7 212.1,508.8 212.1,509.7 212.2,510.4 212.2,511.4 212.3,512.0 212.3,512.7 212.4,513.7 212.4,514.4 212.5,515.1 212.5,516.2 212.6,517.0 212.6,517.5 212.7,518.4 212.7,519.3 212.8,519.8 212.8,520.9 212.9,521.6 212.9,522.6 213.0,523.2 213.0,524.3 213.1,524.6 213.1,526.2 213.2,526.2 213.2,527.8 213.3,528.3 213.3,529.0 214.1,529.7 214.9,529.2 215.7,529.4 216.5,529.2 217.3,529.4 218.1,529.5 218.9,529.8 219.7,529.9 220.5,530.1 221.3,529.9 222.1,530.0 222.9,529.7 223.8,530.4 224.6,530.1 225.4,530.1 226.2,530.8 227.0,530.4 227.8,530.3 228.6,530.5 229.4,530.7 230.2,530.7 231.0,531.1 231.8,531.0 232.6,531.4 233.4,531.3 234.2,531.4 235.0,530.9 235.8,531.2 236.6,531.4 237.4,531.3 238.2,531.4 239.1,531.5 239.9,531.7 240.7,531.6 241.5,531.6 242.3,531.5 243.1,531.8 243.9,531.9 244.7,531.8 245.5,531.7 246.3,531.8 247.1,532.2 247.9,532.1 248.7,532.0 249.6,532.1 250.4,532.2 251.2,532.3 252.0,532.3 252.8,531.8 253.6,532.1 254.4,532.4 255.2,532.4 256.0,532.3 256.8,532.6 257.6,532.5 258.4,532.6 259.2,532.4 260.1,532.8 260.9,533.0 261.7,532.7 262.5,532.9 263.3,532.7 264.1,532.8 264.9,532.6 265.7,532.8 266.5,533.0 267.3,532.8 268.1,533.3 268.9,533.3 269.8,533.2 270.6,533.4 271.4,533.1 272.2,533.1 273.0,533.0 273.8,533.5 274.6,533.4 275.4,533.9 276.2,533.8 277.0,533.6 277.8,533.6 278.6,533.7 279.4,533.4 280.3,533.8 281.1,534.1 281.9,533.8 282.7,533.7 283.5,534.0 284.3,533.9 285.1,534.0" fill="none" stroke="#d0222c" stroke-width="1.00" stroke-linejoin="round" stroke-linecap="round" opacity="1.00" />
<polyline points="57.6,534.6 58.4,534.9 59.3,534.7 60.1,534.8 60.9,534.8 61.7,534.3 62.6,534.8 63.4,534.5 64.2,534.4 65.0,534.9 65.9,534.3 66.7,534.3 67.5,534.5 68.3,534.9 69.2,534.8 70.0,534.6 70.8,534.9 71.7,534.3 72.5,534.1 73.3,534.5 74.2,534.4 75.0,534.4 75.8,534.0 76.7,534.3 77.5,534.2 78.3,533.8 79.2,534.2 80.0,534.1 80.8,534.2 81.6,533.8 82.4,533.9 83.2,533.9 84.0,533.4 84.8,533.5 85.6,533.4 86.4,533.4 87.2,533.7 88.0,533.5 88.8,533.4 89.2,532.7 89.6,532.0 90.1,531.5 90.5,530.6 90.9,530.1 91.3,529.2 91.7,528.4 92.2,527.8 92.6,526.9 93.0,526.4 93.4,525.1 93.8,524.8 94.3,524.1 94.7,523.3 95.1,522.9 95.9,522.7 96.6,522.4 97.4,521.7 98.1,521.7 98.9,521.0 99.6,520.9 100.4,520.7 101.2,521.1 101.9,521.4 102.7,522.0 103.4,521.9 104.2,522.7 104.9,522.9 105.7,523.4 106.5,523.9 107.4,524.1 108.2,524.1 109.1,524.7 110.0,524.5 110.8,524.7 111.7,525.1 112.5,525.0 113.4,525.2 114.2,525.7 115.0,525.1 115.9,525.3 116.7,524.9 117.6,525.7 118.4,525.1 119.2,525.3 120.1,524.8 120.9,525.4 121.8,524.7 122.6,524.8 123.4,525.4 124.3,525.2 125.1,525.1 126.0,525.5 126.8,525.3 127.7,525.3 128.5,525.3 129.4,525.3 130.2,525.4 131.1,525.5 131.9,525.6 132.8,525.8 133.6,525.9 134.5,525.9 135.3,526.0 136.1,525.9 136.9,526.2 137.7,526.1 138.5,526.3 139.3,525.9 140.1,526.5 140.9,526.1 141.7,526.1 142.5,526.2 143.3,525.9 144.2,526.1 145.0,526.1 145.8,526.1 146.6,526.1 147.4,525.7 148.2,526.4 149.0,526.0 149.8,525.5 150.6,526.4 151.4,526.1 152.2,526.1 153.0,525.7 153.8,525.4 154.6,525.3 155.4,525.4 156.2,524.8 157.0,524.6 157.8,524.1 158.6,523.6 159.3,523.6 160.1,523.3 160.9,523.2 161.7,522.9 162.5,522.5 163.3,521.9 164.1,521.7 164.9,521.5 165.6,520.8 166.4,520.6 167.1,520.6 167.8,519.8 168.5,519.2 169.3,518.7 170.0,518.6 170.6,518.1 171.2,517.5 171.9,517.0 172.5,516.3 173.1,515.8 173.7,515.0 174.4,514.6 175.0,514.1 175.6,513.2 176.2,512.8 176.9,512.3 177.5,512.2 178.1,511.3 178.7,510.8 179.4,510.3 180.0,509.6 180.6,509.4 181.0,508.1 181.5,507.4 181.9,506.9 182.3,506.1 182.8,505.3 183.2,504.8 183.7,503.6 184.1,503.4 184.5,502.5 185.0,502.0 185.4,501.1 185.8,500.5 186.3,500.0 186.7,498.9 187.2,498.7 187.6,497.7 188.0,497.5 188.5,496.0 188.9,495.9 189.3,494.9 189.8,494.5 190.2,493.4 190.7,492.5 191.1,492.1 191.6,491.5 192.1,490.7 192.6,490.1 193.1,489.4 193.6,488.7 194.1,487.9 194.6,487.7 195.1,487.0 195.6,486.1 196.1,485.8 196.7,484.9 197.2,484.3 197.7,483.5 198.2,483.2 198.7,482.7 199.2,481.8 199.7,481.1 200.2,480.1 200.7,479.8 201.2,478.9 201.7,478.3 202.3,477.8 202.8,477.4 203.4,476.6 204.0,476.3 204.5,475.6 205.1,474.6 205.7,474.2 206.3,473.8 206.8,473.0 207.4,472.4 208.0,472.2 208.5,471.8 209.1,470.9 209.6,471.0 210.2,472.0 210.7,472.5 211.2,473.1 211.8,473.8 212.3,474.4 212.8,475.3 213.3,476.0 213.9,476.7 214.4,477.4 214.8,478.0 215.1,478.7 215.5,480.0 215.9,480.4 216.3,481.1 216.6,482.0 217.0,482.8 217.4,483.2 217.7,483.9 218.1,484.8 218.5,485.4 218.8,486.3 219.2,487.3 219.6,487.8 220.0,488.5 220.3,489.3 220.7,489.8 221.1,490.6 221.6,491.8 222.0,492.0 222.5,492.6 222.9,493.7 223.4,494.3 223.8,494.7 224.3,495.2 224.7,495.9 225.2,497.0 225.6,497.6 226.1,498.2 226.5,498.9 227.0,499.5 227.4,500.1 227.9,500.7 228.3,501.4 228.8,501.9 229.2,502.7 229.7,503.0 230.2,503.6 230.8,504.7 231.3,505.1 231.8,506.2 232.3,506.8 232.9,507.7 233.4,508.4 233.9,508.9 234.4,509.2 235.0,509.8 235.5,510.9 236.0,511.4 236.5,511.5 237.1,512.5 237.6,513.3 238.0,514.1 238.4,515.3 238.8,515.7 239.2,516.1 239.6,517.4 240.0,517.8 240.5,518.4 240.9,519.3 241.3,520.1 241.7,520.8 242.1,521.4 242.5,521.9 242.9,522.6 243.0,523.6 243.1,524.7 243.2,525.0 243.3,525.8 243.5,527.1 243.6,527.7 243.7,528.5 243.8,529.4 243.9,530.0 244.7,530.6 245.5,530.7 246.3,530.7 247.2,530.5 248.0,531.1 248.8,531.6 249.6,531.7 250.4,531.4 251.2,531.5 252.1,532.1 252.9,532.2 253.7,532.3 254.5,532.1 255.3,532.4 256.1,531.9 256.9,532.3 257.7,532.4 258.5,532.4 259.3,532.3 260.1,532.3 260.9,532.6 261.7,532.3 262.6,532.4 263.4,532.4 264.2,532.8 265.0,532.5 265.8,532.6 266.6,532.5 267.4,532.4 268.2,532.9 269.0,533.0 269.8,532.5 270.6,532.5 271.4,532.9 272.2,533.2 273.0,533.0 273.8,532.5 274.6,533.3 275.4,533.1 276.2,532.6 277.0,533.0 277.9,533.1 278.7,533.1 279.5,533.2 280.3,533.0 281.1,533.2 281.9,533.1 282.7,533.1 283.5,533.2 284.3,533.2 285.1,533.4" fill="none" stroke="#336e4c" stroke-width="1.00" stroke-linejoin="round" stroke-linecap="round" opacity="1.00" />
<polyline points="57.6,534.6 58.4,534.8 59.3,534.9 60.1,534.4 60.9,534.5 61.7,534.5 62.6,534.9 63.4,534.9 64.2,534.8 65.0,534.8 65.9,534.5 66.7,534.4 67.5,534.7 68.3,534.8 69.2,534.6 70.0,534.2 70.8,534.6 71.7,534.5 72.5,534.3 73.3,534.6 74.2,534.6 75.0,534.5 75.8,534.3 76.7,534.1 77.5,534.3 78.3,533.8 79.2,534.2 80.0,534.2 80.8,534.0 81.6,534.1 82.4,533.7 83.2,533.9 84.0,533.8 84.8,533.6 85.6,533.7 86.4,533.4 87.2,533.4 88.0,533.1 88.8,533.3 89.3,532.8 89.7,532.1 90.2,531.4 90.7,530.8 91.1,530.2 91.6,529.1 92.0,528.6 92.5,527.9 93.0,527.3 93.4,526.8 93.9,526.3 94.3,525.3 94.8,524.6 95.3,523.7 95.7,523.7 96.2,522.7 97.0,522.8 97.8,522.3 98.6,521.9 99.4,521.4 100.2,522.0 101.1,522.5 101.9,523.0 102.8,523.5 103.6,523.6 104.2,524.3 104.8,524.9 105.4,525.8 106.0,526.3 106.5,526.8 107.1,527.3 107.7,527.7 108.3,528.5 108.9,528.6 109.8,528.9 110.6,529.0 111.5,529.3 112.4,529.4 113.2,529.5 114.1,529.6 114.9,529.4 115.8,529.5 116.7,529.5 117.5,529.8 118.4,529.6 119.2,529.9 120.0,530.4 120.8,530.2 121.7,529.8 122.5,529.8 123.3,530.0 124.1,529.9 124.9,530.0 125.7,530.5 126.6,529.9 127.4,530.2 128.2,530.1 129.0,530.5 129.8,530.3 130.6,530.2 131.4,530.6 132.2,530.5 133.1,530.3 133.9,530.4 134.7,530.3 135.5,530.6 136.3,530.8 137.1,530.8 137.9,530.7 138.7,531.0 139.6,531.0 140.4,531.1 141.2,531.3 142.0,531.2 142.8,531.2 143.6,531.2 144.4,531.5 145.2,531.2 146.0,531.6 146.9,531.7 147.7,531.0 148.5,531.4 149.3,531.8 150.1,531.6 150.9,531.9 151.7,531.8 152.6,531.6 153.4,531.5 154.2,531.5 155.0,531.4 155.9,531.3 156.7,531.2 157.5,531.2 158.3,531.1 159.1,530.7 160.0,531.1 160.8,530.4 161.6,530.7 162.4,530.3 163.3,530.5 164.1,530.4 164.9,530.4 165.6,529.9 166.4,529.5 167.1,529.3 167.8,528.3 168.5,527.4 169.3,527.8 170.0,527.2 170.6,526.3 171.1,525.7 171.7,524.9 172.3,524.4 172.8,523.6 173.4,523.4 174.0,522.7 174.5,522.0 175.1,521.2 175.7,521.0 176.2,520.5 176.8,519.4 177.4,518.7 177.9,518.1 178.5,517.3 179.1,516.9 179.7,516.3 180.3,516.0 180.9,515.4 181.5,514.9 182.1,514.1 182.7,513.2 183.3,513.4 183.9,512.9 184.5,511.9 185.1,511.4 185.7,511.4 186.3,510.6 186.9,509.7 187.5,509.0 188.1,508.7 188.7,508.2 189.3,507.7 189.9,507.1 190.5,506.9 191.1,505.9 191.9,505.3 192.6,505.1 193.4,504.7 194.1,504.3 194.9,504.0 195.6,503.7 196.4,503.2 197.2,503.0 197.9,502.5 198.7,501.6 199.4,501.7 200.2,501.4 200.9,501.1 201.7,500.5 202.1,500.2 202.5,498.8 202.8,498.3 203.2,497.6 203.6,497.3 204.0,496.4 204.4,495.6 204.8,495.1 205.1,493.9 205.5,493.3 205.9,492.7 206.3,491.9 206.7,490.9 207.0,490.5 207.4,489.9 207.8,489.3 208.2,488.5 208.6,487.4 209.0,486.9 209.3,486.1 209.7,485.6 210.1,484.6 210.6,484.2 211.2,483.4 211.7,482.8 212.2,481.5 212.8,481.4 213.3,480.9 213.8,480.2 214.3,479.7 214.9,478.7 215.4,478.3 215.9,477.8 216.5,477.2 217.0,476.2 217.5,475.7 218.1,474.9 218.6,474.4 219.1,473.4 219.6,472.7 220.1,472.2 220.6,471.3 221.1,471.0 221.6,470.1 222.1,469.2 222.6,468.8 223.0,468.2 223.5,467.5 224.0,466.5 224.5,465.8 225.0,465.3 225.5,464.6 226.0,463.8 226.5,462.9 227.0,462.4 227.6,462.3 228.3,461.5 228.9,460.8 229.5,460.0 230.2,459.6 230.8,459.4 231.2,460.3 231.5,461.3 231.9,461.4 232.3,462.3 232.7,463.0 233.0,463.7 233.4,464.5 233.4,465.8 233.5,466.2 233.5,467.1 233.5,468.5 233.6,469.1 233.6,469.5 233.6,470.1 233.7,471.2 233.7,472.0 233.7,472.7 233.8,474.0 233.8,474.4 233.8,475.2 233.9,476.1 233.9,477.1 233.9,477.8 234.0,478.5 234.0,479.2 234.0,480.1 234.1,480.5 234.1,481.8 234.1,482.5 234.2,483.2 234.2,484.2 234.2,485.0 234.3,485.5 234.3,486.5 234.3,487.2 234.4,488.3 234.4,489.0 234.5,489.7 234.5,490.6 234.6,491.3 234.7,492.1 234.7,493.0 234.8,493.8 234.8,495.0 234.9,495.5 235.0,496.9 235.0,497.4 235.1,497.9 235.2,498.7 235.2,499.7 235.3,500.3 235.3,500.9 235.4,501.9 235.5,503.1 235.5,503.6 235.6,504.3 235.7,505.4 235.7,506.3 235.8,507.2 235.8,507.9 235.9,508.6 236.0,509.1 236.0,510.3 236.1,511.0 236.2,512.0 236.2,512.7 236.3,513.4 236.3,514.4 236.4,515.2 236.5,515.8 236.5,516.4 236.6,517.5 236.6,516.4 236.6,515.7 236.7,515.2 236.7,514.3 236.7,513.4 236.7,512.9 236.7,511.7 236.8,511.0 236.8,510.4 236.8,509.5 236.8,508.7 236.8,507.9 236.9,507.1 236.9,506.2 236.9,505.6 236.9,504.8 236.9,503.8 237.0,502.8 237.0,502.0 237.0,501.9 237.0,501.1 237.0,499.6 237.1,498.8 237.1,498.3 237.1,497.6 237.1,496.8 237.1,495.8 237.2,494.9 237.2,494.0 237.2,493.4 237.2,492.8 237.2,491.7 237.3,490.7 237.3,490.1 237.3,489.5 237.3,488.7 237.3,487.7 237.4,486.9 237.4,486.5 237.4,485.2 237.4,484.7 237.4,483.7 237.5,482.9 237.5,482.0 237.5,481.4 237.5,480.6 237.5,479.4 237.6,479.1 237.6,478.1 237.6,477.3 237.7,477.9 237.8,479.2 237.9,480.2 238.0,480.4 238.1,481.4 238.1,482.3 238.2,483.3 238.3,484.1 238.4,484.7 238.5,485.6 238.6,486.3 238.7,487.2 238.8,488.1 238.9,489.1 239.0,489.7 239.1,490.6 239.2,490.9 239.2,492.0 239.3,493.0 239.4,494.2 239.5,494.9 239.6,495.6 239.7,496.4 240.2,497.1 240.6,497.9 241.1,498.2 241.6,499.4 242.0,499.9 242.5,500.4 243.0,501.1 243.4,502.1 243.9,502.8 244.6,503.6 245.2,503.5 245.9,504.1 246.6,505.0 247.2,505.0 247.9,506.0 248.5,506.5 249.2,507.1 249.9,507.6 250.5,508.0 251.2,508.6 251.8,509.2 252.5,509.7 253.2,510.0 253.8,510.5 254.5,511.3 255.3,511.5 256.1,511.6 256.9,511.7 257.7,511.6 258.5,512.3 259.3,512.0 260.1,512.4 260.9,512.9 261.6,512.6 262.4,512.8 263.2,513.6 264.0,513.3 264.8,513.7 265.6,514.5 266.4,514.2 267.2,514.0 267.8,514.7 268.5,515.4 269.1,515.9 269.8,516.4 270.4,516.6 271.1,517.3 271.7,517.9 272.4,518.0 273.0,518.8 273.7,519.2 274.3,519.7 275.0,520.3 275.6,520.7 276.5,520.8 277.3,520.8 278.2,521.0 279.1,521.2 279.9,521.1 280.8,520.5 281.6,521.4 282.5,521.1 283.4,521.2 284.2,521.0 285.1,521.1" fill="none" stroke="#6744b4" stroke-width="1.00" stroke-linejoin="round" stroke-linecap="round" opacity="1.00" />
</g>
<g clip-path="url(#cr5)">
<polyline points="328.2,532.3 328.7,532.5 329.3,531.5 329.8,532.4 330.3,532.9 330.9,532.1 331.4,533.1 331.9,533.0 332.4,532.0 333.0,532.7 333.5,532.7 333.9,533.0 334.4,532.1 334.9,530.3 335.3,531.7 335.8,531.6 336.2,531.1 336.6,531.1 337.1,529.7 337.6,531.2 338.0,530.2 338.4,529.0 338.9,529.2 339.4,529.3 339.8,529.5 340.3,528.6 340.9,530.3 341.4,528.5 341.9,528.4 342.4,528.1 343.0,528.6 343.5,529.4 344.0,528.0 344.5,528.1 345.1,528.6 345.6,527.2 346.1,528.6 346.6,528.6 347.1,529.0 347.6,529.2 348.1,529.2 348.6,528.9 349.1,528.3 349.5,529.1 350.0,528.3 350.5,529.1 351.0,529.1 351.5,529.6 352.0,529.8 352.5,529.3 353.0,529.7 353.5,529.7 354.0,528.5 354.5,529.5 355.0,528.5 355.5,530.3 356.0,529.3 356.5,529.5 357.0,530.2 357.5,530.4 358.0,531.5 358.5,530.1 359.0,532.0 359.5,531.8 360.0,530.9 360.5,531.5 361.0,531.8 361.5,531.6 362.0,530.7 362.5,531.1 363.0,531.6 363.5,531.9 364.0,531.8 364.5,531.3 365.0,531.4 365.6,531.2 366.1,531.3 366.6,530.5 367.1,529.7 367.6,531.3 368.1,530.1 368.6,530.8 369.1,530.5 369.6,531.7 370.1,530.5 370.7,530.6 371.2,530.6 371.7,532.1 372.2,531.4 372.7,530.8 373.2,531.2 373.7,531.4 374.2,532.1 374.7,530.1 375.2,530.5 375.8,530.4 376.3,530.4 376.8,531.1 377.3,531.3 377.8,531.6 378.3,530.8 378.8,532.1 379.3,531.5 379.8,530.8 380.3,531.7 380.8,531.9 381.2,531.1 381.7,530.6 382.2,531.9 382.7,532.4 383.2,530.8 383.7,532.1 384.2,532.0 384.7,532.3 385.2,530.6 385.7,531.3 386.2,532.2 386.7,531.2 387.2,531.5 387.7,532.3 388.2,532.0 388.8,531.3 389.3,531.8 389.8,532.1 390.3,531.2 390.8,531.7 391.3,532.5 391.8,530.8 392.3,531.8 392.8,531.2 393.3,532.0 393.8,531.8 394.3,531.2 394.8,532.2 395.3,530.6 395.8,532.2 396.3,530.6 396.8,530.7 397.4,530.6 397.9,531.4 398.4,530.8 398.9,530.9 399.4,531.2 399.9,531.1 400.4,531.7 400.9,531.3 401.4,531.3 401.9,531.8 402.4,532.2 402.9,531.2 403.4,531.1 403.9,530.7 404.4,531.9 404.9,532.4 405.5,532.0 406.0,531.9 406.5,531.1 407.0,531.6 407.5,531.6 408.0,531.9 408.5,531.4 409.0,529.3 409.5,530.5 410.0,530.9 410.5,530.4 411.0,531.9 411.5,530.5 412.0,531.1 412.5,532.3 413.0,531.0 413.5,529.2 414.0,530.7 414.5,530.7 415.0,530.5 415.5,530.8 416.0,530.9 416.5,529.3 417.0,531.0 417.5,530.8 418.0,529.7 418.5,531.5 419.0,531.9 419.5,530.1 420.0,530.6 420.5,529.9 421.0,530.4 421.5,530.9 422.0,531.2 422.5,531.4 423.0,531.9 423.5,530.7 424.0,530.0 424.5,529.1 425.0,530.7 425.5,531.3 426.0,530.6 426.5,529.9 427.0,531.6 427.5,531.5 428.0,530.6 428.5,530.9 429.0,530.3 429.5,529.6 430.0,530.3 430.5,529.8 431.0,530.8 431.5,529.2 432.0,531.0 432.5,530.1 433.0,530.7 433.5,530.4 434.0,531.3 434.5,529.1 435.0,530.9 435.5,530.5 436.0,530.2 436.5,530.5 437.0,529.7 437.5,529.6 438.0,529.4 438.5,531.5 439.0,531.3 439.5,530.3 440.0,530.1 440.5,528.8 441.0,530.8 441.5,529.8 442.0,530.5 442.5,529.8 442.9,529.6 443.4,529.1 443.9,529.9 444.4,528.8 444.9,528.2 445.4,529.9 445.9,528.9 446.4,528.5 446.9,528.9 447.4,529.1 447.9,529.5 448.3,528.7 448.8,528.3 449.3,528.4 449.8,529.4 450.3,528.6 450.8,527.1 451.3,527.7 451.8,528.1 452.3,526.2 452.8,528.5 453.2,526.6 453.7,526.0 454.2,527.8 454.7,527.2 455.2,526.8 455.7,526.3 456.2,527.6 456.7,527.5 457.2,528.1 457.7,528.7 458.2,526.4 458.6,526.3 459.1,526.2 459.6,526.3 460.1,526.4 460.6,525.5 461.1,525.7 461.6,526.0 462.1,526.1 462.6,525.6 463.1,524.9 463.6,525.2 464.1,525.2 464.6,524.6 465.0,524.3 465.5,523.3 466.0,524.9 466.5,524.5 467.0,524.5 467.5,522.1 468.0,523.9 468.5,523.5 469.0,522.9 469.5,523.1 470.0,523.0 470.5,522.8 471.0,523.0 471.5,522.5 472.0,524.1 472.4,524.2 472.9,522.2 473.4,521.6 473.9,521.9 474.4,521.6 474.9,521.5 475.4,521.9 475.9,521.0" fill="none" stroke="#d0222c" stroke-width="1.40" stroke-linejoin="round" stroke-linecap="round" opacity="1.00" />
<polyline points="328.2,533.1 328.7,532.7 329.3,532.8 329.8,531.3 330.3,531.6 330.9,531.6 331.4,530.9 331.9,531.9 332.4,532.8 333.0,532.4 333.5,532.1 333.9,531.0 334.4,533.1 334.9,530.6 335.3,532.2 335.8,530.6 336.2,531.0 336.6,530.8 337.1,529.9 337.6,529.8 338.0,528.9 338.4,529.1 338.9,529.5 339.4,529.3 339.8,529.6 340.3,529.9 340.9,527.5 341.4,528.7 341.9,528.6 342.4,530.2 343.0,528.3 343.5,528.7 344.0,529.0 344.5,528.4 345.1,527.7 345.6,528.1 346.1,528.4 346.6,528.2 347.1,527.6 347.6,529.2 348.1,528.3 348.6,529.3 349.1,528.6 349.5,530.6 350.0,529.5 350.5,528.8 351.0,529.8 351.5,529.8 352.0,528.4 352.5,529.1 353.0,530.4 353.5,528.4 354.0,531.0 354.5,530.8 355.0,530.5 355.5,530.9 356.0,530.0 356.5,529.8 357.0,530.5 357.5,531.3 358.0,530.6 358.5,529.7 359.0,530.3 359.5,531.2 360.0,529.3 360.5,532.2 361.0,530.7 361.5,531.6 362.0,532.3 362.5,531.3 363.0,530.6 363.5,531.2 364.0,531.0 364.5,531.1 365.0,531.9 365.6,531.4 366.1,531.1 366.6,531.6 367.1,531.4 367.6,530.6 368.1,531.7 368.6,529.6 369.1,530.2 369.6,530.9 370.1,530.1 370.7,530.4 371.2,530.6 371.7,530.8 372.2,531.0 372.7,530.4 373.2,530.2 373.7,530.6 374.2,532.0 374.7,530.1 375.2,530.8 375.8,529.0 376.3,530.5 376.8,530.2 377.3,529.9 377.8,531.3 378.3,530.6 378.9,530.4 379.4,530.1 379.9,530.1 380.5,530.1 381.0,531.2 381.5,531.3 382.1,529.4 382.6,530.8 383.1,531.4 383.7,530.5 384.2,530.0 384.7,530.6 385.2,531.2 385.7,530.0 386.2,529.9 386.7,531.3 387.2,530.4 387.7,529.3 388.2,529.7 388.8,529.7 389.3,531.1 389.8,531.1 390.3,530.3 390.8,531.0 391.3,530.1 391.8,530.6 392.3,531.5 392.8,529.5 393.3,529.7 393.8,531.4 394.3,530.7 394.8,531.4 395.3,529.8 395.8,529.1 396.3,531.2 396.8,530.0 397.4,529.4 397.9,529.5 398.4,531.3 398.9,530.9 399.4,528.3 399.9,530.4 400.4,531.0 400.9,530.6 401.4,529.9 401.9,529.5 402.4,530.9 402.9,531.0 403.4,529.3 403.9,529.3 404.4,530.7 404.9,529.9 405.5,530.8 406.0,530.8 406.5,529.9 407.0,529.3 407.5,529.9 408.0,528.8 408.5,529.4 409.0,529.5 409.5,529.7 410.0,530.9 410.5,529.4 411.0,529.7 411.5,530.0 412.0,530.1 412.5,529.9 413.0,528.8 413.5,530.8 414.0,529.6 414.5,528.8 415.0,529.1 415.5,529.3 416.0,530.0 416.5,528.9 417.0,529.8 417.5,529.8 418.0,531.1 418.5,529.7 419.0,528.3 419.5,529.8 420.0,528.4 420.5,529.3 421.0,529.3 421.5,530.4 422.0,528.8 422.5,528.1 423.0,529.9 423.5,528.8 424.0,530.3 424.5,529.5 425.0,529.7 425.5,529.8 426.0,529.6 426.5,529.3 427.0,529.3 427.5,530.7 428.0,530.2 428.5,528.9 429.0,530.8 429.5,529.3 430.0,529.4 430.5,529.9 431.0,528.6 431.5,529.3 432.0,528.8 432.5,529.5 433.0,529.7 433.5,528.6 434.0,528.6 434.5,530.1 435.0,528.6 435.5,530.2 436.0,528.9 436.5,529.3 437.0,529.5 437.5,529.0 438.0,529.4 438.5,527.9 439.0,528.7 439.5,527.3 440.0,529.3 440.5,528.2 441.0,529.0 441.5,529.3 442.0,529.2 442.5,528.7 442.9,528.6 443.4,529.3 443.9,528.7 444.4,528.0 444.9,528.7 445.4,527.6 445.9,528.1 446.4,527.4 446.9,527.5 447.4,527.6 447.9,527.5 448.3,526.1 448.8,526.6 449.3,526.9 449.8,527.3 450.3,527.2 450.8,525.8 451.3,526.1 451.8,526.6 452.3,525.9 452.8,526.3 453.2,526.4 453.7,526.5 454.2,528.3 454.7,526.0 455.2,527.2 455.7,525.0 456.2,526.6 456.7,525.0 457.2,525.3 457.7,525.3 458.2,526.1 458.6,525.3 459.1,525.6 459.6,524.2 460.1,525.6 460.6,526.0 461.1,524.2 461.6,525.0 462.0,525.4 462.5,523.7 462.9,524.6 463.4,524.0 463.9,523.1 464.3,523.0 464.8,523.3 465.2,522.8 465.7,523.5 466.2,522.4 466.6,522.0 467.1,521.2 467.6,521.9 468.0,521.0 468.5,519.9 468.9,522.8 469.4,521.7 469.9,521.3 470.3,519.6 470.8,520.4 471.2,520.1 471.7,520.2 472.1,518.7 472.5,518.9 472.8,519.2 473.2,518.0 473.6,518.0 474.0,516.7 474.4,517.1 474.7,516.6 475.1,517.9 475.5,516.6 475.9,516.6 476.3,516.1 476.6,516.0 477.0,515.6 477.4,514.0 477.8,514.3 478.2,514.9 478.5,513.8 478.9,513.3 479.3,511.9 479.7,512.2 480.1,511.7 480.5,513.1 480.8,510.1 481.2,511.8 481.6,510.4 482.0,509.7 482.4,510.9 482.7,510.7 483.1,509.7 483.5,508.9 483.9,509.1 484.3,508.6 484.6,508.1 485.0,507.0 485.4,506.6" fill="none" stroke="#6744b4" stroke-width="1.50" stroke-linejoin="round" stroke-linecap="round" opacity="1.00" />
<polyline points="328.2,530.7 328.7,531.6 329.3,531.9 329.8,532.3 330.3,531.2 330.9,533.0 331.4,532.3 331.9,531.8 332.4,531.0 333.0,531.7 333.5,532.9 333.9,532.5 334.4,532.6 334.9,531.2 335.3,532.0 335.8,531.0 336.2,532.1 336.6,530.8 337.1,529.7 337.6,530.0 338.0,530.2 338.4,530.0 338.9,530.0 339.4,529.0 339.8,529.3 340.3,530.0 340.9,529.8 341.4,529.2 341.9,529.3 342.4,527.4 343.0,528.8 343.5,528.6 344.0,528.2 344.5,528.5 345.1,527.8 345.6,528.0 346.1,528.4 346.6,528.0 347.1,528.5 347.6,529.2 348.1,527.5 348.6,528.3 349.1,527.4 349.5,529.7 350.0,529.9 350.5,529.8 351.0,529.9 351.5,529.2 352.0,530.9 352.5,530.5 353.0,527.7 353.5,530.2 354.0,530.7 354.5,529.1 355.0,530.8 355.5,529.6 356.0,529.5 356.5,529.8 357.0,531.4 357.5,530.3 358.0,531.1 358.5,530.4 359.0,532.2 359.5,529.9 360.0,530.5 360.5,531.3 361.0,531.3 361.5,529.8 362.0,532.2 362.5,531.1 363.0,529.9 363.5,531.3 364.0,531.2 364.5,529.1 365.0,532.1 365.6,531.4 366.1,530.5 366.6,530.6 367.1,531.2 367.6,530.9 368.1,530.9 368.6,530.1 369.1,531.7 369.6,531.0 370.1,529.7 370.7,530.0 371.2,531.6 371.7,530.5 372.2,531.5 372.7,530.4 373.2,531.5 373.7,531.3 374.2,530.4 374.7,530.1 375.2,531.1 375.8,530.9 376.3,529.8 376.8,529.0 377.3,531.9 377.8,531.0 378.2,530.3 378.7,530.5 379.1,529.4 379.5,530.9 379.9,528.2 380.4,529.9 380.8,528.1 381.2,527.2 381.6,528.1 382.1,527.5 382.5,528.3 382.9,528.0 383.3,525.2 383.8,527.4 384.2,527.0 384.7,528.6 385.2,526.3 385.7,524.2 386.2,527.1 386.8,526.7 387.3,526.8 387.8,526.4 388.3,526.0 388.8,526.7 389.3,526.9 389.8,525.9 390.3,528.4 390.8,526.2 391.3,526.3 391.9,525.2 392.4,528.1 392.9,526.1 393.4,527.6 393.9,527.4 394.4,525.8 394.9,526.6 395.4,525.5 395.9,527.9 396.4,526.5 397.0,526.7 397.5,525.8 398.0,527.3 398.5,527.4 399.0,526.1 399.5,527.4 400.0,525.9 400.5,527.7 401.0,527.2 401.5,527.6 402.0,526.9 402.5,527.5 403.0,526.5 403.5,527.9 404.0,526.3 404.5,527.4 405.0,526.7 405.5,526.7 406.0,526.8 406.5,527.0 407.0,528.2 407.5,526.8 408.0,526.9 408.5,526.6 409.0,528.1 409.6,527.4 410.1,526.1 410.6,527.3 411.1,526.5 411.6,527.3 412.1,526.7 412.6,527.7 413.1,527.2 413.6,527.1 414.1,526.7 414.6,528.6 415.1,526.3 415.6,525.7 416.1,525.9 416.6,527.4 417.1,527.9 417.6,526.9 418.1,526.8 418.6,527.6 419.1,526.0 419.6,527.6 420.1,527.1 420.6,527.7 421.1,527.1 421.6,527.1 422.1,526.1 422.7,527.4 423.2,526.4 423.7,526.0 424.2,527.1 424.7,527.3 425.2,527.2 425.7,526.6 426.2,526.3 426.7,527.4 427.2,527.1 427.8,526.0 428.3,525.5 428.8,527.4 429.3,528.0 429.8,526.2 430.3,525.5 430.8,525.3 431.3,525.7 431.8,526.9 432.3,525.5 432.9,525.2 433.4,525.4 433.9,525.0 434.4,525.1 434.9,526.2 435.4,526.2 435.9,526.7 436.4,526.3 436.9,524.1 437.4,527.3 438.0,526.1 438.5,526.2 439.0,526.0 439.5,526.4 440.0,525.1 440.5,525.4 441.0,526.3 441.5,527.1 442.0,526.3 442.5,524.1 443.0,526.9 443.5,525.5 444.0,525.6 444.5,525.8 445.0,526.8 445.6,525.1 446.1,525.5 446.6,527.2 447.1,526.6 447.6,526.0 448.1,525.4 448.6,525.3 449.1,525.7 449.6,525.0 450.1,524.3 450.6,524.7 451.1,524.9 451.6,525.3 452.0,524.8 452.5,524.4 453.0,524.0 453.5,525.4 453.9,524.9 454.4,524.3 454.9,524.0 455.4,523.7 455.9,522.9 456.3,522.7 456.8,522.9 457.3,522.8 457.8,523.1 458.2,521.7 458.7,523.2 459.2,521.2 459.7,522.1 460.1,521.9 460.6,521.9 461.1,521.4 461.5,523.1 462.0,521.3 462.4,519.9 462.9,520.2 463.3,520.3 463.8,518.5 464.2,519.9 464.6,519.4 465.1,519.3 465.5,519.4 466.0,518.4 466.4,515.8 466.8,517.3 467.3,517.2 467.7,518.9 468.2,516.5 468.6,517.6 469.1,516.8 469.5,515.9 469.9,516.4 470.4,516.0 470.8,517.1 471.3,516.3 471.7,515.7 472.1,514.8 472.5,515.1 473.0,515.1 473.4,515.0 473.8,514.5 474.2,513.1 474.7,513.3 475.1,513.1 475.5,512.8 475.9,511.6 476.4,512.0 476.8,511.0 477.2,512.4 477.6,512.1 478.1,511.2 478.5,511.1 478.9,511.3 479.3,509.3 479.8,510.4 480.2,509.0 480.6,509.9 481.0,509.4 481.5,508.7 481.9,508.9 482.3,508.2 482.7,508.0 483.1,508.1 483.5,506.7 483.9,506.1 484.2,505.6 484.6,504.7 485.0,506.8 485.4,505.4 485.8,504.4 486.2,504.6 486.6,504.8 487.0,503.7 487.4,505.7 487.7,504.6 488.1,503.8 488.5,503.0 488.9,502.7 489.3,501.3 489.7,503.1 490.1,502.0 490.5,501.6 490.9,501.2 491.2,502.1 491.6,500.7 492.0,500.6 492.4,499.1 492.8,499.5 493.1,499.0 493.4,497.4 493.7,498.2 494.0,497.5 494.4,498.7 494.7,497.4 495.0,496.1 495.3,495.5 495.6,497.3 495.9,495.9 496.2,494.0 496.5,495.3 496.9,493.6 497.2,493.2 497.5,493.0 497.8,492.1 498.1,492.4 498.4,492.5 498.7,491.4 499.0,491.3 499.3,491.1 499.7,489.2 500.0,490.0 500.3,489.2 500.6,489.7 500.9,490.0 501.2,488.1 501.5,488.8 501.8,487.1 502.2,486.2 502.5,486.3 502.8,486.4 503.1,486.2 503.4,485.6 503.6,485.0 503.9,485.6 504.1,484.6 504.4,483.7 504.6,483.8 504.9,482.7 505.1,484.4 505.4,483.5 505.6,481.2 505.9,480.7 506.1,481.6 506.4,480.4 506.6,479.8 506.9,479.1 507.1,480.5 507.4,477.6 507.6,478.8 507.8,478.9 508.1,477.4 508.3,476.1 508.6,476.6 508.8,477.1 509.1,476.4 509.3,475.7 509.6,475.4 509.8,473.5 510.1,473.9 510.3,472.7 510.6,474.2 510.8,473.1 511.1,470.2 511.3,472.5 511.6,471.5 511.8,471.7 512.1,469.3 512.4,470.5 512.7,469.2 512.9,469.9 513.2,469.4 513.5,468.5 513.8,468.1 514.1,467.6 514.4,466.6 514.6,468.3 514.9,467.5 515.2,465.6 515.5,465.4 515.8,465.0 516.1,466.2 516.4,464.3 516.6,463.1 516.9,463.4 517.2,461.4 517.5,461.4 517.8,462.2 518.1,460.8 518.3,460.9 518.6,460.6 518.9,460.3 519.2,459.5 519.2,458.8 519.7,460.3 520.3,459.3 520.8,462.6 521.3,461.4 521.9,462.9 522.4,464.1 523.2,463.7 524.0,462.9 524.8,464.5 525.6,463.5 525.9,463.9 526.2,464.4 526.5,464.7 526.8,467.4 527.1,466.7 527.4,468.1 527.7,467.6" fill="none" stroke="#336e4c" stroke-width="1.50" stroke-linejoin="round" stroke-linecap="round" opacity="1.00" />
</g>
<rect x="57.60" y="17.40" width="227.40" height="74.60" fill="none" stroke="#a8a8a8" stroke-width="1.2"/>
<line x1="56.00" y1="88.50" x2="57.60" y2="88.50" stroke="#909090" stroke-width="0.9"/>
<line x1="56.00" y1="80.75" x2="57.60" y2="80.75" stroke="#909090" stroke-width="0.9"/>
<line x1="56.00" y1="73.00" x2="57.60" y2="73.00" stroke="#909090" stroke-width="0.9"/>
<line x1="56.00" y1="65.25" x2="57.60" y2="65.25" stroke="#909090" stroke-width="0.9"/>
<line x1="56.00" y1="57.50" x2="57.60" y2="57.50" stroke="#909090" stroke-width="0.9"/>
<line x1="56.00" y1="49.75" x2="57.60" y2="49.75" stroke="#909090" stroke-width="0.9"/>
<line x1="56.00" y1="42.00" x2="57.60" y2="42.00" stroke="#909090" stroke-width="0.9"/>
<line x1="56.00" y1="34.25" x2="57.60" y2="34.25" stroke="#909090" stroke-width="0.9"/>
<line x1="56.00" y1="26.50" x2="57.60" y2="26.50" stroke="#909090" stroke-width="0.9"/>
<line x1="56.00" y1="18.75" x2="57.60" y2="18.75" stroke="#909090" stroke-width="0.9"/>
<line x1="54.80" y1="88.50" x2="57.60" y2="88.50" stroke="#909090" stroke-width="1"/>
<text x="54.20" y="92.90" font-size="11.00" text-anchor="end" fill="#000" >0</text>
<line x1="54.80" y1="57.50" x2="57.60" y2="57.50" stroke="#909090" stroke-width="1"/>
<text x="54.20" y="61.90" font-size="11.00" text-anchor="end" fill="#000" >2</text>
<line x1="54.80" y1="26.50" x2="57.60" y2="26.50" stroke="#909090" stroke-width="1"/>
<text x="54.20" y="30.90" font-size="11.00" text-anchor="end" fill="#000" >4</text>
<line x1="57.30" y1="92.00" x2="57.30" y2="93.60" stroke="#909090" stroke-width="0.9"/>
<line x1="67.74" y1="92.00" x2="67.74" y2="93.60" stroke="#909090" stroke-width="0.9"/>
<line x1="78.18" y1="92.00" x2="78.18" y2="93.60" stroke="#909090" stroke-width="0.9"/>
<line x1="88.62" y1="92.00" x2="88.62" y2="93.60" stroke="#909090" stroke-width="0.9"/>
<line x1="99.06" y1="92.00" x2="99.06" y2="93.60" stroke="#909090" stroke-width="0.9"/>
<line x1="109.50" y1="92.00" x2="109.50" y2="93.60" stroke="#909090" stroke-width="0.9"/>
<line x1="119.94" y1="92.00" x2="119.94" y2="93.60" stroke="#909090" stroke-width="0.9"/>
<line x1="130.38" y1="92.00" x2="130.38" y2="93.60" stroke="#909090" stroke-width="0.9"/>
<line x1="140.82" y1="92.00" x2="140.82" y2="93.60" stroke="#909090" stroke-width="0.9"/>
<line x1="151.26" y1="92.00" x2="151.26" y2="93.60" stroke="#909090" stroke-width="0.9"/>
<line x1="161.70" y1="92.00" x2="161.70" y2="93.60" stroke="#909090" stroke-width="0.9"/>
<line x1="172.14" y1="92.00" x2="172.14" y2="93.60" stroke="#909090" stroke-width="0.9"/>
<line x1="182.58" y1="92.00" x2="182.58" y2="93.60" stroke="#909090" stroke-width="0.9"/>
<line x1="193.02" y1="92.00" x2="193.02" y2="93.60" stroke="#909090" stroke-width="0.9"/>
<line x1="203.46" y1="92.00" x2="203.46" y2="93.60" stroke="#909090" stroke-width="0.9"/>
<line x1="213.90" y1="92.00" x2="213.90" y2="93.60" stroke="#909090" stroke-width="0.9"/>
<line x1="224.34" y1="92.00" x2="224.34" y2="93.60" stroke="#909090" stroke-width="0.9"/>
<line x1="234.78" y1="92.00" x2="234.78" y2="93.60" stroke="#909090" stroke-width="0.9"/>
<line x1="245.22" y1="92.00" x2="245.22" y2="93.60" stroke="#909090" stroke-width="0.9"/>
<line x1="255.66" y1="92.00" x2="255.66" y2="93.60" stroke="#909090" stroke-width="0.9"/>
<line x1="266.10" y1="92.00" x2="266.10" y2="93.60" stroke="#909090" stroke-width="0.9"/>
<line x1="276.54" y1="92.00" x2="276.54" y2="93.60" stroke="#909090" stroke-width="0.9"/>
<line x1="109.50" y1="92.00" x2="109.50" y2="94.80" stroke="#909090" stroke-width="1"/>
<text x="109.50" y="103.10" font-size="11.00" text-anchor="middle" fill="#000" >1.01</text>
<line x1="161.70" y1="92.00" x2="161.70" y2="94.80" stroke="#909090" stroke-width="1"/>
<text x="161.70" y="103.10" font-size="11.00" text-anchor="middle" fill="#000" >1.02</text>
<line x1="213.90" y1="92.00" x2="213.90" y2="94.80" stroke="#909090" stroke-width="1"/>
<text x="213.90" y="103.10" font-size="11.00" text-anchor="middle" fill="#000" >1.03</text>
<line x1="266.10" y1="92.00" x2="266.10" y2="94.80" stroke="#909090" stroke-width="1"/>
<text x="266.10" y="103.10" font-size="11.00" text-anchor="middle" fill="#000" >1.04</text>
<rect x="328.70" y="17.40" width="227.50" height="74.60" fill="none" stroke="#a8a8a8" stroke-width="1.2"/>
<line x1="327.10" y1="91.30" x2="328.70" y2="91.30" stroke="#909090" stroke-width="0.9"/>
<line x1="327.10" y1="85.20" x2="328.70" y2="85.20" stroke="#909090" stroke-width="0.9"/>
<line x1="327.10" y1="79.10" x2="328.70" y2="79.10" stroke="#909090" stroke-width="0.9"/>
<line x1="327.10" y1="73.00" x2="328.70" y2="73.00" stroke="#909090" stroke-width="0.9"/>
<line x1="327.10" y1="66.90" x2="328.70" y2="66.90" stroke="#909090" stroke-width="0.9"/>
<line x1="327.10" y1="60.80" x2="328.70" y2="60.80" stroke="#909090" stroke-width="0.9"/>
<line x1="327.10" y1="54.70" x2="328.70" y2="54.70" stroke="#909090" stroke-width="0.9"/>
<line x1="327.10" y1="48.60" x2="328.70" y2="48.60" stroke="#909090" stroke-width="0.9"/>
<line x1="327.10" y1="42.50" x2="328.70" y2="42.50" stroke="#909090" stroke-width="0.9"/>
<line x1="327.10" y1="36.40" x2="328.70" y2="36.40" stroke="#909090" stroke-width="0.9"/>
<line x1="327.10" y1="30.30" x2="328.70" y2="30.30" stroke="#909090" stroke-width="0.9"/>
<line x1="327.10" y1="24.20" x2="328.70" y2="24.20" stroke="#909090" stroke-width="0.9"/>
<line x1="327.10" y1="18.10" x2="328.70" y2="18.10" stroke="#909090" stroke-width="0.9"/>
<line x1="325.90" y1="73.00" x2="328.70" y2="73.00" stroke="#909090" stroke-width="1"/>
<text x="325.00" y="77.40" font-size="11.00" text-anchor="end" fill="#000" >10</text>
<line x1="325.90" y1="42.50" x2="328.70" y2="42.50" stroke="#909090" stroke-width="1"/>
<text x="325.00" y="46.90" font-size="11.00" text-anchor="end" fill="#000" >20</text>
<line x1="332.00" y1="92.00" x2="332.00" y2="93.60" stroke="#909090" stroke-width="0.9"/>
<line x1="343.32" y1="92.00" x2="343.32" y2="93.60" stroke="#909090" stroke-width="0.9"/>
<line x1="354.65" y1="92.00" x2="354.65" y2="93.60" stroke="#909090" stroke-width="0.9"/>
<line x1="365.97" y1="92.00" x2="365.97" y2="93.60" stroke="#909090" stroke-width="0.9"/>
<line x1="377.30" y1="92.00" x2="377.30" y2="93.60" stroke="#909090" stroke-width="0.9"/>
<line x1="388.62" y1="92.00" x2="388.62" y2="93.60" stroke="#909090" stroke-width="0.9"/>
<line x1="399.95" y1="92.00" x2="399.95" y2="93.60" stroke="#909090" stroke-width="0.9"/>
<line x1="411.27" y1="92.00" x2="411.27" y2="93.60" stroke="#909090" stroke-width="0.9"/>
<line x1="422.60" y1="92.00" x2="422.60" y2="93.60" stroke="#909090" stroke-width="0.9"/>
<line x1="433.92" y1="92.00" x2="433.92" y2="93.60" stroke="#909090" stroke-width="0.9"/>
<line x1="445.25" y1="92.00" x2="445.25" y2="93.60" stroke="#909090" stroke-width="0.9"/>
<line x1="456.57" y1="92.00" x2="456.57" y2="93.60" stroke="#909090" stroke-width="0.9"/>
<line x1="467.90" y1="92.00" x2="467.90" y2="93.60" stroke="#909090" stroke-width="0.9"/>
<line x1="479.22" y1="92.00" x2="479.22" y2="93.60" stroke="#909090" stroke-width="0.9"/>
<line x1="490.55" y1="92.00" x2="490.55" y2="93.60" stroke="#909090" stroke-width="0.9"/>
<line x1="501.87" y1="92.00" x2="501.87" y2="93.60" stroke="#909090" stroke-width="0.9"/>
<line x1="513.20" y1="92.00" x2="513.20" y2="93.60" stroke="#909090" stroke-width="0.9"/>
<line x1="524.52" y1="92.00" x2="524.52" y2="93.60" stroke="#909090" stroke-width="0.9"/>
<line x1="535.85" y1="92.00" x2="535.85" y2="93.60" stroke="#909090" stroke-width="0.9"/>
<line x1="547.17" y1="92.00" x2="547.17" y2="93.60" stroke="#909090" stroke-width="0.9"/>
<line x1="332.00" y1="92.00" x2="332.00" y2="94.80" stroke="#909090" stroke-width="1"/>
<text x="332.00" y="103.10" font-size="11.00" text-anchor="middle" fill="#000" >1.00</text>
<line x1="377.30" y1="92.00" x2="377.30" y2="94.80" stroke="#909090" stroke-width="1"/>
<text x="377.30" y="103.10" font-size="11.00" text-anchor="middle" fill="#000" >1.02</text>
<line x1="422.60" y1="92.00" x2="422.60" y2="94.80" stroke="#909090" stroke-width="1"/>
<text x="422.60" y="103.10" font-size="11.00" text-anchor="middle" fill="#000" >1.04</text>
<line x1="467.90" y1="92.00" x2="467.90" y2="94.80" stroke="#909090" stroke-width="1"/>
<text x="467.90" y="103.10" font-size="11.00" text-anchor="middle" fill="#000" >1.06</text>
<line x1="513.20" y1="92.00" x2="513.20" y2="94.80" stroke="#909090" stroke-width="1"/>
<text x="513.20" y="103.10" font-size="11.00" text-anchor="middle" fill="#000" >1.08</text>
<text x="171" y="113.7" font-size="11" text-anchor="middle"><tspan font-style="italic">ρ</tspan><tspan font-size="8" dy="2" font-style="italic">p</tspan></text>
<text x="442" y="113.7" font-size="11" text-anchor="middle"><tspan font-style="italic">ρ</tspan><tspan font-size="8" dy="2" font-style="italic">p</tspan></text>
<rect x="57.60" y="118.30" width="227.40" height="84.00" fill="none" stroke="#a8a8a8" stroke-width="1.2"/>
<line x1="56.00" y1="196.70" x2="57.60" y2="196.70" stroke="#909090" stroke-width="0.9"/>
<line x1="56.00" y1="189.57" x2="57.60" y2="189.57" stroke="#909090" stroke-width="0.9"/>
<line x1="56.00" y1="182.44" x2="57.60" y2="182.44" stroke="#909090" stroke-width="0.9"/>
<line x1="56.00" y1="175.31" x2="57.60" y2="175.31" stroke="#909090" stroke-width="0.9"/>
<line x1="56.00" y1="168.18" x2="57.60" y2="168.18" stroke="#909090" stroke-width="0.9"/>
<line x1="56.00" y1="161.05" x2="57.60" y2="161.05" stroke="#909090" stroke-width="0.9"/>
<line x1="56.00" y1="153.92" x2="57.60" y2="153.92" stroke="#909090" stroke-width="0.9"/>
<line x1="56.00" y1="146.79" x2="57.60" y2="146.79" stroke="#909090" stroke-width="0.9"/>
<line x1="56.00" y1="139.66" x2="57.60" y2="139.66" stroke="#909090" stroke-width="0.9"/>
<line x1="56.00" y1="132.53" x2="57.60" y2="132.53" stroke="#909090" stroke-width="0.9"/>
<line x1="56.00" y1="125.40" x2="57.60" y2="125.40" stroke="#909090" stroke-width="0.9"/>
<line x1="56.00" y1="118.27" x2="57.60" y2="118.27" stroke="#909090" stroke-width="0.9"/>
<line x1="54.80" y1="196.70" x2="57.60" y2="196.70" stroke="#909090" stroke-width="1"/>
<text x="54.20" y="201.10" font-size="11.00" text-anchor="end" fill="#000" >0.0</text>
<line x1="54.80" y1="161.05" x2="57.60" y2="161.05" stroke="#909090" stroke-width="1"/>
<text x="54.20" y="165.45" font-size="11.00" text-anchor="end" fill="#000" >0.5</text>
<line x1="54.80" y1="125.40" x2="57.60" y2="125.40" stroke="#909090" stroke-width="1"/>
<text x="54.20" y="129.80" font-size="11.00" text-anchor="end" fill="#000" >1.0</text>
<rect x="328.70" y="118.30" width="227.50" height="84.00" fill="none" stroke="#a8a8a8" stroke-width="1.2"/>
<line x1="327.10" y1="201.90" x2="328.70" y2="201.90" stroke="#909090" stroke-width="0.9"/>
<line x1="327.10" y1="190.03" x2="328.70" y2="190.03" stroke="#909090" stroke-width="0.9"/>
<line x1="327.10" y1="178.15" x2="328.70" y2="178.15" stroke="#909090" stroke-width="0.9"/>
<line x1="327.10" y1="166.28" x2="328.70" y2="166.28" stroke="#909090" stroke-width="0.9"/>
<line x1="327.10" y1="154.40" x2="328.70" y2="154.40" stroke="#909090" stroke-width="0.9"/>
<line x1="327.10" y1="142.53" x2="328.70" y2="142.53" stroke="#909090" stroke-width="0.9"/>
<line x1="327.10" y1="130.65" x2="328.70" y2="130.65" stroke="#909090" stroke-width="0.9"/>
<line x1="327.10" y1="118.77" x2="328.70" y2="118.77" stroke="#909090" stroke-width="0.9"/>
<line x1="325.90" y1="201.90" x2="328.70" y2="201.90" stroke="#909090" stroke-width="1"/>
<text x="325.00" y="206.30" font-size="11.00" text-anchor="end" fill="#000" >0.0</text>
<line x1="325.90" y1="154.40" x2="328.70" y2="154.40" stroke="#909090" stroke-width="1"/>
<text x="325.00" y="158.80" font-size="11.00" text-anchor="end" fill="#000" >0.2</text>
<rect x="57.60" y="202.30" width="227.40" height="84.10" fill="none" stroke="#a8a8a8" stroke-width="1.2"/>
<line x1="56.00" y1="285.60" x2="57.60" y2="285.60" stroke="#909090" stroke-width="0.9"/>
<line x1="56.00" y1="278.70" x2="57.60" y2="278.70" stroke="#909090" stroke-width="0.9"/>
<line x1="56.00" y1="271.80" x2="57.60" y2="271.80" stroke="#909090" stroke-width="0.9"/>
<line x1="56.00" y1="264.90" x2="57.60" y2="264.90" stroke="#909090" stroke-width="0.9"/>
<line x1="56.00" y1="258.00" x2="57.60" y2="258.00" stroke="#909090" stroke-width="0.9"/>
<line x1="56.00" y1="251.10" x2="57.60" y2="251.10" stroke="#909090" stroke-width="0.9"/>
<line x1="56.00" y1="244.20" x2="57.60" y2="244.20" stroke="#909090" stroke-width="0.9"/>
<line x1="56.00" y1="237.30" x2="57.60" y2="237.30" stroke="#909090" stroke-width="0.9"/>
<line x1="56.00" y1="230.40" x2="57.60" y2="230.40" stroke="#909090" stroke-width="0.9"/>
<line x1="56.00" y1="223.50" x2="57.60" y2="223.50" stroke="#909090" stroke-width="0.9"/>
<line x1="56.00" y1="216.60" x2="57.60" y2="216.60" stroke="#909090" stroke-width="0.9"/>
<line x1="56.00" y1="209.70" x2="57.60" y2="209.70" stroke="#909090" stroke-width="0.9"/>
<line x1="56.00" y1="202.80" x2="57.60" y2="202.80" stroke="#909090" stroke-width="0.9"/>
<line x1="54.80" y1="285.60" x2="57.60" y2="285.60" stroke="#909090" stroke-width="1"/>
<text x="54.20" y="290.00" font-size="11.00" text-anchor="end" fill="#000" >0</text>
<line x1="54.80" y1="258.00" x2="57.60" y2="258.00" stroke="#909090" stroke-width="1"/>
<text x="54.20" y="262.40" font-size="11.00" text-anchor="end" fill="#000" >2</text>
<line x1="54.80" y1="230.40" x2="57.60" y2="230.40" stroke="#909090" stroke-width="1"/>
<text x="54.20" y="234.80" font-size="11.00" text-anchor="end" fill="#000" >4</text>
<line x1="54.80" y1="202.80" x2="57.60" y2="202.80" stroke="#909090" stroke-width="1"/>
<text x="54.20" y="207.20" font-size="11.00" text-anchor="end" fill="#000" >6</text>
<rect x="328.70" y="202.30" width="227.50" height="84.10" fill="none" stroke="#a8a8a8" stroke-width="1.2"/>
<line x1="327.10" y1="286.50" x2="328.70" y2="286.50" stroke="#909090" stroke-width="0.9"/>
<line x1="327.10" y1="279.50" x2="328.70" y2="279.50" stroke="#909090" stroke-width="0.9"/>
<line x1="327.10" y1="272.50" x2="328.70" y2="272.50" stroke="#909090" stroke-width="0.9"/>
<line x1="327.10" y1="265.50" x2="328.70" y2="265.50" stroke="#909090" stroke-width="0.9"/>
<line x1="327.10" y1="258.50" x2="328.70" y2="258.50" stroke="#909090" stroke-width="0.9"/>
<line x1="327.10" y1="251.50" x2="328.70" y2="251.50" stroke="#909090" stroke-width="0.9"/>
<line x1="327.10" y1="244.50" x2="328.70" y2="244.50" stroke="#909090" stroke-width="0.9"/>
<line x1="327.10" y1="237.50" x2="328.70" y2="237.50" stroke="#909090" stroke-width="0.9"/>
<line x1="327.10" y1="230.50" x2="328.70" y2="230.50" stroke="#909090" stroke-width="0.9"/>
<line x1="327.10" y1="223.50" x2="328.70" y2="223.50" stroke="#909090" stroke-width="0.9"/>
<line x1="327.10" y1="216.50" x2="328.70" y2="216.50" stroke="#909090" stroke-width="0.9"/>
<line x1="327.10" y1="209.50" x2="328.70" y2="209.50" stroke="#909090" stroke-width="0.9"/>
<line x1="327.10" y1="202.50" x2="328.70" y2="202.50" stroke="#909090" stroke-width="0.9"/>
<line x1="325.90" y1="286.50" x2="328.70" y2="286.50" stroke="#909090" stroke-width="1"/>
<text x="325.00" y="290.90" font-size="11.00" text-anchor="end" fill="#000" >0</text>
<line x1="325.90" y1="251.50" x2="328.70" y2="251.50" stroke="#909090" stroke-width="1"/>
<text x="325.00" y="255.90" font-size="11.00" text-anchor="end" fill="#000" >5</text>
<line x1="325.90" y1="216.50" x2="328.70" y2="216.50" stroke="#909090" stroke-width="1"/>
<text x="325.00" y="220.90" font-size="11.00" text-anchor="end" fill="#000" >10</text>
<rect x="57.60" y="286.40" width="227.40" height="84.20" fill="none" stroke="#a8a8a8" stroke-width="1.2"/>
<line x1="56.00" y1="366.80" x2="57.60" y2="366.80" stroke="#909090" stroke-width="0.9"/>
<line x1="56.00" y1="358.16" x2="57.60" y2="358.16" stroke="#909090" stroke-width="0.9"/>
<line x1="56.00" y1="349.52" x2="57.60" y2="349.52" stroke="#909090" stroke-width="0.9"/>
<line x1="56.00" y1="340.88" x2="57.60" y2="340.88" stroke="#909090" stroke-width="0.9"/>
<line x1="56.00" y1="332.24" x2="57.60" y2="332.24" stroke="#909090" stroke-width="0.9"/>
<line x1="56.00" y1="323.60" x2="57.60" y2="323.60" stroke="#909090" stroke-width="0.9"/>
<line x1="56.00" y1="314.96" x2="57.60" y2="314.96" stroke="#909090" stroke-width="0.9"/>
<line x1="56.00" y1="306.32" x2="57.60" y2="306.32" stroke="#909090" stroke-width="0.9"/>
<line x1="56.00" y1="297.68" x2="57.60" y2="297.68" stroke="#909090" stroke-width="0.9"/>
<line x1="56.00" y1="289.04" x2="57.60" y2="289.04" stroke="#909090" stroke-width="0.9"/>
<line x1="54.80" y1="366.80" x2="57.60" y2="366.80" stroke="#909090" stroke-width="1"/>
<text x="54.20" y="371.20" font-size="11.00" text-anchor="end" fill="#000" >0.0</text>
<line x1="54.80" y1="323.60" x2="57.60" y2="323.60" stroke="#909090" stroke-width="1"/>
<text x="54.20" y="328.00" font-size="11.00" text-anchor="end" fill="#000" >0.5</text>
<rect x="328.70" y="286.40" width="227.50" height="84.20" fill="none" stroke="#a8a8a8" stroke-width="1.2"/>
<line x1="327.10" y1="367.00" x2="328.70" y2="367.00" stroke="#909090" stroke-width="0.9"/>
<line x1="327.10" y1="358.26" x2="328.70" y2="358.26" stroke="#909090" stroke-width="0.9"/>
<line x1="327.10" y1="349.52" x2="328.70" y2="349.52" stroke="#909090" stroke-width="0.9"/>
<line x1="327.10" y1="340.78" x2="328.70" y2="340.78" stroke="#909090" stroke-width="0.9"/>
<line x1="327.10" y1="332.04" x2="328.70" y2="332.04" stroke="#909090" stroke-width="0.9"/>
<line x1="327.10" y1="323.30" x2="328.70" y2="323.30" stroke="#909090" stroke-width="0.9"/>
<line x1="327.10" y1="314.56" x2="328.70" y2="314.56" stroke="#909090" stroke-width="0.9"/>
<line x1="327.10" y1="305.82" x2="328.70" y2="305.82" stroke="#909090" stroke-width="0.9"/>
<line x1="327.10" y1="297.08" x2="328.70" y2="297.08" stroke="#909090" stroke-width="0.9"/>
<line x1="327.10" y1="288.34" x2="328.70" y2="288.34" stroke="#909090" stroke-width="0.9"/>
<line x1="325.90" y1="367.00" x2="328.70" y2="367.00" stroke="#909090" stroke-width="1"/>
<text x="325.00" y="371.40" font-size="11.00" text-anchor="end" fill="#000" >0.0</text>
<line x1="325.90" y1="323.30" x2="328.70" y2="323.30" stroke="#909090" stroke-width="1"/>
<text x="325.00" y="327.70" font-size="11.00" text-anchor="end" fill="#000" >0.2</text>
<rect x="57.60" y="370.60" width="227.40" height="84.10" fill="none" stroke="#a8a8a8" stroke-width="1.2"/>
<line x1="56.00" y1="454.80" x2="57.60" y2="454.80" stroke="#909090" stroke-width="0.9"/>
<line x1="56.00" y1="446.34" x2="57.60" y2="446.34" stroke="#909090" stroke-width="0.9"/>
<line x1="56.00" y1="437.88" x2="57.60" y2="437.88" stroke="#909090" stroke-width="0.9"/>
<line x1="56.00" y1="429.41" x2="57.60" y2="429.41" stroke="#909090" stroke-width="0.9"/>
<line x1="56.00" y1="420.95" x2="57.60" y2="420.95" stroke="#909090" stroke-width="0.9"/>
<line x1="56.00" y1="412.49" x2="57.60" y2="412.49" stroke="#909090" stroke-width="0.9"/>
<line x1="56.00" y1="404.02" x2="57.60" y2="404.02" stroke="#909090" stroke-width="0.9"/>
<line x1="56.00" y1="395.56" x2="57.60" y2="395.56" stroke="#909090" stroke-width="0.9"/>
<line x1="56.00" y1="387.10" x2="57.60" y2="387.10" stroke="#909090" stroke-width="0.9"/>
<line x1="56.00" y1="378.64" x2="57.60" y2="378.64" stroke="#909090" stroke-width="0.9"/>
<line x1="56.00" y1="370.18" x2="57.60" y2="370.18" stroke="#909090" stroke-width="0.9"/>
<line x1="54.80" y1="454.80" x2="57.60" y2="454.80" stroke="#909090" stroke-width="1"/>
<text x="54.20" y="459.20" font-size="11.00" text-anchor="end" fill="#000" >0</text>
<line x1="54.80" y1="420.95" x2="57.60" y2="420.95" stroke="#909090" stroke-width="1"/>
<text x="54.20" y="425.35" font-size="11.00" text-anchor="end" fill="#000" >1</text>
<line x1="54.80" y1="387.10" x2="57.60" y2="387.10" stroke="#909090" stroke-width="1"/>
<text x="54.20" y="391.50" font-size="11.00" text-anchor="end" fill="#000" >2</text>
<rect x="328.70" y="370.60" width="227.50" height="84.10" fill="none" stroke="#a8a8a8" stroke-width="1.2"/>
<line x1="327.10" y1="449.30" x2="328.70" y2="449.30" stroke="#909090" stroke-width="0.9"/>
<line x1="327.10" y1="439.90" x2="328.70" y2="439.90" stroke="#909090" stroke-width="0.9"/>
<line x1="327.10" y1="430.50" x2="328.70" y2="430.50" stroke="#909090" stroke-width="0.9"/>
<line x1="327.10" y1="421.10" x2="328.70" y2="421.10" stroke="#909090" stroke-width="0.9"/>
<line x1="327.10" y1="411.70" x2="328.70" y2="411.70" stroke="#909090" stroke-width="0.9"/>
<line x1="327.10" y1="402.30" x2="328.70" y2="402.30" stroke="#909090" stroke-width="0.9"/>
<line x1="327.10" y1="392.90" x2="328.70" y2="392.90" stroke="#909090" stroke-width="0.9"/>
<line x1="327.10" y1="383.50" x2="328.70" y2="383.50" stroke="#909090" stroke-width="0.9"/>
<line x1="327.10" y1="374.10" x2="328.70" y2="374.10" stroke="#909090" stroke-width="0.9"/>
<line x1="325.90" y1="449.30" x2="328.70" y2="449.30" stroke="#909090" stroke-width="1"/>
<text x="325.00" y="453.70" font-size="11.00" text-anchor="end" fill="#000" >0.0</text>
<line x1="325.90" y1="402.30" x2="328.70" y2="402.30" stroke="#909090" stroke-width="1"/>
<text x="325.00" y="406.70" font-size="11.00" text-anchor="end" fill="#000" >0.5</text>
<rect x="57.60" y="454.70" width="227.40" height="84.00" fill="none" stroke="#a8a8a8" stroke-width="1.2"/>
<line x1="56.00" y1="535.70" x2="57.60" y2="535.70" stroke="#909090" stroke-width="0.9"/>
<line x1="56.00" y1="526.02" x2="57.60" y2="526.02" stroke="#909090" stroke-width="0.9"/>
<line x1="56.00" y1="516.34" x2="57.60" y2="516.34" stroke="#909090" stroke-width="0.9"/>
<line x1="56.00" y1="506.66" x2="57.60" y2="506.66" stroke="#909090" stroke-width="0.9"/>
<line x1="56.00" y1="496.98" x2="57.60" y2="496.98" stroke="#909090" stroke-width="0.9"/>
<line x1="56.00" y1="487.30" x2="57.60" y2="487.30" stroke="#909090" stroke-width="0.9"/>
<line x1="56.00" y1="477.62" x2="57.60" y2="477.62" stroke="#909090" stroke-width="0.9"/>
<line x1="56.00" y1="467.94" x2="57.60" y2="467.94" stroke="#909090" stroke-width="0.9"/>
<line x1="56.00" y1="458.26" x2="57.60" y2="458.26" stroke="#909090" stroke-width="0.9"/>
<line x1="54.80" y1="535.70" x2="57.60" y2="535.70" stroke="#909090" stroke-width="1"/>
<text x="54.20" y="540.10" font-size="11.00" text-anchor="end" fill="#000" >0</text>
<line x1="54.80" y1="487.30" x2="57.60" y2="487.30" stroke="#909090" stroke-width="1"/>
<text x="54.20" y="491.70" font-size="11.00" text-anchor="end" fill="#000" >1</text>
<line x1="57.60" y1="538.70" x2="57.60" y2="540.30" stroke="#909090" stroke-width="0.9"/>
<line x1="66.70" y1="538.70" x2="66.70" y2="540.30" stroke="#909090" stroke-width="0.9"/>
<line x1="75.79" y1="538.70" x2="75.79" y2="540.30" stroke="#909090" stroke-width="0.9"/>
<line x1="84.89" y1="538.70" x2="84.89" y2="540.30" stroke="#909090" stroke-width="0.9"/>
<line x1="93.98" y1="538.70" x2="93.98" y2="540.30" stroke="#909090" stroke-width="0.9"/>
<line x1="103.08" y1="538.70" x2="103.08" y2="540.30" stroke="#909090" stroke-width="0.9"/>
<line x1="112.18" y1="538.70" x2="112.18" y2="540.30" stroke="#909090" stroke-width="0.9"/>
<line x1="121.27" y1="538.70" x2="121.27" y2="540.30" stroke="#909090" stroke-width="0.9"/>
<line x1="130.37" y1="538.70" x2="130.37" y2="540.30" stroke="#909090" stroke-width="0.9"/>
<line x1="139.46" y1="538.70" x2="139.46" y2="540.30" stroke="#909090" stroke-width="0.9"/>
<line x1="148.56" y1="538.70" x2="148.56" y2="540.30" stroke="#909090" stroke-width="0.9"/>
<line x1="157.66" y1="538.70" x2="157.66" y2="540.30" stroke="#909090" stroke-width="0.9"/>
<line x1="166.75" y1="538.70" x2="166.75" y2="540.30" stroke="#909090" stroke-width="0.9"/>
<line x1="175.85" y1="538.70" x2="175.85" y2="540.30" stroke="#909090" stroke-width="0.9"/>
<line x1="184.94" y1="538.70" x2="184.94" y2="540.30" stroke="#909090" stroke-width="0.9"/>
<line x1="194.04" y1="538.70" x2="194.04" y2="540.30" stroke="#909090" stroke-width="0.9"/>
<line x1="203.14" y1="538.70" x2="203.14" y2="540.30" stroke="#909090" stroke-width="0.9"/>
<line x1="212.23" y1="538.70" x2="212.23" y2="540.30" stroke="#909090" stroke-width="0.9"/>
<line x1="221.33" y1="538.70" x2="221.33" y2="540.30" stroke="#909090" stroke-width="0.9"/>
<line x1="230.42" y1="538.70" x2="230.42" y2="540.30" stroke="#909090" stroke-width="0.9"/>
<line x1="239.52" y1="538.70" x2="239.52" y2="540.30" stroke="#909090" stroke-width="0.9"/>
<line x1="248.62" y1="538.70" x2="248.62" y2="540.30" stroke="#909090" stroke-width="0.9"/>
<line x1="257.71" y1="538.70" x2="257.71" y2="540.30" stroke="#909090" stroke-width="0.9"/>
<line x1="266.81" y1="538.70" x2="266.81" y2="540.30" stroke="#909090" stroke-width="0.9"/>
<line x1="275.90" y1="538.70" x2="275.90" y2="540.30" stroke="#909090" stroke-width="0.9"/>
<line x1="285.00" y1="538.70" x2="285.00" y2="540.30" stroke="#909090" stroke-width="0.9"/>
<line x1="57.60" y1="538.70" x2="57.60" y2="541.50" stroke="#909090" stroke-width="1"/>
<text x="57.60" y="550.30" font-size="11.00" text-anchor="middle" fill="#000" >0</text>
<line x1="103.08" y1="538.70" x2="103.08" y2="541.50" stroke="#909090" stroke-width="1"/>
<text x="103.08" y="550.30" font-size="11.00" text-anchor="middle" fill="#000" >1</text>
<line x1="148.56" y1="538.70" x2="148.56" y2="541.50" stroke="#909090" stroke-width="1"/>
<text x="148.56" y="550.30" font-size="11.00" text-anchor="middle" fill="#000" >2</text>
<line x1="194.04" y1="538.70" x2="194.04" y2="541.50" stroke="#909090" stroke-width="1"/>
<text x="194.04" y="550.30" font-size="11.00" text-anchor="middle" fill="#000" >3</text>
<line x1="239.52" y1="538.70" x2="239.52" y2="541.50" stroke="#909090" stroke-width="1"/>
<text x="239.52" y="550.30" font-size="11.00" text-anchor="middle" fill="#000" >4</text>
<line x1="285.00" y1="538.70" x2="285.00" y2="541.50" stroke="#909090" stroke-width="1"/>
<text x="285.00" y="550.30" font-size="11.00" text-anchor="middle" fill="#000" >5</text>
<rect x="328.70" y="454.70" width="227.50" height="84.00" fill="none" stroke="#a8a8a8" stroke-width="1.2"/>
<line x1="327.10" y1="533.20" x2="328.70" y2="533.20" stroke="#909090" stroke-width="0.9"/>
<line x1="327.10" y1="526.59" x2="328.70" y2="526.59" stroke="#909090" stroke-width="0.9"/>
<line x1="327.10" y1="519.98" x2="328.70" y2="519.98" stroke="#909090" stroke-width="0.9"/>
<line x1="327.10" y1="513.37" x2="328.70" y2="513.37" stroke="#909090" stroke-width="0.9"/>
<line x1="327.10" y1="506.76" x2="328.70" y2="506.76" stroke="#909090" stroke-width="0.9"/>
<line x1="327.10" y1="500.15" x2="328.70" y2="500.15" stroke="#909090" stroke-width="0.9"/>
<line x1="327.10" y1="493.54" x2="328.70" y2="493.54" stroke="#909090" stroke-width="0.9"/>
<line x1="327.10" y1="486.93" x2="328.70" y2="486.93" stroke="#909090" stroke-width="0.9"/>
<line x1="327.10" y1="480.32" x2="328.70" y2="480.32" stroke="#909090" stroke-width="0.9"/>
<line x1="327.10" y1="473.71" x2="328.70" y2="473.71" stroke="#909090" stroke-width="0.9"/>
<line x1="327.10" y1="467.10" x2="328.70" y2="467.10" stroke="#909090" stroke-width="0.9"/>
<line x1="327.10" y1="460.49" x2="328.70" y2="460.49" stroke="#909090" stroke-width="0.9"/>
<line x1="325.90" y1="533.20" x2="328.70" y2="533.20" stroke="#909090" stroke-width="1"/>
<text x="325.00" y="537.60" font-size="11.00" text-anchor="end" fill="#000" >0.00</text>
<line x1="325.90" y1="500.15" x2="328.70" y2="500.15" stroke="#909090" stroke-width="1"/>
<text x="325.00" y="504.55" font-size="11.00" text-anchor="end" fill="#000" >0.05</text>
<line x1="325.90" y1="467.10" x2="328.70" y2="467.10" stroke="#909090" stroke-width="1"/>
<text x="325.00" y="471.50" font-size="11.00" text-anchor="end" fill="#000" >0.10</text>
<line x1="328.70" y1="538.70" x2="328.70" y2="540.30" stroke="#909090" stroke-width="0.9"/>
<line x1="340.07" y1="538.70" x2="340.07" y2="540.30" stroke="#909090" stroke-width="0.9"/>
<line x1="351.45" y1="538.70" x2="351.45" y2="540.30" stroke="#909090" stroke-width="0.9"/>
<line x1="362.82" y1="538.70" x2="362.82" y2="540.30" stroke="#909090" stroke-width="0.9"/>
<line x1="374.20" y1="538.70" x2="374.20" y2="540.30" stroke="#909090" stroke-width="0.9"/>
<line x1="385.57" y1="538.70" x2="385.57" y2="540.30" stroke="#909090" stroke-width="0.9"/>
<line x1="396.95" y1="538.70" x2="396.95" y2="540.30" stroke="#909090" stroke-width="0.9"/>
<line x1="408.32" y1="538.70" x2="408.32" y2="540.30" stroke="#909090" stroke-width="0.9"/>
<line x1="419.70" y1="538.70" x2="419.70" y2="540.30" stroke="#909090" stroke-width="0.9"/>
<line x1="431.07" y1="538.70" x2="431.07" y2="540.30" stroke="#909090" stroke-width="0.9"/>
<line x1="442.45" y1="538.70" x2="442.45" y2="540.30" stroke="#909090" stroke-width="0.9"/>
<line x1="453.82" y1="538.70" x2="453.82" y2="540.30" stroke="#909090" stroke-width="0.9"/>
<line x1="465.20" y1="538.70" x2="465.20" y2="540.30" stroke="#909090" stroke-width="0.9"/>
<line x1="476.57" y1="538.70" x2="476.57" y2="540.30" stroke="#909090" stroke-width="0.9"/>
<line x1="487.95" y1="538.70" x2="487.95" y2="540.30" stroke="#909090" stroke-width="0.9"/>
<line x1="499.32" y1="538.70" x2="499.32" y2="540.30" stroke="#909090" stroke-width="0.9"/>
<line x1="510.70" y1="538.70" x2="510.70" y2="540.30" stroke="#909090" stroke-width="0.9"/>
<line x1="522.08" y1="538.70" x2="522.08" y2="540.30" stroke="#909090" stroke-width="0.9"/>
<line x1="533.45" y1="538.70" x2="533.45" y2="540.30" stroke="#909090" stroke-width="0.9"/>
<line x1="544.83" y1="538.70" x2="544.83" y2="540.30" stroke="#909090" stroke-width="0.9"/>
<line x1="556.20" y1="538.70" x2="556.20" y2="540.30" stroke="#909090" stroke-width="0.9"/>
<line x1="328.70" y1="538.70" x2="328.70" y2="541.50" stroke="#909090" stroke-width="1"/>
<text x="328.70" y="550.30" font-size="11.00" text-anchor="middle" fill="#000" >0.0</text>
<line x1="385.57" y1="538.70" x2="385.57" y2="541.50" stroke="#909090" stroke-width="1"/>
<text x="385.57" y="550.30" font-size="11.00" text-anchor="middle" fill="#000" >0.5</text>
<line x1="442.45" y1="538.70" x2="442.45" y2="541.50" stroke="#909090" stroke-width="1"/>
<text x="442.45" y="550.30" font-size="11.00" text-anchor="middle" fill="#000" >1.0</text>
<line x1="499.32" y1="538.70" x2="499.32" y2="541.50" stroke="#909090" stroke-width="1"/>
<text x="499.32" y="550.30" font-size="11.00" text-anchor="middle" fill="#000" >1.5</text>
<line x1="556.20" y1="538.70" x2="556.20" y2="541.50" stroke="#909090" stroke-width="1"/>
<text x="556.20" y="550.30" font-size="11.00" text-anchor="middle" fill="#000" >2.0</text>
<text x="171.00" y="562.50" font-size="11.00" text-anchor="middle" fill="#000" >t [s]</text>
<text x="442.00" y="562.50" font-size="11.00" text-anchor="middle" fill="#000" >t [s]</text>
<text x="262.80" y="28.60" font-size="10.50" text-anchor="start" fill="#000" >(a)</text>
<text x="533.70" y="28.60" font-size="10.50" text-anchor="start" fill="#000" >(g)</text>
<text x="262.80" y="130.60" font-size="10.50" text-anchor="start" fill="#000" >(b)</text>
<text x="533.70" y="130.60" font-size="10.50" text-anchor="start" fill="#000" >(h)</text>
<text x="262.80" y="214.60" font-size="10.50" text-anchor="start" fill="#000" >(c)</text>
<text x="533.70" y="214.60" font-size="10.50" text-anchor="start" fill="#000" >(i)</text>
<text x="262.80" y="298.70" font-size="10.50" text-anchor="start" fill="#000" >(d)</text>
<text x="533.70" y="298.70" font-size="10.50" text-anchor="start" fill="#000" >(l)</text>
<text x="262.80" y="382.90" font-size="10.50" text-anchor="start" fill="#000" >(e)</text>
<text x="533.70" y="382.90" font-size="10.50" text-anchor="start" fill="#000" >(m)</text>
<text x="262.80" y="467.00" font-size="10.50" text-anchor="start" fill="#000" >(f)</text>
<text x="533.70" y="467.00" font-size="10.50" text-anchor="start" fill="#000" >(n)</text>
<g id="la" transform="translate(42.60,55.60) rotate(-90)">
<text x="-15.3" y="0" font-size="10.8">L</text>
<rect x="-7.0" y="-4.4" width="1.9" height="7.7" fill="#7a7a7a"/>
<text x="0.8" y="0" font-size="10.8">[m]</text>
</g>
<g id="lg" transform="translate(306.60,55.40) rotate(-90)">
<text x="-15.3" y="0" font-size="10.8">L</text>
<rect x="-7.0" y="-4.4" width="1.9" height="7.7" fill="#7a7a7a"/>
<text x="0.8" y="0" font-size="10.8">[m]</text>
</g>
<text id="lb" transform="translate(33.20,161.10) rotate(-90) scale(1.000,1)" x="0" y="0" font-size="11.00" text-anchor="middle">I<tspan font-size="8" dy="2.4" font-style="italic">p</tspan><tspan dy="-2.4"> [MA]</tspan></text>
<text id="lh" transform="translate(306.20,161.00) rotate(-90) scale(1.000,1)" x="0" y="0" font-size="11.00" text-anchor="middle">I<tspan font-size="8" dy="2.4" font-style="italic">p</tspan><tspan dy="-2.4"> [MA]</tspan></text>
<text id="lc" transform="translate(42.80,245.30) rotate(-90) scale(1.140,1)" x="0" y="0" font-size="11.00" text-anchor="middle">n<tspan font-size="7.5" dy="2.6">e</tspan><tspan font-size="7.5" dx="-4.2" dy="-6.8">e</tspan><tspan dy="4.2">[10</tspan><tspan font-size="7.5" dy="-4.4">19</tspan><tspan dy="4.4">m</tspan><tspan font-size="7.5" dy="-4.4">−3</tspan><tspan dy="4.4">]</tspan></text>
<text id="li" transform="translate(306.60,245.10) rotate(-90) scale(1.150,1)" x="0" y="0" font-size="11.00" text-anchor="middle">n<tspan font-size="7.5" dy="2.6">e</tspan><tspan font-size="7.5" dx="-4.2" dy="-6.8">e</tspan><tspan dy="4.2">[10</tspan><tspan font-size="7.5" dy="-4.4">19</tspan><tspan dy="4.4">m</tspan><tspan font-size="7.5" dy="-4.4">−3</tspan><tspan dy="4.4">]</tspan></text>
<text id="ld" transform="translate(34.60,328.90) rotate(-90) scale(1.080,1)" x="0" y="0" font-size="11.00" text-anchor="middle">D<tspan font-size="8" dy="2.4">2</tspan><tspan dy="-2.4"> [10</tspan><tspan font-size="8" dy="-4.4">22</tspan><tspan dy="4.4">el/s]</tspan></text>
<text id="lj" transform="translate(306.10,329.50) rotate(-90) scale(1.100,1)" x="0" y="0" font-size="11.00" text-anchor="middle">D<tspan font-size="8" dy="2.4">2</tspan><tspan dy="-2.4">[10</tspan><tspan font-size="8" dy="-4.4">22</tspan><tspan dy="4.4">el/s]</tspan></text>
<text id="le" transform="translate(41.90,413.80) rotate(-90) scale(1.000,1)" x="0" y="0" font-size="11.00" text-anchor="middle">P<tspan font-size="8" dy="2.4" font-style="italic">sep</tspan><tspan dy="-2.4"> [MW]</tspan></text>
<text id="lm" transform="translate(305.30,413.50) rotate(-90) scale(1.000,1)" x="0" y="0" font-size="11.00" text-anchor="middle">P<tspan font-size="8" dy="2.4" >sep</tspan><tspan dy="-2.4"> [MW]</tspan></text>
<text id="ln" transform="translate(300.30,497.80) rotate(-90) scale(1.000,1)" x="0" y="0" font-size="11.00" text-anchor="middle">[Pa]</text>
<text x="68.7" y="468.5" font-size="10.8">[10<tspan font-size="8.6" dy="-4.6" dx="0.3">21</tspan><tspan dy="4.6" dx="0.6">molecules/m</tspan><tspan font-size="8.6" dy="-4.6" dx="0.3">2</tspan><tspan dy="4.6" dx="0.3">/s]</tspan></text>
<text x="102.90" y="214.30" font-size="8.30" text-anchor="start" fill="#d0222c" >#34105 0.6 MA</text>
<text x="102.90" y="222.30" font-size="8.30" text-anchor="start" fill="#6744b4" >#34102 0.8 MA</text>
<text x="102.90" y="230.50" font-size="8.30" text-anchor="start" fill="#336e4c" >#34106 1 MA</text>
<text x="351.40" y="214.00" font-size="8.30" text-anchor="start" fill="#d0222c" >#57437 0.19 MA</text>
<text x="351.40" y="222.00" font-size="8.30" text-anchor="start" fill="#6744b4" >#57425 0.25 MA</text>
<text x="351.40" y="230.00" font-size="8.30" text-anchor="start" fill="#336e4c" >#57497 0.33 MA</text>
</svg></body></html>
